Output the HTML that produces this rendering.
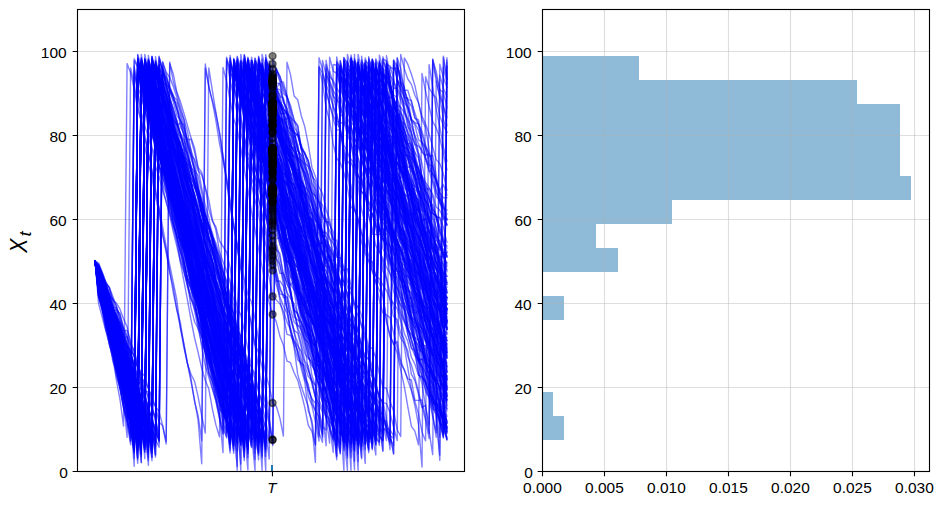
<!DOCTYPE html><html><head><meta charset="utf-8"><style>html,body{margin:0;padding:0;background:#fff;overflow:hidden}svg{display:block}text{font-family:"Liberation Sans",sans-serif;fill:#000}</style></head><body><svg width="944" height="505" viewBox="0 0 944 505"><rect width="944" height="505" fill="#fff"/><g stroke="#b0b0b0" stroke-opacity="0.42" stroke-width="1.11" fill="none"><path d="M77.5 471.50H464.5"/><path d="M77.5 387.50H464.5"/><path d="M77.5 303.50H464.5"/><path d="M77.5 219.50H464.5"/><path d="M77.5 135.50H464.5"/><path d="M77.5 51.50H464.5"/><path d="M272.45 9.5V471.5"/></g><defs><clipPath id="ca"><rect x="77.5" y="9.5" width="387" height="462"/></clipPath></defs><g clip-path="url(#ca)" fill="none" stroke="#0000ff" stroke-opacity="0.5" stroke-width="1.4" stroke-linejoin="round" stroke-linecap="square"><path d="M95.1 261.5 98.6 266.9 102.2 276.8 105.8 287.9 109.3 297.2 112.9 313.8 116.4 323.3 120.0 336.2 123.5 341.5 127.1 346.6 130.6 350.1 134.2 356.4 137.7 366.3 141.3 372.4 144.8 376.0 148.4 388.8 152.0 396.4 155.5 406.9 159.1 411.3 162.6 425.3 166.2 441.6 169.7 63.6 173.3 74.1 176.8 92.0 180.4 101.6 183.9 113.3 187.5 125.6 191.0 137.6 194.6 148.1 198.1 167.3 201.7 172.4 205.3 187.7 208.8 208.9 212.4 221.1 215.9 226.8 219.5 241.0 223.0 246.5 226.6 252.0 230.1 267.7 233.7 290.2 237.2 307.6 240.8 314.9 244.3 330.6 247.9 349.2 251.5 367.1 255.0 379.5 258.6 392.0 262.1 400.7 265.7 408.9 269.2 425.2 272.8 444.1 276.3 69.3 279.9 76.3 283.4 86.4 287.0 95.7 290.5 108.6 294.1 120.1 297.7 125.1 301.2 149.9 304.8 163.0 308.3 166.5 311.9 172.9 315.4 185.5 319.0 201.3 322.5 204.8 326.1 221.3 329.6 224.6 333.2 231.6 336.7 248.9 340.3 271.6 343.9 283.0 347.4 293.0 351.0 313.0 354.5 318.2 358.1 331.9 361.6 345.4 365.2 363.7 368.7 377.6 372.3 387.8 375.8 403.7 379.4 408.6 382.9 425.7 386.5 433.4 390.0 442.4 393.6 60.0 397.2 79.3 400.7 95.8 404.3 106.4 407.8 123.0 411.4 141.1 414.9 152.4 418.5 158.2 422.0 176.0 425.6 189.7 429.1 188.3 432.7 194.1 436.2 207.0 439.8 210.3 443.4 218.0 446.9 219.1"/><path d="M95.1 261.5 98.6 262.8 102.2 272.3 105.8 281.9 109.3 288.0 112.9 299.5 116.4 311.1 120.0 313.1 123.5 329.3 127.1 337.0 130.6 353.5 134.2 363.6 137.7 365.9 141.3 376.0 144.8 390.7 148.4 392.2 152.0 406.1 155.5 418.7 159.1 437.0 162.6 62.4 166.2 72.1 169.7 77.4 173.3 86.5 176.8 97.4 180.4 110.5 183.9 119.2 187.5 145.0 191.0 158.2 194.6 169.9 198.1 191.0 201.7 202.0 205.3 215.5 208.8 228.6 212.4 241.2 215.9 251.9 219.5 263.1 223.0 280.7 226.6 294.4 230.1 308.4 233.7 321.6 237.2 337.4 240.8 346.7 244.3 354.6 247.9 361.7 251.5 367.1 255.0 374.3 258.6 389.7 262.1 405.8 265.7 421.0 269.2 439.3 272.8 59.5 276.3 71.2 279.9 81.4 283.4 82.1 287.0 96.2 290.5 111.0 294.1 127.1 297.7 133.2 301.2 146.7 304.8 153.1 308.3 162.0 311.9 173.5 315.4 193.6 319.0 202.8 322.5 215.9 326.1 222.5 329.6 230.9 333.2 238.4 336.7 249.3 340.3 266.1 343.9 271.1 347.4 287.5 351.0 293.5 354.5 307.5 358.1 315.9 361.6 325.9 365.2 335.4 368.7 354.2 372.3 367.7 375.8 386.3 379.4 395.8 382.9 406.2 386.5 428.2 390.0 429.6 393.6 436.0 397.2 58.1 400.7 87.7 404.3 95.7 407.8 112.5 411.4 134.3 414.9 144.6 418.5 155.4 422.0 177.7 425.6 186.0 429.1 191.2 432.7 208.2 436.2 216.8 439.8 236.8 443.4 252.0 446.9 252.7"/><path d="M95.1 261.5 98.6 264.3 102.2 272.5 105.8 282.3 109.3 287.8 112.9 302.7 116.4 316.8 120.0 327.9 123.5 333.7 127.1 349.4 130.6 361.5 134.2 374.0 137.7 390.0 141.3 401.4 144.8 416.1 148.4 428.0 152.0 457.4 155.5 67.1 159.1 82.8 162.6 97.4 166.2 111.5 169.7 128.8 173.3 144.4 176.8 154.7 180.4 169.3 183.9 166.5 187.5 181.0 191.0 190.2 194.6 207.7 198.1 220.1 201.7 233.7 205.3 245.4 208.8 251.2 212.4 263.4 215.9 280.0 219.5 291.1 223.0 306.7 226.6 318.9 230.1 323.8 233.7 331.5 237.2 338.6 240.8 348.1 244.3 359.9 247.9 378.1 251.5 391.8 255.0 405.8 258.6 414.7 262.1 422.3 265.7 437.9 269.2 64.5 272.8 69.0 276.3 86.5 279.9 96.3 283.4 98.1 287.0 114.0 290.5 125.0 294.1 138.0 297.7 133.8 301.2 147.5 304.8 161.4 308.3 175.4 311.9 194.3 315.4 204.5 319.0 230.4 322.5 247.5 326.1 263.4 329.6 260.1 333.2 260.1 336.7 282.1 340.3 297.0 343.9 315.4 347.4 325.6 351.0 337.4 354.5 353.7 358.1 361.3 361.6 382.2 365.2 387.9 368.7 401.9 372.3 412.9 375.8 432.4 379.4 61.3 382.9 72.0 386.5 87.6 390.0 101.2 393.6 119.4 397.2 132.1 400.7 141.8 404.3 157.8 407.8 179.1 411.4 197.2 414.9 211.0 418.5 226.6 422.0 229.8 425.6 239.3 429.1 250.6 432.7 260.2 436.2 268.7 439.8 281.3 443.4 296.7 446.9 321.9"/><path d="M95.1 261.5 98.6 268.3 102.2 279.4 105.8 287.2 109.3 296.7 112.9 309.8 116.4 313.4 120.0 324.3 123.5 336.0 127.1 348.9 130.6 363.3 134.2 373.5 137.7 388.2 141.3 388.7 144.8 398.3 148.4 410.4 152.0 424.9 155.5 442.9 159.1 56.3 162.6 70.6 166.2 87.1 169.7 99.7 173.3 118.7 176.8 124.6 180.4 133.7 183.9 144.9 187.5 155.8 191.0 170.4 194.6 183.3 198.1 191.6 201.7 204.2 205.3 214.2 208.8 225.8 212.4 237.4 215.9 248.7 219.5 256.9 223.0 270.9 226.6 280.7 230.1 296.8 233.7 312.1 237.2 327.9 240.8 337.2 244.3 351.3 247.9 359.0 251.5 376.2 255.0 387.5 258.6 405.3 262.1 413.5 265.7 429.3 269.2 443.0 272.8 72.6 276.3 88.0 279.9 82.7 283.4 99.8 287.0 113.4 290.5 130.4 294.1 139.7 297.7 146.0 301.2 161.9 304.8 172.6 308.3 185.9 311.9 201.1 315.4 214.3 319.0 217.9 322.5 234.0 326.1 243.5 329.6 254.7 333.2 269.9 336.7 273.3 340.3 284.1 343.9 285.1 347.4 294.0 351.0 308.5 354.5 320.0 358.1 330.6 361.6 346.5 365.2 356.2 368.7 358.4 372.3 377.3 375.8 390.7 379.4 407.8 382.9 417.2 386.5 426.5 390.0 433.9 393.6 453.7 397.2 57.7 400.7 68.6 404.3 90.4 407.8 90.3 411.4 102.3 414.9 112.9 418.5 124.1 422.0 134.8 425.6 147.9 429.1 164.8 432.7 166.0 436.2 182.9 439.8 192.6 443.4 197.9 446.9 197.7"/><path d="M95.1 261.5 98.6 266.8 102.2 276.7 105.8 288.9 109.3 302.2 112.9 314.2 116.4 324.6 120.0 337.2 123.5 352.6 127.1 366.1 130.6 377.8 134.2 393.2 137.7 400.5 141.3 406.4 144.8 412.3 148.4 425.0 152.0 446.0 155.5 69.8 159.1 77.0 162.6 90.7 166.2 93.4 169.7 113.7 173.3 124.7 176.8 134.6 180.4 146.6 183.9 156.3 187.5 160.1 191.0 172.5 194.6 181.3 198.1 195.5 201.7 213.2 205.3 230.0 208.8 239.0 212.4 250.1 215.9 268.7 219.5 279.9 223.0 290.0 226.6 300.6 230.1 308.5 233.7 327.3 237.2 344.0 240.8 361.2 244.3 373.3 247.9 380.5 251.5 395.1 255.0 406.4 258.6 415.6 262.1 430.2 265.7 451.8 269.2 68.9 272.8 76.0 276.3 88.8 279.9 89.6 283.4 101.9 287.0 108.8 290.5 123.2 294.1 139.5 297.7 151.1 301.2 154.4 304.8 167.2 308.3 174.6 311.9 188.5 315.4 197.5 319.0 224.1 322.5 232.6 326.1 232.3 329.6 238.5 333.2 250.9 336.7 280.4 340.3 301.1 343.9 309.3 347.4 321.2 351.0 325.5 354.5 328.2 358.1 346.0 361.6 360.5 365.2 367.7 368.7 375.0 372.3 389.6 375.8 405.8 379.4 412.6 382.9 413.7 386.5 431.2 390.0 438.5 393.6 445.4 397.2 64.2 400.7 80.5 404.3 98.5 407.8 107.6 411.4 121.3 414.9 125.1 418.5 140.0 422.0 142.1 425.6 157.8 429.1 170.8 432.7 173.0 436.2 180.9 439.8 203.4 443.4 208.5 446.9 210.0"/><path d="M95.1 261.5 98.6 267.0 102.2 277.1 105.8 285.8 109.3 296.8 112.9 309.1 116.4 320.9 120.0 328.6 123.5 340.5 127.1 349.3 130.6 368.1 134.2 381.1 137.7 392.9 141.3 400.2 144.8 409.9 148.4 420.8 152.0 428.1 155.5 439.3 159.1 447.2 162.6 67.7 166.2 83.5 169.7 88.0 173.3 97.1 176.8 108.2 180.4 116.4 183.9 130.9 187.5 143.0 191.0 154.9 194.6 159.4 198.1 170.8 201.7 174.8 205.3 187.8 208.8 199.6 212.4 219.8 215.9 230.1 219.5 251.6 223.0 261.8 226.6 270.8 230.1 282.3 233.7 299.9 237.2 314.4 240.8 338.8 244.3 355.2 247.9 367.5 251.5 380.9 255.0 395.8 258.6 403.7 262.1 415.6 265.7 429.1 269.2 459.1 272.8 75.6 276.3 106.7 279.9 109.2 283.4 128.4 287.0 135.9 290.5 145.9 294.1 164.0 297.7 176.4 301.2 179.9 304.8 190.6 308.3 200.2 311.9 213.4 315.4 219.5 319.0 227.1 322.5 237.0 326.1 249.2 329.6 260.1 333.2 274.8 336.7 290.8 340.3 304.8 343.9 312.6 347.4 314.7 351.0 321.0 354.5 328.6 358.1 338.8 361.6 356.4 365.2 367.6 368.7 373.3 372.3 376.7 375.8 387.6 379.4 397.6 382.9 402.4 386.5 403.6 390.0 413.0 393.6 427.0 397.2 440.5 400.7 54.4 404.3 68.7 407.8 79.0 411.4 84.4 414.9 95.3 418.5 102.7 422.0 120.0 425.6 127.4 429.1 149.1 432.7 167.1 436.2 181.1 439.8 194.4 443.4 215.0 446.9 224.5"/><path d="M95.1 261.5 98.6 266.2 102.2 276.5 105.8 283.3 109.3 294.3 112.9 305.4 116.4 326.9 120.0 336.4 123.5 348.6 127.1 357.0 130.6 374.0 134.2 388.7 137.7 394.2 141.3 408.6 144.8 419.1 148.4 426.6 152.0 438.7 155.5 64.5 159.1 73.4 162.6 87.3 166.2 96.7 169.7 109.7 173.3 126.3 176.8 138.1 180.4 144.6 183.9 157.4 187.5 172.5 191.0 185.7 194.6 200.0 198.1 210.2 201.7 226.8 205.3 235.5 208.8 246.3 212.4 253.7 215.9 268.2 219.5 276.9 223.0 293.7 226.6 303.9 230.1 317.6 233.7 335.1 237.2 344.6 240.8 351.3 244.3 356.6 247.9 367.6 251.5 381.4 255.0 388.1 258.6 405.0 262.1 417.4 265.7 456.4 269.2 65.9 272.8 78.5 276.3 96.1 279.9 103.3 283.4 113.0 287.0 114.1 290.5 133.6 294.1 141.9 297.7 161.5 301.2 181.1 304.8 196.1 308.3 209.3 311.9 214.6 315.4 231.8 319.0 247.6 322.5 266.4 326.1 280.5 329.6 284.7 333.2 289.5 336.7 307.4 340.3 329.7 343.9 340.0 347.4 351.6 351.0 365.6 354.5 378.9 358.1 392.7 361.6 403.0 365.2 416.2 368.7 424.5 372.3 439.5 375.8 67.9 379.4 81.9 382.9 89.7 386.5 103.4 390.0 108.3 393.6 116.0 397.2 121.2 400.7 134.8 404.3 150.7 407.8 160.1 411.4 166.3 414.9 181.1 418.5 194.4 422.0 196.3 425.6 214.2 429.1 231.8 432.7 241.9 436.2 253.2 439.8 264.2 443.4 272.9 446.9 287.3"/><path d="M95.1 261.5 98.6 266.0 102.2 275.3 105.8 284.0 109.3 297.9 112.9 309.1 116.4 323.9 120.0 335.5 123.5 347.5 127.1 358.3 130.6 367.8 134.2 382.4 137.7 391.6 141.3 409.3 144.8 416.0 148.4 427.0 152.0 449.8 155.5 69.4 159.1 76.6 162.6 88.9 166.2 98.8 169.7 109.6 173.3 121.2 176.8 134.6 180.4 154.5 183.9 160.8 187.5 164.6 191.0 178.8 194.6 184.8 198.1 192.5 201.7 202.8 205.3 215.1 208.8 224.4 212.4 238.9 215.9 252.1 219.5 266.2 223.0 281.3 226.6 295.5 230.1 304.9 233.7 314.1 237.2 329.5 240.8 341.8 244.3 354.6 247.9 374.0 251.5 381.3 255.0 398.0 258.6 405.3 262.1 428.4 265.7 60.2 269.2 69.1 272.8 79.3 276.3 95.4 279.9 102.9 283.4 111.5 287.0 127.9 290.5 135.0 294.1 143.4 297.7 161.4 301.2 177.2 304.8 191.5 308.3 196.3 311.9 220.9 315.4 232.0 319.0 242.0 322.5 252.9 326.1 259.6 329.6 269.9 333.2 294.6 336.7 297.0 340.3 323.3 343.9 329.2 347.4 335.1 351.0 355.8 354.5 379.9 358.1 389.3 361.6 406.5 365.2 413.5 368.7 423.0 372.3 431.8 375.8 58.8 379.4 68.2 382.9 80.7 386.5 90.2 390.0 101.9 393.6 113.9 397.2 121.2 400.7 130.4 404.3 134.6 407.8 149.3 411.4 165.4 414.9 174.6 418.5 184.2 422.0 192.1 425.6 200.6 429.1 212.9 432.7 213.5 436.2 215.7 439.8 227.4 443.4 244.3 446.9 251.2"/><path d="M95.1 261.5 98.6 267.3 102.2 274.9 105.8 283.8 109.3 286.9 112.9 296.8 116.4 306.0 120.0 320.6 123.5 334.9 127.1 344.6 130.6 352.3 134.2 363.5 137.7 374.2 141.3 384.3 144.8 391.8 148.4 409.7 152.0 417.3 155.5 431.8 159.1 441.1 162.6 66.2 166.2 83.8 169.7 90.5 173.3 101.8 176.8 115.6 180.4 119.8 183.9 136.9 187.5 155.1 191.0 166.3 194.6 176.5 198.1 189.5 201.7 199.2 205.3 221.3 208.8 229.3 212.4 240.8 215.9 257.7 219.5 275.1 223.0 285.5 226.6 296.1 230.1 311.3 233.7 323.2 237.2 335.5 240.8 343.3 244.3 359.6 247.9 367.8 251.5 379.7 255.0 391.9 258.6 402.0 262.1 416.4 265.7 470.2 269.2 66.3 272.8 79.9 276.3 92.9 279.9 106.8 283.4 113.8 287.0 120.8 290.5 129.2 294.1 151.0 297.7 161.6 301.2 179.7 304.8 186.8 308.3 190.1 311.9 203.1 315.4 221.3 319.0 222.9 322.5 231.5 326.1 247.5 329.6 257.7 333.2 267.8 336.7 284.5 340.3 297.4 343.9 310.4 347.4 319.1 351.0 332.7 354.5 341.4 358.1 362.2 361.6 354.6 365.2 367.2 368.7 383.6 372.3 389.5 375.8 405.1 379.4 412.5 382.9 433.2 386.5 66.3 390.0 79.2 393.6 105.0 397.2 116.7 400.7 113.3 404.3 122.6 407.8 135.2 411.4 148.4 414.9 160.1 418.5 174.3 422.0 184.8 425.6 205.0 429.1 218.8 432.7 229.6 436.2 252.9 439.8 256.6 443.4 256.4 446.9 263.8"/><path d="M95.1 261.5 98.6 268.0 102.2 277.6 105.8 288.7 109.3 293.5 112.9 307.5 116.4 323.4 120.0 331.6 123.5 340.1 127.1 348.5 130.6 362.3 134.2 376.2 137.7 385.4 141.3 397.7 144.8 407.0 148.4 414.1 152.0 427.2 155.5 455.1 159.1 73.8 162.6 80.1 166.2 85.8 169.7 97.3 173.3 110.5 176.8 122.1 180.4 133.3 183.9 145.9 187.5 161.0 191.0 172.1 194.6 179.5 198.1 200.0 201.7 214.6 205.3 230.7 208.8 248.1 212.4 260.9 215.9 282.8 219.5 297.4 223.0 306.7 226.6 315.9 230.1 326.0 233.7 337.5 237.2 347.0 240.8 359.4 244.3 370.3 247.9 380.2 251.5 386.9 255.0 395.5 258.6 404.7 262.1 423.9 265.7 441.6 269.2 60.9 272.8 81.0 276.3 95.5 279.9 102.3 283.4 108.8 287.0 113.7 290.5 127.2 294.1 132.1 297.7 144.4 301.2 166.7 304.8 173.5 308.3 185.4 311.9 193.0 315.4 195.9 319.0 210.9 322.5 229.9 326.1 236.9 329.6 248.5 333.2 258.9 336.7 265.4 340.3 281.9 343.9 280.5 347.4 301.1 351.0 308.9 354.5 331.2 358.1 345.5 361.6 356.2 365.2 356.7 368.7 359.6 372.3 374.9 375.8 381.4 379.4 398.1 382.9 401.1 386.5 418.9 390.0 449.6 393.6 60.1 397.2 66.7 400.7 75.0 404.3 89.2 407.8 101.2 411.4 106.0 414.9 118.3 418.5 119.9 422.0 143.6 425.6 158.1 429.1 165.9 432.7 174.9 436.2 179.3 439.8 190.7 443.4 184.3 446.9 195.0"/><path d="M95.1 261.5 98.6 266.5 102.2 280.3 105.8 291.0 109.3 303.9 112.9 316.0 116.4 332.7 120.0 340.5 123.5 357.9 127.1 365.8 130.6 373.4 134.2 384.7 137.7 394.5 141.3 415.1 144.8 458.6 148.4 70.1 152.0 81.1 155.5 88.9 159.1 108.0 162.6 119.9 166.2 133.8 169.7 154.8 173.3 169.3 176.8 182.0 180.4 190.9 183.9 204.5 187.5 214.9 191.0 220.0 194.6 228.4 198.1 244.9 201.7 255.9 205.3 262.0 208.8 263.7 212.4 273.6 215.9 281.8 219.5 291.1 223.0 295.6 226.6 304.8 230.1 313.4 233.7 330.5 237.2 345.1 240.8 364.9 244.3 381.9 247.9 393.9 251.5 402.5 255.0 411.3 258.6 422.6 262.1 441.6 265.7 60.5 269.2 76.6 272.8 83.5 276.3 101.3 279.9 102.4 283.4 114.5 287.0 132.2 290.5 152.9 294.1 157.7 297.7 180.0 301.2 208.1 304.8 221.6 308.3 223.0 311.9 239.6 315.4 256.0 319.0 265.5 322.5 286.6 326.1 310.3 329.6 316.1 333.2 321.6 336.7 335.3 340.3 355.1 343.9 359.1 347.4 366.1 351.0 376.2 354.5 382.8 358.1 393.1 361.6 411.2 365.2 417.3 368.7 436.4 372.3 59.3 375.8 73.2 379.4 76.0 382.9 89.3 386.5 104.4 390.0 111.1 393.6 128.7 397.2 146.9 400.7 159.7 404.3 165.9 407.8 177.1 411.4 195.0 414.9 212.7 418.5 224.1 422.0 234.7 425.6 251.4 429.1 267.7 432.7 286.2 436.2 291.2 439.8 302.5 443.4 320.2 446.9 327.6"/><path d="M95.1 261.5 98.6 268.2 102.2 279.6 105.8 287.9 109.3 294.7 112.9 307.1 116.4 307.7 120.0 314.9 123.5 327.0 127.1 335.7 130.6 348.7 134.2 355.4 137.7 367.2 141.3 382.1 144.8 394.6 148.4 411.4 152.0 434.9 155.5 64.1 159.1 77.8 162.6 92.1 166.2 102.5 169.7 116.6 173.3 129.1 176.8 140.1 180.4 148.8 183.9 165.3 187.5 181.4 191.0 193.7 194.6 199.5 198.1 211.0 201.7 224.4 205.3 237.8 208.8 251.6 212.4 267.0 215.9 276.1 219.5 281.0 223.0 292.7 226.6 311.7 230.1 332.3 233.7 337.0 237.2 357.4 240.8 360.4 244.3 371.4 247.9 385.0 251.5 394.5 255.0 407.4 258.6 413.4 262.1 428.5 265.7 442.5 269.2 73.3 272.8 84.3 276.3 97.3 279.9 106.6 283.4 109.4 287.0 112.8 290.5 117.1 294.1 121.8 297.7 126.2 301.2 146.9 304.8 164.0 308.3 177.8 311.9 198.6 315.4 213.8 319.0 222.6 322.5 241.9 326.1 257.0 329.6 255.4 333.2 281.8 336.7 292.9 340.3 293.5 343.9 313.9 347.4 326.6 351.0 339.5 354.5 360.6 358.1 378.1 361.6 392.1 365.2 405.5 368.7 418.1 372.3 428.9 375.8 445.4 379.4 68.6 382.9 80.7 386.5 91.9 390.0 108.7 393.6 116.2 397.2 125.5 400.7 141.8 404.3 152.3 407.8 157.1 411.4 162.3 414.9 192.9 418.5 201.3 422.0 227.5 425.6 234.7 429.1 248.9 432.7 257.8 436.2 262.1 439.8 271.8 443.4 297.1 446.9 304.0"/><path d="M95.1 261.5 98.6 266.4 102.2 275.4 105.8 287.2 109.3 299.3 112.9 314.5 116.4 320.4 120.0 327.6 123.5 348.2 127.1 355.7 130.6 367.3 134.2 378.3 137.7 392.3 141.3 402.2 144.8 410.5 148.4 425.0 152.0 449.7 155.5 64.6 159.1 80.2 162.6 94.0 166.2 106.0 169.7 113.9 173.3 128.4 176.8 140.1 180.4 147.5 183.9 153.4 187.5 171.4 191.0 182.4 194.6 195.4 198.1 209.8 201.7 224.9 205.3 229.8 208.8 237.7 212.4 251.0 215.9 262.8 219.5 275.4 223.0 288.5 226.6 297.4 230.1 311.7 233.7 321.0 237.2 339.5 240.8 350.8 244.3 363.7 247.9 378.6 251.5 389.2 255.0 401.0 258.6 414.8 262.1 421.6 265.7 446.2 269.2 63.7 272.8 80.3 276.3 82.9 279.9 83.6 283.4 102.7 287.0 108.3 290.5 122.7 294.1 141.8 297.7 158.3 301.2 164.1 304.8 178.5 308.3 190.1 311.9 197.6 315.4 207.6 319.0 216.2 322.5 234.7 326.1 246.6 329.6 256.0 333.2 270.5 336.7 285.1 340.3 300.9 343.9 319.2 347.4 326.5 351.0 335.0 354.5 354.2 358.1 361.8 361.6 378.3 365.2 376.3 368.7 388.2 372.3 394.7 375.8 405.4 379.4 419.9 382.9 419.4 386.5 421.7 390.0 433.4 393.6 454.1 397.2 63.0 400.7 81.4 404.3 86.7 407.8 104.4 411.4 120.8 414.9 135.5 418.5 143.8 422.0 152.2 425.6 155.2 429.1 154.0 432.7 163.5 436.2 180.0 439.8 190.2 443.4 205.8 446.9 214.1"/><path d="M95.1 261.5 98.6 265.4 102.2 275.8 105.8 283.3 109.3 296.6 112.9 309.3 116.4 316.4 120.0 322.8 123.5 330.7 127.1 330.4 130.6 341.6 134.2 352.3 137.7 365.7 141.3 378.0 144.8 381.6 148.4 388.3 152.0 401.0 155.5 406.7 159.1 422.0 162.6 425.7 166.2 444.0 169.7 62.0 173.3 82.0 176.8 93.0 180.4 106.5 183.9 119.3 187.5 131.6 191.0 150.7 194.6 169.7 198.1 175.9 201.7 193.0 205.3 214.6 208.8 225.0 212.4 237.3 215.9 248.9 219.5 263.2 223.0 272.8 226.6 281.4 230.1 294.7 233.7 305.5 237.2 326.3 240.8 339.9 244.3 356.3 247.9 373.8 251.5 382.4 255.0 404.1 258.6 415.7 262.1 444.5 265.7 54.6 269.2 72.2 272.8 81.1 276.3 89.1 279.9 95.0 283.4 114.9 287.0 140.9 290.5 150.2 294.1 157.1 297.7 173.5 301.2 183.7 304.8 201.6 308.3 221.3 311.9 236.9 315.4 250.5 319.0 257.5 322.5 276.4 326.1 296.7 329.6 300.6 333.2 309.6 336.7 325.6 340.3 340.0 343.9 360.4 347.4 366.8 351.0 378.0 354.5 390.6 358.1 403.4 361.6 423.1 365.2 443.9 368.7 80.7 372.3 93.5 375.8 102.9 379.4 121.1 382.9 136.5 386.5 142.1 390.0 147.4 393.6 161.5 397.2 180.4 400.7 186.8 404.3 210.8 407.8 227.3 411.4 240.1 414.9 260.3 418.5 273.5 422.0 277.0 425.6 286.5 429.1 304.5 432.7 322.7 436.2 332.3 439.8 343.8 443.4 355.9 446.9 356.0"/><path d="M95.1 261.5 98.6 268.1 102.2 278.7 105.8 286.8 109.3 300.4 112.9 307.6 116.4 318.6 120.0 329.6 123.5 347.9 127.1 351.7 130.6 352.5 134.2 369.8 137.7 382.5 141.3 403.0 144.8 414.0 148.4 424.5 152.0 440.7 155.5 64.5 159.1 72.3 162.6 79.7 166.2 98.2 169.7 113.1 173.3 125.9 176.8 137.9 180.4 142.2 183.9 158.6 187.5 172.8 191.0 186.0 194.6 199.1 198.1 211.4 201.7 221.9 205.3 226.0 208.8 232.1 212.4 242.3 215.9 260.6 219.5 276.8 223.0 293.1 226.6 306.0 230.1 323.2 233.7 338.3 237.2 347.0 240.8 353.8 244.3 367.0 247.9 372.9 251.5 397.5 255.0 409.9 258.6 424.9 262.1 435.2 265.7 62.6 269.2 76.3 272.8 86.5 276.3 110.3 279.9 128.5 283.4 132.3 287.0 140.9 290.5 141.7 294.1 146.1 297.7 163.9 301.2 184.5 304.8 192.1 308.3 208.7 311.9 212.9 315.4 231.5 319.0 241.0 322.5 251.9 326.1 258.6 329.6 266.9 333.2 291.2 336.7 305.9 340.3 322.1 343.9 332.0 347.4 342.0 351.0 351.8 354.5 357.9 358.1 374.5 361.6 379.9 365.2 396.3 368.7 417.8 372.3 435.2 375.8 455.0 379.4 78.9 382.9 87.3 386.5 97.8 390.0 106.5 393.6 112.6 397.2 117.8 400.7 126.8 404.3 138.6 407.8 151.6 411.4 154.3 414.9 176.2 418.5 189.9 422.0 202.8 425.6 215.7 429.1 233.0 432.7 248.3 436.2 262.2 439.8 269.0 443.4 285.6 446.9 297.6"/><path d="M95.1 261.5 98.6 264.9 102.2 274.8 105.8 283.5 109.3 291.9 112.9 300.4 116.4 303.0 120.0 309.2 123.5 318.8 127.1 326.8 130.6 344.1 134.2 350.7 137.7 363.1 141.3 376.9 144.8 384.9 148.4 400.0 152.0 407.9 155.5 421.6 159.1 440.9 162.6 68.1 166.2 75.9 169.7 89.6 173.3 98.1 176.8 109.9 180.4 121.2 183.9 128.4 187.5 139.8 191.0 139.3 194.6 152.3 198.1 167.8 201.7 188.1 205.3 205.2 208.8 217.4 212.4 237.2 215.9 255.5 219.5 265.8 223.0 279.2 226.6 295.5 230.1 315.2 233.7 331.0 237.2 344.3 240.8 358.0 244.3 371.4 247.9 385.3 251.5 399.6 255.0 410.6 258.6 419.1 262.1 455.9 265.7 57.7 269.2 70.3 272.8 80.6 276.3 88.5 279.9 99.9 283.4 108.7 287.0 113.2 290.5 124.1 294.1 131.8 297.7 148.9 301.2 160.2 304.8 178.0 308.3 195.6 311.9 204.8 315.4 215.8 319.0 245.0 322.5 263.3 326.1 277.2 329.6 300.4 333.2 308.1 336.7 310.3 340.3 328.8 343.9 338.6 347.4 340.3 351.0 347.6 354.5 360.3 358.1 365.7 361.6 378.3 365.2 394.8 368.7 410.2 372.3 429.4 375.8 434.0 379.4 71.2 382.9 75.0 386.5 82.2 390.0 86.4 393.6 102.3 397.2 116.0 400.7 136.8 404.3 155.4 407.8 172.7 411.4 184.6 414.9 199.3 418.5 209.7 422.0 228.9 425.6 245.7 429.1 266.3 432.7 279.8 436.2 291.2 439.8 307.4 443.4 316.9 446.9 327.7"/><path d="M95.1 261.5 98.6 266.4 102.2 275.2 105.8 284.4 109.3 296.0 112.9 298.7 116.4 306.2 120.0 317.2 123.5 331.2 127.1 345.1 130.6 356.1 134.2 373.7 137.7 388.1 141.3 398.0 144.8 405.2 148.4 421.2 152.0 427.3 155.5 446.7 159.1 67.4 162.6 86.1 166.2 95.0 169.7 103.8 173.3 116.4 176.8 124.8 180.4 123.1 183.9 135.0 187.5 140.7 191.0 154.7 194.6 172.5 198.1 188.9 201.7 207.6 205.3 215.3 208.8 226.4 212.4 236.6 215.9 246.3 219.5 261.5 223.0 273.3 226.6 287.6 230.1 301.5 233.7 318.5 237.2 337.6 240.8 350.1 244.3 366.0 247.9 381.6 251.5 390.0 255.0 401.9 258.6 414.5 262.1 428.0 265.7 445.1 269.2 66.9 272.8 81.0 276.3 97.7 279.9 111.0 283.4 120.4 287.0 124.1 290.5 138.8 294.1 144.1 297.7 158.2 301.2 179.5 304.8 189.2 308.3 203.5 311.9 208.6 315.4 225.4 319.0 224.2 322.5 236.3 326.1 240.8 329.6 246.4 333.2 252.1 336.7 274.2 340.3 280.4 343.9 301.2 347.4 312.5 351.0 320.1 354.5 331.6 358.1 342.4 361.6 353.4 365.2 371.7 368.7 372.9 372.3 386.6 375.8 398.2 379.4 412.6 382.9 420.6 386.5 55.8 390.0 75.0 393.6 81.0 397.2 90.1 400.7 100.4 404.3 109.2 407.8 127.0 411.4 131.9 414.9 159.9 418.5 168.8 422.0 179.7 425.6 190.5 429.1 206.1 432.7 204.5 436.2 216.1 439.8 232.8 443.4 242.4 446.9 257.0"/><path d="M95.1 261.5 98.6 266.7 102.2 278.4 105.8 290.5 109.3 301.0 112.9 310.9 116.4 321.8 120.0 336.3 123.5 350.2 127.1 363.4 130.6 372.5 134.2 372.9 137.7 383.8 141.3 401.5 144.8 405.7 148.4 418.8 152.0 427.0 155.5 454.7 159.1 64.8 162.6 77.8 166.2 98.7 169.7 106.2 173.3 128.7 176.8 134.4 180.4 147.0 183.9 167.4 187.5 178.1 191.0 182.8 194.6 187.8 198.1 197.7 201.7 207.4 205.3 218.5 208.8 226.9 212.4 240.2 215.9 249.5 219.5 267.0 223.0 277.6 226.6 295.7 230.1 313.0 233.7 319.5 237.2 331.0 240.8 335.1 244.3 352.0 247.9 372.5 251.5 389.6 255.0 398.4 258.6 408.0 262.1 426.8 265.7 449.0 269.2 71.0 272.8 86.6 276.3 110.9 279.9 126.5 283.4 146.4 287.0 151.1 290.5 159.7 294.1 163.5 297.7 177.2 301.2 189.0 304.8 196.5 308.3 212.8 311.9 221.9 315.4 242.0 319.0 257.3 322.5 266.0 326.1 283.0 329.6 296.5 333.2 318.9 336.7 324.5 340.3 343.5 343.9 354.8 347.4 361.6 351.0 380.1 354.5 385.6 358.1 396.1 361.6 409.5 365.2 426.6 368.7 442.6 372.3 61.8 375.8 79.2 379.4 81.1 382.9 82.6 386.5 87.7 390.0 103.6 393.6 110.2 397.2 124.2 400.7 135.0 404.3 143.4 407.8 154.4 411.4 178.1 414.9 196.6 418.5 208.6 422.0 219.7 425.6 218.3 429.1 238.5 432.7 251.8 436.2 268.7 439.8 290.0 443.4 299.4 446.9 322.9"/><path d="M95.1 261.5 98.6 269.1 102.2 279.7 105.8 291.5 109.3 303.8 112.9 309.2 116.4 316.5 120.0 323.4 123.5 336.7 127.1 345.6 130.6 363.5 134.2 371.4 137.7 388.8 141.3 402.6 144.8 418.6 148.4 440.6 152.0 56.4 155.5 71.3 159.1 80.5 162.6 98.6 166.2 104.4 169.7 113.5 173.3 127.9 176.8 142.1 180.4 154.7 183.9 165.5 187.5 176.7 191.0 192.1 194.6 201.1 198.1 215.3 201.7 228.6 205.3 244.1 208.8 252.9 212.4 261.8 215.9 269.1 219.5 284.6 223.0 297.1 226.6 307.1 230.1 324.1 233.7 341.8 237.2 352.3 240.8 369.0 244.3 382.8 247.9 399.3 251.5 406.5 255.0 416.2 258.6 427.7 262.1 437.8 265.7 65.2 269.2 81.0 272.8 84.4 276.3 86.3 279.9 102.2 283.4 106.7 287.0 126.9 290.5 129.4 294.1 132.6 297.7 135.4 301.2 148.3 304.8 154.0 308.3 160.3 311.9 176.0 315.4 180.7 319.0 194.2 322.5 216.6 326.1 221.9 329.6 221.6 333.2 241.9 336.7 257.4 340.3 257.7 343.9 270.3 347.4 268.8 351.0 285.5 354.5 303.8 358.1 307.9 361.6 326.3 365.2 340.3 368.7 357.5 372.3 374.9 375.8 383.7 379.4 400.3 382.9 413.0 386.5 429.0 390.0 435.4 393.6 438.2 397.2 79.3 400.7 89.2 404.3 97.8 407.8 98.0 411.4 119.3 414.9 122.7 418.5 123.9 422.0 131.2 425.6 144.8 429.1 156.5 432.7 155.1 436.2 174.8 439.8 196.6 443.4 212.9 446.9 224.5"/><path d="M95.1 261.5 98.6 265.9 102.2 273.2 105.8 285.7 109.3 295.0 112.9 305.6 116.4 318.7 120.0 330.2 123.5 342.2 127.1 344.8 130.6 352.4 134.2 367.9 137.7 384.1 141.3 396.8 144.8 403.5 148.4 414.2 152.0 423.0 155.5 431.7 159.1 58.2 162.6 68.9 166.2 79.2 169.7 85.9 173.3 96.4 176.8 100.1 180.4 113.0 183.9 124.6 187.5 140.1 191.0 150.1 194.6 161.4 198.1 183.3 201.7 203.8 205.3 221.8 208.8 237.8 212.4 243.7 215.9 257.2 219.5 270.8 223.0 282.0 226.6 293.8 230.1 302.1 233.7 315.9 237.2 332.0 240.8 343.3 244.3 352.0 247.9 364.8 251.5 381.1 255.0 393.3 258.6 407.8 262.1 424.5 265.7 436.0 269.2 66.5 272.8 82.6 276.3 95.7 279.9 113.5 283.4 114.0 287.0 111.8 290.5 122.4 294.1 134.7 297.7 148.8 301.2 166.7 304.8 173.1 308.3 187.4 311.9 204.1 315.4 219.8 319.0 226.4 322.5 234.1 326.1 245.4 329.6 260.1 333.2 272.3 336.7 277.5 340.3 296.5 343.9 317.3 347.4 342.7 351.0 352.2 354.5 363.6 358.1 379.1 361.6 383.0 365.2 389.0 368.7 393.8 372.3 412.4 375.8 427.1 379.4 435.3 382.9 440.5 386.5 61.6 390.0 84.7 393.6 97.0 397.2 115.9 400.7 127.7 404.3 149.1 407.8 158.1 411.4 169.0 414.9 181.5 418.5 189.1 422.0 199.5 425.6 209.8 429.1 216.9 432.7 237.6 436.2 252.0 439.8 257.9 443.4 264.2 446.9 276.3"/><path d="M95.1 261.5 98.6 270.3 102.2 279.1 105.8 287.8 109.3 299.6 112.9 307.1 116.4 321.3 120.0 332.7 123.5 343.5 127.1 363.2 130.6 372.5 134.2 381.1 137.7 395.5 141.3 400.9 144.8 412.0 148.4 426.0 152.0 430.7 155.5 457.1 159.1 69.1 162.6 73.3 166.2 77.5 169.7 90.7 173.3 99.7 176.8 103.4 180.4 127.1 183.9 133.0 187.5 148.1 191.0 166.8 194.6 172.9 198.1 188.7 201.7 209.6 205.3 219.4 208.8 239.0 212.4 251.4 215.9 265.9 219.5 277.7 223.0 291.6 226.6 309.9 230.1 324.4 233.7 337.7 237.2 349.6 240.8 361.8 244.3 378.0 247.9 394.2 251.5 408.0 255.0 422.2 258.6 423.1 262.1 470.2 265.7 58.3 269.2 72.1 272.8 83.6 276.3 90.8 279.9 103.8 283.4 115.8 287.0 126.5 290.5 149.5 294.1 166.2 297.7 179.4 301.2 181.2 304.8 188.3 308.3 214.2 311.9 233.4 315.4 251.1 319.0 266.9 322.5 270.0 326.1 282.9 329.6 301.6 333.2 316.7 336.7 325.9 340.3 341.5 343.9 359.5 347.4 364.7 351.0 369.7 354.5 376.9 358.1 378.0 361.6 381.9 365.2 386.4 368.7 388.7 372.3 396.3 375.8 398.5 379.4 403.0 382.9 418.9 386.5 430.0 390.0 444.7 393.6 61.0 397.2 78.2 400.7 90.3 404.3 110.8 407.8 118.8 411.4 126.5 414.9 136.2 418.5 152.5 422.0 163.5 425.6 183.5 429.1 199.3 432.7 211.2 436.2 228.6 439.8 247.4 443.4 252.7 446.9 271.7"/><path d="M95.1 261.5 98.6 268.0 102.2 280.4 105.8 292.9 109.3 306.8 112.9 314.8 116.4 322.0 120.0 326.2 123.5 338.2 127.1 336.7 130.6 344.9 134.2 357.1 137.7 369.6 141.3 381.7 144.8 397.2 148.4 405.7 152.0 419.5 155.5 430.6 159.1 440.3 162.6 61.5 166.2 74.0 169.7 88.3 173.3 94.8 176.8 108.7 180.4 121.0 183.9 125.2 187.5 145.8 191.0 155.1 194.6 168.1 198.1 187.4 201.7 200.7 205.3 210.1 208.8 224.4 212.4 232.8 215.9 247.3 219.5 257.8 223.0 273.6 226.6 296.8 230.1 311.0 233.7 334.3 237.2 346.7 240.8 356.7 244.3 361.4 247.9 372.5 251.5 388.7 255.0 395.1 258.6 409.2 262.1 416.8 265.7 449.3 269.2 67.8 272.8 84.7 276.3 97.8 279.9 103.0 283.4 127.0 287.0 138.4 290.5 149.5 294.1 169.1 297.7 169.8 301.2 187.0 304.8 197.7 308.3 206.3 311.9 225.1 315.4 228.3 319.0 233.8 322.5 254.1 326.1 250.0 329.6 259.4 333.2 266.0 336.7 276.6 340.3 285.9 343.9 294.5 347.4 310.6 351.0 322.8 354.5 333.9 358.1 336.5 361.6 351.9 365.2 369.8 368.7 378.1 372.3 393.7 375.8 404.4 379.4 415.2 382.9 439.5 386.5 72.0 390.0 89.2 393.6 98.7 397.2 108.5 400.7 111.9 404.3 120.8 407.8 133.0 411.4 139.4 414.9 160.5 418.5 176.9 422.0 192.3 425.6 201.4 429.1 225.3 432.7 236.4 436.2 245.1 439.8 261.6 443.4 277.5 446.9 292.2"/><path d="M95.1 261.5 98.6 268.3 102.2 278.5 105.8 290.2 109.3 301.1 112.9 307.3 116.4 318.1 120.0 328.1 123.5 333.9 127.1 345.5 130.6 353.8 134.2 368.2 137.7 374.6 141.3 381.5 144.8 389.2 148.4 396.6 152.0 409.2 155.5 417.5 159.1 440.5 162.6 70.3 166.2 84.9 169.7 102.3 173.3 114.7 176.8 120.8 180.4 136.7 183.9 150.9 187.5 168.0 191.0 177.6 194.6 187.0 198.1 197.5 201.7 210.7 205.3 221.9 208.8 228.9 212.4 235.5 215.9 243.0 219.5 255.0 223.0 268.6 226.6 287.2 230.1 299.4 233.7 315.2 237.2 332.3 240.8 342.7 244.3 355.1 247.9 368.0 251.5 377.7 255.0 392.4 258.6 413.4 262.1 424.5 265.7 445.1 269.2 71.8 272.8 82.0 276.3 91.8 279.9 108.4 283.4 125.9 287.0 144.6 290.5 157.0 294.1 172.6 297.7 190.8 301.2 210.1 304.8 219.0 308.3 226.1 311.9 228.3 315.4 232.8 319.0 244.8 322.5 255.0 326.1 268.4 329.6 284.2 333.2 288.9 336.7 303.3 340.3 318.3 343.9 335.5 347.4 332.8 351.0 350.6 354.5 360.8 358.1 358.2 361.6 363.4 365.2 382.0 368.7 395.5 372.3 408.8 375.8 433.2 379.4 62.7 382.9 75.7 386.5 76.5 390.0 88.0 393.6 107.5 397.2 114.1 400.7 124.4 404.3 129.8 407.8 143.3 411.4 144.0 414.9 160.6 418.5 176.7 422.0 199.2 425.6 213.3 429.1 222.3 432.7 233.6 436.2 248.5 439.8 261.2 443.4 286.4 446.9 310.9"/><path d="M95.1 261.5 98.6 268.2 102.2 278.3 105.8 291.7 109.3 301.6 112.9 308.7 116.4 321.5 120.0 341.2 123.5 348.2 127.1 363.7 130.6 369.5 134.2 389.0 137.7 397.7 141.3 402.2 144.8 412.0 148.4 424.7 152.0 438.9 155.5 67.2 159.1 87.6 162.6 95.4 166.2 102.5 169.7 118.6 173.3 134.1 176.8 142.1 180.4 160.5 183.9 167.4 187.5 178.7 191.0 188.9 194.6 201.0 198.1 211.3 201.7 229.4 205.3 244.6 208.8 250.7 212.4 260.9 215.9 279.4 219.5 287.7 223.0 299.1 226.6 304.2 230.1 316.6 233.7 328.7 237.2 348.0 240.8 355.6 244.3 370.4 247.9 386.3 251.5 399.2 255.0 417.1 258.6 429.9 262.1 442.3 265.7 70.3 269.2 82.0 272.8 89.7 276.3 101.3 279.9 115.4 283.4 125.7 287.0 146.1 290.5 160.5 294.1 174.4 297.7 182.7 301.2 207.2 304.8 215.3 308.3 228.9 311.9 241.4 315.4 251.1 319.0 266.7 322.5 279.5 326.1 297.0 329.6 311.7 333.2 320.3 336.7 332.3 340.3 340.8 343.9 359.9 347.4 370.8 351.0 385.2 354.5 391.5 358.1 410.6 361.6 427.0 365.2 60.1 368.7 64.5 372.3 71.7 375.8 80.9 379.4 84.1 382.9 98.2 386.5 106.1 390.0 120.2 393.6 128.9 397.2 136.4 400.7 145.5 404.3 146.0 407.8 155.6 411.4 171.5 414.9 173.9 418.5 171.8 422.0 176.7 425.6 189.5 429.1 199.1 432.7 213.4 436.2 217.0 439.8 217.2 443.4 227.3 446.9 242.5"/><path d="M95.1 261.5 98.6 269.8 102.2 282.2 105.8 292.1 109.3 306.6 112.9 318.4 116.4 325.5 120.0 340.2 123.5 355.0 127.1 355.0 130.6 373.1 134.2 378.0 137.7 394.2 141.3 412.9 144.8 427.1 148.4 439.6 152.0 57.8 155.5 82.4 159.1 100.8 162.6 112.7 166.2 129.9 169.7 135.1 173.3 147.3 176.8 156.3 180.4 172.4 183.9 185.5 187.5 193.1 191.0 194.8 194.6 201.5 198.1 211.8 201.7 223.1 205.3 239.0 208.8 257.0 212.4 263.7 215.9 272.1 219.5 285.2 223.0 290.4 226.6 304.9 230.1 320.8 233.7 335.1 237.2 343.5 240.8 356.2 244.3 371.8 247.9 379.4 251.5 390.1 255.0 402.4 258.6 422.2 262.1 457.9 265.7 69.1 269.2 85.7 272.8 97.5 276.3 124.5 279.9 139.4 283.4 143.5 287.0 156.8 290.5 164.8 294.1 175.1 297.7 187.2 301.2 208.4 304.8 225.1 308.3 238.6 311.9 249.4 315.4 265.6 319.0 288.5 322.5 298.9 326.1 316.7 329.6 323.4 333.2 341.6 336.7 364.6 340.3 379.2 343.9 385.7 347.4 392.0 351.0 397.0 354.5 409.2 358.1 419.6 361.6 435.5 365.2 449.6 368.7 73.2 372.3 84.4 375.8 85.8 379.4 101.5 382.9 111.8 386.5 129.8 390.0 139.6 393.6 154.6 397.2 163.2 400.7 182.1 404.3 199.1 407.8 218.4 411.4 234.7 414.9 249.0 418.5 263.3 422.0 284.0 425.6 289.4 429.1 301.4 432.7 310.4 436.2 319.4 439.8 321.1 443.4 328.4 446.9 348.6"/><path d="M95.1 261.5 98.6 269.6 102.2 280.2 105.8 289.7 109.3 305.0 112.9 317.8 116.4 324.2 120.0 332.5 123.5 348.3 127.1 352.5 130.6 377.4 134.2 387.3 137.7 392.7 141.3 407.0 144.8 417.7 148.4 429.4 152.0 438.4 155.5 60.9 159.1 76.1 162.6 81.5 166.2 93.3 169.7 105.6 173.3 122.7 176.8 137.7 180.4 147.1 183.9 150.6 187.5 166.2 191.0 181.1 194.6 199.7 198.1 210.4 201.7 210.3 205.3 220.5 208.8 237.1 212.4 250.8 215.9 263.1 219.5 279.2 223.0 293.1 226.6 309.3 230.1 321.5 233.7 331.4 237.2 343.3 240.8 351.3 244.3 374.7 247.9 388.7 251.5 404.0 255.0 413.6 258.6 423.7 262.1 446.2 265.7 62.8 269.2 81.9 272.8 96.0 276.3 112.8 279.9 118.5 283.4 121.7 287.0 136.7 290.5 139.2 294.1 168.0 297.7 181.6 301.2 195.4 304.8 212.8 308.3 225.0 311.9 232.7 315.4 250.2 319.0 262.3 322.5 269.7 326.1 277.9 329.6 295.6 333.2 310.2 336.7 318.1 340.3 335.3 343.9 354.2 347.4 360.1 351.0 373.0 354.5 390.9 358.1 413.1 361.6 428.6 365.2 432.4 368.7 450.7 372.3 65.4 375.8 80.9 379.4 87.5 382.9 102.3 386.5 118.1 390.0 133.8 393.6 145.5 397.2 147.7 400.7 180.4 404.3 201.0 407.8 213.7 411.4 229.2 414.9 241.7 418.5 252.0 422.0 254.1 425.6 270.5 429.1 289.4 432.7 299.8 436.2 307.0 439.8 326.8 443.4 340.6 446.9 344.3"/><path d="M95.1 261.5 98.6 270.2 102.2 281.3 105.8 290.5 109.3 299.8 112.9 311.7 116.4 312.6 120.0 328.4 123.5 344.0 127.1 360.8 130.6 366.5 134.2 370.5 137.7 377.1 141.3 387.1 144.8 395.2 148.4 408.9 152.0 421.8 155.5 427.0 159.1 442.7 162.6 72.7 166.2 90.5 169.7 106.1 173.3 119.8 176.8 125.2 180.4 133.5 183.9 139.0 187.5 152.3 191.0 169.8 194.6 181.0 198.1 189.9 201.7 204.4 205.3 224.8 208.8 236.9 212.4 246.7 215.9 262.1 219.5 282.0 223.0 293.5 226.6 301.2 230.1 318.7 233.7 330.1 237.2 341.2 240.8 355.8 244.3 366.3 247.9 383.9 251.5 395.1 255.0 412.8 258.6 428.9 262.1 439.6 265.7 65.6 269.2 86.4 272.8 94.1 276.3 106.9 279.9 119.4 283.4 139.8 287.0 153.4 290.5 156.4 294.1 169.2 297.7 178.1 301.2 196.3 304.8 206.0 308.3 220.0 311.9 228.6 315.4 250.2 319.0 252.8 322.5 267.1 326.1 281.8 329.6 281.5 333.2 291.6 336.7 290.1 340.3 306.9 343.9 315.0 347.4 324.2 351.0 337.5 354.5 351.9 358.1 360.7 361.6 368.6 365.2 376.0 368.7 387.9 372.3 398.3 375.8 407.3 379.4 423.7 382.9 437.1 386.5 64.5 390.0 65.9 393.6 78.3 397.2 98.9 400.7 109.0 404.3 128.7 407.8 143.1 411.4 147.7 414.9 164.1 418.5 168.8 422.0 178.3 425.6 192.8 429.1 209.5 432.7 225.9 436.2 236.3 439.8 240.9 443.4 254.1 446.9 256.9"/><path d="M95.1 261.5 98.6 269.4 102.2 279.8 105.8 289.6 109.3 302.4 112.9 311.8 116.4 309.4 120.0 320.6 123.5 329.0 127.1 341.6 130.6 352.3 134.2 368.9 137.7 378.6 141.3 389.3 144.8 401.9 148.4 417.0 152.0 437.7 155.5 67.2 159.1 75.9 162.6 83.5 166.2 95.3 169.7 117.0 173.3 127.1 176.8 138.0 180.4 147.2 183.9 159.4 187.5 175.2 191.0 183.1 194.6 197.4 198.1 215.3 201.7 229.5 205.3 243.3 208.8 262.3 212.4 275.8 215.9 292.4 219.5 308.0 223.0 325.7 226.6 341.2 230.1 356.0 233.7 367.9 237.2 376.6 240.8 388.2 244.3 392.9 247.9 398.4 251.5 407.1 255.0 421.9 258.6 442.3 262.1 68.5 265.7 78.6 269.2 96.5 272.8 103.5 276.3 127.1 279.9 143.2 283.4 161.8 287.0 174.5 290.5 187.6 294.1 200.8 297.7 211.8 301.2 219.3 304.8 231.7 308.3 246.4 311.9 244.5 315.4 253.0 319.0 271.3 322.5 278.7 326.1 299.8 329.6 307.7 333.2 317.8 336.7 327.3 340.3 344.8 343.9 356.6 347.4 371.6 351.0 374.7 354.5 394.1 358.1 408.2 361.6 419.1 365.2 426.6 368.7 433.8 372.3 61.4 375.8 85.8 379.4 98.1 382.9 105.9 386.5 116.4 390.0 125.1 393.6 139.0 397.2 154.3 400.7 162.7 404.3 177.7 407.8 193.7 411.4 211.3 414.9 220.9 418.5 234.0 422.0 249.2 425.6 254.1 429.1 263.6 432.7 279.1 436.2 288.0 439.8 295.6 443.4 300.6 446.9 314.6"/><path d="M95.1 261.5 98.6 270.7 102.2 281.8 105.8 295.3 109.3 305.6 112.9 316.6 116.4 327.8 120.0 341.3 123.5 354.4 127.1 365.6 130.6 373.1 134.2 387.6 137.7 402.7 141.3 409.1 144.8 421.5 148.4 426.9 152.0 436.0 155.5 446.2 159.1 74.0 162.6 90.3 166.2 106.5 169.7 115.4 173.3 134.8 176.8 149.9 180.4 169.2 183.9 182.2 187.5 201.1 191.0 215.4 194.6 229.6 198.1 240.0 201.7 250.9 205.3 264.8 208.8 278.1 212.4 294.4 215.9 300.5 219.5 310.6 223.0 321.7 226.6 339.2 230.1 350.1 233.7 357.2 237.2 365.8 240.8 375.9 244.3 385.5 247.9 389.4 251.5 401.8 255.0 410.9 258.6 425.6 262.1 450.1 265.7 60.0 269.2 83.7 272.8 102.6 276.3 95.8 279.9 119.6 283.4 123.3 287.0 132.9 290.5 142.7 294.1 153.4 297.7 165.6 301.2 187.2 304.8 196.2 308.3 216.6 311.9 218.9 315.4 228.4 319.0 246.6 322.5 251.5 326.1 265.4 329.6 274.7 333.2 291.8 336.7 307.3 340.3 315.9 343.9 331.0 347.4 341.2 351.0 343.7 354.5 346.6 358.1 361.8 361.6 371.3 365.2 381.9 368.7 399.8 372.3 412.5 375.8 438.0 379.4 442.6 382.9 71.8 386.5 80.9 390.0 83.8 393.6 104.5 397.2 111.5 400.7 121.4 404.3 132.2 407.8 144.8 411.4 150.0 414.9 163.1 418.5 183.4 422.0 188.1 425.6 191.2 429.1 196.1 432.7 213.2 436.2 216.5 439.8 218.1 443.4 238.1 446.9 248.2"/><path d="M95.1 261.5 98.6 269.5 102.2 281.1 105.8 294.4 109.3 304.8 112.9 323.7 116.4 333.5 120.0 342.3 123.5 353.2 127.1 358.3 130.6 375.0 134.2 390.7 137.7 409.7 141.3 413.6 144.8 421.2 148.4 439.6 152.0 58.4 155.5 69.9 159.1 81.7 162.6 94.4 166.2 108.5 169.7 124.8 173.3 140.8 176.8 157.0 180.4 167.3 183.9 178.2 187.5 190.8 191.0 206.6 194.6 216.6 198.1 226.0 201.7 240.8 205.3 256.0 208.8 264.5 212.4 276.2 215.9 292.4 219.5 304.5 223.0 316.2 226.6 326.2 230.1 338.7 233.7 352.4 237.2 362.8 240.8 373.0 244.3 387.6 247.9 401.8 251.5 417.5 255.0 440.6 258.6 63.0 262.1 80.3 265.7 84.3 269.2 90.8 272.8 103.9 276.3 108.0 279.9 119.2 283.4 132.1 287.0 146.0 290.5 152.3 294.1 178.8 297.7 187.7 301.2 197.5 304.8 210.7 308.3 212.9 311.9 213.6 315.4 234.1 319.0 245.1 322.5 242.7 326.1 259.4 329.6 270.5 333.2 280.9 336.7 293.9 340.3 304.2 343.9 311.0 347.4 337.5 351.0 350.6 354.5 361.1 358.1 370.7 361.6 384.9 365.2 394.4 368.7 404.3 372.3 421.9 375.8 423.2 379.4 433.9 382.9 68.1 386.5 83.7 390.0 90.9 393.6 103.3 397.2 115.3 400.7 129.2 404.3 144.3 407.8 154.0 411.4 162.1 414.9 175.9 418.5 200.4 422.0 207.6 425.6 227.7 429.1 229.5 432.7 245.3 436.2 252.5 439.8 264.0 443.4 277.0 446.9 284.3"/><path d="M95.1 261.5 98.6 269.3 102.2 280.3 105.8 290.7 109.3 300.7 112.9 309.6 116.4 322.9 120.0 334.3 123.5 341.6 127.1 356.2 130.6 363.8 134.2 378.1 137.7 393.9 141.3 405.3 144.8 416.4 148.4 426.2 152.0 433.9 155.5 62.7 159.1 81.3 162.6 88.7 166.2 103.4 169.7 120.1 173.3 134.9 176.8 143.5 180.4 160.3 183.9 170.8 187.5 185.7 191.0 198.3 194.6 213.6 198.1 230.8 201.7 247.8 205.3 262.3 208.8 274.1 212.4 287.4 215.9 295.2 219.5 303.5 223.0 316.2 226.6 326.3 230.1 336.8 233.7 352.0 237.2 362.3 240.8 367.3 244.3 378.8 247.9 400.3 251.5 409.1 255.0 423.0 258.6 452.5 262.1 70.0 265.7 83.1 269.2 97.2 272.8 101.6 276.3 122.0 279.9 132.7 283.4 148.7 287.0 161.4 290.5 173.3 294.1 194.4 297.7 216.2 301.2 228.3 304.8 239.4 308.3 249.7 311.9 251.8 315.4 271.7 319.0 284.3 322.5 302.4 326.1 321.9 329.6 332.2 333.2 348.2 336.7 355.6 340.3 357.8 343.9 365.6 347.4 375.6 351.0 387.9 354.5 397.9 358.1 404.1 361.6 410.5 365.2 423.5 368.7 427.1 372.3 443.1 375.8 63.3 379.4 81.3 382.9 78.7 386.5 98.7 390.0 96.7 393.6 110.4 397.2 118.9 400.7 129.4 404.3 138.5 407.8 149.3 411.4 157.4 414.9 177.1 418.5 195.9 422.0 215.4 425.6 229.9 429.1 239.4 432.7 267.0 436.2 280.3 439.8 282.5 443.4 305.6 446.9 330.3"/><path d="M95.1 261.5 98.6 269.9 102.2 279.0 105.8 289.3 109.3 295.4 112.9 311.5 116.4 322.6 120.0 332.3 123.5 340.8 127.1 355.1 130.6 360.7 134.2 376.2 137.7 383.7 141.3 382.3 144.8 402.0 148.4 410.5 152.0 416.4 155.5 440.1 159.1 56.9 162.6 71.7 166.2 84.2 169.7 100.6 173.3 113.8 176.8 125.9 180.4 144.1 183.9 163.7 187.5 179.6 191.0 194.9 194.6 207.8 198.1 218.9 201.7 228.5 205.3 241.9 208.8 250.0 212.4 259.7 215.9 272.8 219.5 281.0 223.0 292.0 226.6 302.1 230.1 306.2 233.7 323.3 237.2 336.8 240.8 349.6 244.3 358.5 247.9 375.4 251.5 391.1 255.0 409.5 258.6 431.0 262.1 63.0 265.7 82.7 269.2 95.0 272.8 102.7 276.3 108.7 279.9 124.4 283.4 142.4 287.0 146.4 290.5 165.2 294.1 172.9 297.7 184.6 301.2 185.4 304.8 187.6 308.3 197.6 311.9 205.6 315.4 211.5 319.0 231.0 322.5 242.1 326.1 245.6 329.6 249.8 333.2 254.7 336.7 272.0 340.3 283.7 343.9 298.1 347.4 306.9 351.0 317.9 354.5 329.4 358.1 346.4 361.6 359.1 365.2 371.3 368.7 389.7 372.3 400.7 375.8 418.3 379.4 441.4 382.9 59.9 386.5 69.4 390.0 82.6 393.6 98.1 397.2 105.9 400.7 118.4 404.3 131.6 407.8 138.2 411.4 146.3 414.9 152.3 418.5 170.9 422.0 183.9 425.6 200.0 429.1 207.4 432.7 216.7 436.2 228.2 439.8 244.8 443.4 249.5 446.9 255.3"/><path d="M95.1 261.5 98.6 268.2 102.2 280.5 105.8 291.8 109.3 304.1 112.9 310.5 116.4 321.9 120.0 337.2 123.5 343.8 127.1 357.1 130.6 367.8 134.2 382.8 137.7 400.2 141.3 410.6 144.8 423.3 148.4 434.4 152.0 56.8 155.5 75.5 159.1 81.7 162.6 92.6 166.2 107.2 169.7 115.8 173.3 129.5 176.8 135.6 180.4 143.4 183.9 155.7 187.5 168.3 191.0 182.1 194.6 195.4 198.1 211.1 201.7 221.9 205.3 243.5 208.8 252.5 212.4 267.5 215.9 279.1 219.5 291.1 223.0 302.9 226.6 303.4 230.1 324.4 233.7 342.0 237.2 355.5 240.8 365.4 244.3 383.6 247.9 389.9 251.5 408.9 255.0 423.3 258.6 451.2 262.1 68.5 265.7 80.2 269.2 88.7 272.8 102.5 276.3 115.7 279.9 123.6 283.4 139.0 287.0 163.6 290.5 173.5 294.1 184.5 297.7 201.9 301.2 209.0 304.8 223.9 308.3 235.0 311.9 248.8 315.4 269.7 319.0 273.5 322.5 288.3 326.1 302.2 329.6 315.1 333.2 328.2 336.7 350.9 340.3 373.9 343.9 390.2 347.4 402.9 351.0 410.6 354.5 421.6 358.1 438.2 361.6 64.4 365.2 72.9 368.7 89.5 372.3 101.2 375.8 104.3 379.4 120.0 382.9 134.4 386.5 151.4 390.0 157.9 393.6 174.7 397.2 185.8 400.7 191.3 404.3 210.1 407.8 225.4 411.4 228.5 414.9 255.5 418.5 274.3 422.0 284.8 425.6 291.2 429.1 300.2 432.7 312.5 436.2 336.0 439.8 344.6 443.4 348.8 446.9 355.6"/><path d="M95.1 261.5 98.6 269.4 102.2 283.1 105.8 295.6 109.3 308.0 112.9 317.7 116.4 332.1 120.0 348.7 123.5 360.9 127.1 372.8 130.6 381.1 134.2 389.1 137.7 400.2 141.3 412.1 144.8 427.4 148.4 432.3 152.0 457.4 155.5 71.0 159.1 80.9 162.6 92.7 166.2 108.1 169.7 123.7 173.3 136.9 176.8 144.1 180.4 155.3 183.9 169.4 187.5 184.3 191.0 202.9 194.6 216.0 198.1 226.7 201.7 238.9 205.3 242.0 208.8 255.2 212.4 270.5 215.9 289.7 219.5 297.7 223.0 314.5 226.6 330.0 230.1 342.8 233.7 353.0 237.2 356.3 240.8 371.8 244.3 385.9 247.9 401.6 251.5 418.6 255.0 427.2 258.6 443.4 262.1 69.8 265.7 84.8 269.2 89.7 272.8 102.1 276.3 114.0 279.9 116.6 283.4 125.2 287.0 138.0 290.5 144.9 294.1 151.1 297.7 157.4 301.2 166.5 304.8 179.2 308.3 195.2 311.9 202.0 315.4 216.5 319.0 226.8 322.5 244.0 326.1 262.2 329.6 273.6 333.2 282.7 336.7 295.0 340.3 308.2 343.9 313.3 347.4 322.7 351.0 340.3 354.5 361.2 358.1 372.0 361.6 385.7 365.2 400.0 368.7 411.5 372.3 425.8 375.8 444.1 379.4 67.0 382.9 83.9 386.5 98.5 390.0 104.9 393.6 118.6 397.2 144.7 400.7 153.5 404.3 167.2 407.8 185.2 411.4 200.9 414.9 205.5 418.5 220.2 422.0 232.7 425.6 241.6 429.1 268.4 432.7 279.0 436.2 297.2 439.8 311.3 443.4 319.1 446.9 324.0"/><path d="M95.1 261.5 98.6 270.9 102.2 282.8 105.8 295.3 109.3 303.1 112.9 311.3 116.4 329.4 120.0 340.0 123.5 356.0 127.1 362.0 130.6 372.8 134.2 392.6 137.7 398.4 141.3 402.1 144.8 408.1 148.4 425.2 152.0 446.1 155.5 70.7 159.1 85.6 162.6 98.1 166.2 113.4 169.7 116.3 173.3 130.1 176.8 144.2 180.4 161.3 183.9 174.3 187.5 197.5 191.0 212.6 194.6 222.9 198.1 233.9 201.7 244.0 205.3 258.2 208.8 266.4 212.4 280.8 215.9 295.2 219.5 303.8 223.0 311.9 226.6 320.1 230.1 336.4 233.7 352.3 237.2 366.0 240.8 375.7 244.3 383.7 247.9 400.7 251.5 408.2 255.0 423.7 258.6 440.7 262.1 65.8 265.7 83.4 269.2 88.7 272.8 102.8 276.3 115.8 279.9 119.6 283.4 135.7 287.0 150.9 290.5 159.1 294.1 166.0 297.7 181.4 301.2 194.0 304.8 213.3 308.3 232.2 311.9 243.3 315.4 250.6 319.0 264.7 322.5 275.9 326.1 296.9 329.6 306.0 333.2 325.9 336.7 336.2 340.3 346.7 343.9 370.3 347.4 376.3 351.0 385.0 354.5 389.0 358.1 415.4 361.6 440.6 365.2 63.2 368.7 87.0 372.3 95.4 375.8 116.6 379.4 129.6 382.9 136.6 386.5 155.6 390.0 177.9 393.6 189.2 397.2 208.0 400.7 217.2 404.3 236.1 407.8 260.6 411.4 277.9 414.9 290.0 418.5 298.6 422.0 316.4 425.6 341.7 429.1 340.7 432.7 359.0 436.2 381.1 439.8 387.4 443.4 391.3 446.9 405.0"/><path d="M95.1 261.5 98.6 270.3 102.2 285.1 105.8 298.4 109.3 309.3 112.9 318.9 116.4 330.2 120.0 342.7 123.5 351.0 127.1 364.9 130.6 368.2 134.2 379.6 137.7 395.5 141.3 411.6 144.8 444.2 148.4 63.0 152.0 74.9 155.5 85.4 159.1 95.5 162.6 106.8 166.2 114.7 169.7 126.1 173.3 143.1 176.8 151.7 180.4 167.7 183.9 177.6 187.5 184.5 191.0 193.8 194.6 217.2 198.1 231.1 201.7 242.4 205.3 255.3 208.8 276.5 212.4 290.3 215.9 306.8 219.5 317.7 223.0 325.3 226.6 331.8 230.1 343.3 233.7 362.1 237.2 378.9 240.8 390.3 244.3 403.3 247.9 408.5 251.5 420.9 255.0 440.8 258.6 62.3 262.1 68.6 265.7 80.6 269.2 90.9 272.8 101.7 276.3 110.5 279.9 122.8 283.4 129.1 287.0 141.7 290.5 157.4 294.1 162.3 297.7 182.9 301.2 187.4 304.8 212.2 308.3 230.4 311.9 235.1 315.4 250.1 319.0 267.9 322.5 286.3 326.1 298.7 329.6 306.8 333.2 319.2 336.7 326.9 340.3 323.9 343.9 348.3 347.4 358.4 351.0 377.2 354.5 397.0 358.1 410.5 361.6 420.8 365.2 423.9 368.7 427.4 372.3 428.9 375.8 444.3 379.4 63.2 382.9 68.9 386.5 80.4 390.0 90.7 393.6 94.8 397.2 97.9 400.7 121.9 404.3 123.4 407.8 131.4 411.4 144.8 414.9 158.1 418.5 177.7 422.0 189.8 425.6 197.9 429.1 220.1 432.7 233.1 436.2 245.9 439.8 261.7 443.4 274.3 446.9 299.5"/><path d="M95.1 261.5 98.6 269.8 102.2 280.8 105.8 288.7 109.3 304.2 112.9 317.5 116.4 328.6 120.0 340.9 123.5 354.1 127.1 371.6 130.6 384.4 134.2 397.9 137.7 414.7 141.3 435.2 144.8 59.0 148.4 72.3 152.0 88.3 155.5 98.3 159.1 117.7 162.6 129.2 166.2 139.8 169.7 155.1 173.3 169.6 176.8 180.1 180.4 186.5 183.9 198.7 187.5 211.9 191.0 222.3 194.6 242.6 198.1 259.1 201.7 270.4 205.3 275.3 208.8 286.2 212.4 294.3 215.9 310.1 219.5 325.6 223.0 328.8 226.6 343.0 230.1 364.1 233.7 379.3 237.2 390.6 240.8 406.5 244.3 418.5 247.9 428.5 251.5 433.9 255.0 470.2 258.6 58.6 262.1 70.2 265.7 82.4 269.2 96.3 272.8 103.4 276.3 119.7 279.9 126.1 283.4 138.1 287.0 152.1 290.5 173.2 294.1 179.0 297.7 192.8 301.2 200.3 304.8 219.8 308.3 234.0 311.9 244.2 315.4 263.4 319.0 277.6 322.5 285.0 326.1 290.0 329.6 294.8 333.2 307.4 336.7 312.0 340.3 316.4 343.9 321.7 347.4 336.4 351.0 342.4 354.5 358.3 358.1 374.7 361.6 377.2 365.2 390.0 368.7 404.1 372.3 412.5 375.8 431.3 379.4 55.3 382.9 68.4 386.5 72.7 390.0 85.2 393.6 100.5 397.2 105.5 400.7 107.0 404.3 112.8 407.8 120.2 411.4 132.6 414.9 144.4 418.5 146.2 422.0 149.9 425.6 159.2 429.1 170.4 432.7 182.7 436.2 196.5 439.8 200.5 443.4 219.0 446.9 225.5"/><path d="M95.1 261.5 98.6 271.5 102.2 284.2 105.8 295.8 109.3 303.3 112.9 310.2 116.4 314.9 120.0 326.2 123.5 343.7 127.1 349.1 130.6 356.5 134.2 367.9 137.7 375.7 141.3 390.4 144.8 411.2 148.4 426.0 152.0 453.4 155.5 70.5 159.1 86.0 162.6 102.1 166.2 111.3 169.7 120.2 173.3 132.9 176.8 139.0 180.4 153.2 183.9 163.1 187.5 175.0 191.0 185.9 194.6 194.4 198.1 204.4 201.7 215.1 205.3 233.9 208.8 243.5 212.4 253.8 215.9 264.2 219.5 273.5 223.0 291.5 226.6 303.5 230.1 314.7 233.7 332.8 237.2 349.1 240.8 356.5 244.3 370.3 247.9 386.6 251.5 398.7 255.0 413.8 258.6 440.2 262.1 59.3 265.7 75.3 269.2 91.7 272.8 103.6 276.3 107.5 279.9 120.3 283.4 135.1 287.0 147.9 290.5 152.2 294.1 154.9 297.7 168.2 301.2 190.5 304.8 208.0 308.3 216.4 311.9 231.9 315.4 252.1 319.0 267.4 322.5 285.4 326.1 301.0 329.6 306.3 333.2 320.6 336.7 339.2 340.3 353.4 343.9 345.9 347.4 339.3 351.0 362.4 354.5 383.7 358.1 398.3 361.6 405.5 365.2 433.2 368.7 438.6 372.3 437.1 375.8 72.3 379.4 89.5 382.9 108.1 386.5 119.4 390.0 124.3 393.6 129.9 397.2 129.2 400.7 139.9 404.3 148.1 407.8 158.5 411.4 175.6 414.9 189.2 418.5 193.6 422.0 205.6 425.6 219.1 429.1 240.9 432.7 249.5 436.2 266.8 439.8 274.2 443.4 290.3 446.9 304.0"/><path d="M95.1 261.5 98.6 270.2 102.2 282.7 105.8 294.3 109.3 305.4 112.9 317.0 116.4 328.8 120.0 342.9 123.5 349.9 127.1 364.7 130.6 375.5 134.2 379.4 137.7 392.8 141.3 407.6 144.8 425.3 148.4 427.5 152.0 452.9 155.5 68.5 159.1 87.1 162.6 99.0 166.2 106.0 169.7 116.2 173.3 135.9 176.8 147.3 180.4 169.8 183.9 187.7 187.5 202.7 191.0 216.0 194.6 221.2 198.1 232.5 201.7 243.4 205.3 258.8 208.8 267.7 212.4 283.2 215.9 299.5 219.5 303.7 223.0 317.7 226.6 337.8 230.1 345.7 233.7 363.1 237.2 373.8 240.8 378.9 244.3 389.8 247.9 402.3 251.5 413.3 255.0 427.7 258.6 459.8 262.1 64.3 265.7 82.2 269.2 94.4 272.8 107.2 276.3 118.3 279.9 130.3 283.4 138.9 287.0 155.0 290.5 157.7 294.1 167.4 297.7 184.3 301.2 198.3 304.8 203.5 308.3 215.8 311.9 231.7 315.4 252.8 319.0 260.5 322.5 266.6 326.1 278.3 329.6 287.6 333.2 300.1 336.7 304.1 340.3 309.1 343.9 314.7 347.4 331.5 351.0 345.2 354.5 356.1 358.1 372.7 361.6 394.6 365.2 399.3 368.7 418.1 372.3 424.3 375.8 438.9 379.4 69.3 382.9 74.8 386.5 94.5 390.0 111.8 393.6 122.9 397.2 142.7 400.7 149.7 404.3 165.4 407.8 170.4 411.4 179.4 414.9 185.1 418.5 192.7 422.0 210.5 425.6 211.5 429.1 220.4 432.7 239.9 436.2 256.5 439.8 266.3 443.4 278.5 446.9 292.6"/><path d="M95.1 261.5 98.6 271.2 102.2 282.9 105.8 292.7 109.3 299.3 112.9 310.7 116.4 316.5 120.0 324.4 123.5 341.5 127.1 350.3 130.6 367.5 134.2 382.6 137.7 392.1 141.3 403.1 144.8 413.4 148.4 420.9 152.0 437.6 155.5 64.3 159.1 79.1 162.6 92.3 166.2 109.7 169.7 119.2 173.3 130.6 176.8 142.7 180.4 155.1 183.9 165.1 187.5 183.4 191.0 191.8 194.6 205.4 198.1 220.4 201.7 244.5 205.3 257.0 208.8 265.5 212.4 284.1 215.9 299.6 219.5 313.5 223.0 328.3 226.6 329.2 230.1 341.1 233.7 352.4 237.2 368.2 240.8 385.6 244.3 397.4 247.9 409.0 251.5 429.2 255.0 459.4 258.6 65.0 262.1 83.9 265.7 98.6 269.2 103.4 272.8 115.3 276.3 117.3 279.9 135.8 283.4 154.6 287.0 146.9 290.5 145.1 294.1 151.2 297.7 161.5 301.2 184.1 304.8 194.4 308.3 204.6 311.9 211.2 315.4 230.5 319.0 254.5 322.5 266.8 326.1 280.4 329.6 293.3 333.2 301.3 336.7 309.5 340.3 323.0 343.9 332.3 347.4 349.2 351.0 365.2 354.5 366.8 358.1 383.0 361.6 399.5 365.2 419.1 368.7 429.0 372.3 440.4 375.8 62.9 379.4 83.3 382.9 97.1 386.5 113.6 390.0 125.5 393.6 142.7 397.2 159.1 400.7 179.0 404.3 198.2 407.8 203.4 411.4 217.4 414.9 229.1 418.5 235.6 422.0 242.3 425.6 260.3 429.1 273.2 432.7 290.9 436.2 298.3 439.8 319.0 443.4 325.3 446.9 340.7"/><path d="M95.1 261.5 98.6 270.9 102.2 281.9 105.8 294.3 109.3 306.0 112.9 318.7 116.4 331.0 120.0 358.3 123.5 371.6 127.1 385.1 130.6 390.8 134.2 396.5 137.7 409.9 141.3 426.8 144.8 438.3 148.4 58.8 152.0 71.2 155.5 81.4 159.1 93.6 162.6 99.3 166.2 122.8 169.7 133.0 173.3 150.6 176.8 164.2 180.4 180.7 183.9 193.2 187.5 206.7 191.0 228.1 194.6 230.9 198.1 244.1 201.7 262.3 205.3 269.7 208.8 284.6 212.4 301.0 215.9 310.3 219.5 313.4 223.0 326.0 226.6 338.0 230.1 348.6 233.7 358.0 237.2 370.9 240.8 379.3 244.3 389.6 247.9 409.3 251.5 420.8 255.0 428.6 258.6 453.4 262.1 70.3 265.7 88.3 269.2 96.8 272.8 110.7 276.3 112.8 279.9 125.7 283.4 140.4 287.0 160.3 290.5 176.0 294.1 181.8 297.7 205.3 301.2 218.6 304.8 232.6 308.3 244.8 311.9 256.0 315.4 266.6 319.0 277.6 322.5 295.9 326.1 303.3 329.6 314.3 333.2 326.0 336.7 328.2 340.3 336.3 343.9 337.3 347.4 351.2 351.0 367.4 354.5 373.2 358.1 396.4 361.6 411.5 365.2 421.9 368.7 439.3 372.3 67.0 375.8 80.0 379.4 90.3 382.9 96.9 386.5 110.2 390.0 118.4 393.6 129.5 397.2 137.0 400.7 150.3 404.3 164.3 407.8 180.8 411.4 187.9 414.9 214.7 418.5 207.6 422.0 223.6 425.6 237.9 429.1 255.1 432.7 261.2 436.2 269.9 439.8 270.5 443.4 291.5 446.9 300.5"/><path d="M95.1 261.5 98.6 269.5 102.2 283.8 105.8 294.9 109.3 308.8 112.9 324.3 116.4 334.7 120.0 348.1 123.5 356.0 127.1 367.0 130.6 381.1 134.2 392.3 137.7 401.6 141.3 408.7 144.8 419.1 148.4 457.2 152.0 60.8 155.5 71.4 159.1 89.2 162.6 101.2 166.2 111.6 169.7 127.0 173.3 143.1 176.8 148.7 180.4 161.8 183.9 173.7 187.5 188.1 191.0 200.8 194.6 217.5 198.1 233.6 201.7 249.5 205.3 260.9 208.8 273.4 212.4 277.7 215.9 289.4 219.5 307.5 223.0 316.2 226.6 328.1 230.1 334.1 233.7 344.4 237.2 353.2 240.8 363.3 244.3 370.9 247.9 384.6 251.5 395.0 255.0 404.3 258.6 423.4 262.1 446.2 265.7 65.2 269.2 86.4 272.8 106.1 276.3 121.4 279.9 133.4 283.4 143.1 287.0 156.3 290.5 165.5 294.1 174.4 297.7 172.8 301.2 196.4 304.8 206.7 308.3 216.0 311.9 239.6 315.4 252.2 319.0 262.7 322.5 282.9 326.1 301.5 329.6 308.1 333.2 322.7 336.7 341.7 340.3 359.7 343.9 375.9 347.4 376.0 351.0 383.0 354.5 393.5 358.1 407.3 361.6 416.2 365.2 422.7 368.7 441.0 372.3 80.5 375.8 94.3 379.4 110.4 382.9 127.2 386.5 144.0 390.0 155.5 393.6 179.9 397.2 182.3 400.7 188.1 404.3 201.3 407.8 216.2 411.4 234.3 414.9 249.1 418.5 255.2 422.0 264.6 425.6 275.2 429.1 287.4 432.7 303.7 436.2 309.4 439.8 316.2 443.4 328.1 446.9 334.5"/><path d="M95.1 261.5 98.6 272.0 102.2 285.4 105.8 298.7 109.3 310.3 112.9 329.3 116.4 331.4 120.0 349.1 123.5 362.2 127.1 376.9 130.6 394.2 134.2 412.5 137.7 426.8 141.3 445.6 144.8 59.0 148.4 76.5 152.0 88.4 155.5 111.1 159.1 125.1 162.6 140.0 166.2 155.1 169.7 162.8 173.3 174.9 176.8 187.4 180.4 199.0 183.9 211.4 187.5 221.2 191.0 234.0 194.6 245.8 198.1 261.6 201.7 274.9 205.3 287.3 208.8 303.1 212.4 307.4 215.9 317.2 219.5 330.0 223.0 345.6 226.6 355.5 230.1 368.0 233.7 383.0 237.2 399.5 240.8 412.8 244.3 417.2 247.9 453.8 251.5 64.5 255.0 73.3 258.6 84.0 262.1 93.7 265.7 100.4 269.2 112.1 272.8 125.5 276.3 142.1 279.9 155.4 283.4 162.4 287.0 168.6 290.5 190.2 294.1 208.9 297.7 219.5 301.2 235.1 304.8 237.3 308.3 246.3 311.9 254.5 315.4 264.2 319.0 281.6 322.5 291.2 326.1 311.4 329.6 309.6 333.2 307.4 336.7 326.7 340.3 343.7 343.9 352.8 347.4 383.5 351.0 392.1 354.5 406.4 358.1 410.9 361.6 416.1 365.2 428.5 368.7 439.2 372.3 74.3 375.8 86.7 379.4 100.6 382.9 113.3 386.5 134.4 390.0 153.5 393.6 175.0 397.2 185.8 400.7 189.5 404.3 208.4 407.8 209.6 411.4 221.2 414.9 227.5 418.5 236.1 422.0 246.2 425.6 256.7 429.1 269.5 432.7 286.6 436.2 300.3 439.8 312.0 443.4 324.1 446.9 328.7"/><path d="M95.1 261.5 98.6 269.9 102.2 278.9 105.8 287.7 109.3 303.1 112.9 318.4 116.4 331.3 120.0 342.4 123.5 356.3 127.1 368.1 130.6 380.3 134.2 397.3 137.7 408.2 141.3 421.3 144.8 438.7 148.4 62.7 152.0 75.9 155.5 87.5 159.1 101.5 162.6 109.8 166.2 123.8 169.7 137.7 173.3 148.5 176.8 162.6 180.4 176.7 183.9 187.1 187.5 197.4 191.0 208.7 194.6 215.7 198.1 233.3 201.7 248.6 205.3 265.1 208.8 285.2 212.4 299.7 215.9 314.0 219.5 330.7 223.0 337.5 226.6 352.7 230.1 362.6 233.7 377.7 237.2 392.9 240.8 403.9 244.3 413.4 247.9 419.7 251.5 433.6 255.0 61.1 258.6 75.2 262.1 82.1 265.7 96.5 269.2 104.5 272.8 114.4 276.3 131.1 279.9 133.7 283.4 144.5 287.0 147.2 290.5 156.1 294.1 170.6 297.7 183.6 301.2 189.4 304.8 200.6 308.3 214.6 311.9 227.0 315.4 241.2 319.0 251.5 322.5 267.6 326.1 277.2 329.6 283.2 333.2 292.2 336.7 308.1 340.3 312.8 343.9 318.8 347.4 329.7 351.0 344.3 354.5 360.8 358.1 362.9 361.6 362.8 365.2 375.5 368.7 389.1 372.3 398.8 375.8 423.2 379.4 412.8 382.9 429.8 386.5 66.3 390.0 82.9 393.6 97.2 397.2 109.4 400.7 122.1 404.3 136.8 407.8 148.9 411.4 154.0 414.9 167.6 418.5 179.3 422.0 192.6 425.6 212.4 429.1 221.0 432.7 225.0 436.2 232.6 439.8 249.8 443.4 252.9 446.9 266.3"/><path d="M95.1 261.5 98.6 270.0 102.2 280.2 105.8 289.0 109.3 300.8 112.9 310.2 116.4 319.1 120.0 334.6 123.5 348.5 127.1 361.8 130.6 375.5 134.2 387.4 137.7 397.3 141.3 406.0 144.8 418.1 148.4 434.5 152.0 62.4 155.5 68.2 159.1 81.0 162.6 87.2 166.2 96.6 169.7 110.2 173.3 118.6 176.8 129.4 180.4 137.6 183.9 140.2 187.5 155.9 191.0 169.8 194.6 186.6 198.1 195.7 201.7 213.9 205.3 227.5 208.8 241.0 212.4 261.2 215.9 272.1 219.5 276.2 223.0 282.6 226.6 299.9 230.1 312.0 233.7 332.2 237.2 347.4 240.8 361.9 244.3 378.1 247.9 392.1 251.5 399.5 255.0 417.2 258.6 434.1 262.1 65.9 265.7 81.6 269.2 89.1 272.8 107.6 276.3 117.4 279.9 125.3 283.4 119.0 287.0 118.9 290.5 117.8 294.1 130.6 297.7 150.3 301.2 155.2 304.8 170.2 308.3 182.2 311.9 191.3 315.4 204.4 319.0 216.8 322.5 235.0 326.1 251.6 329.6 265.0 333.2 272.0 336.7 290.9 340.3 304.6 343.9 306.1 347.4 320.5 351.0 330.7 354.5 353.1 358.1 377.6 361.6 390.1 365.2 399.3 368.7 415.2 372.3 429.6 375.8 439.8 379.4 63.0 382.9 79.5 386.5 89.8 390.0 104.3 393.6 111.7 397.2 128.4 400.7 150.4 404.3 165.9 407.8 181.1 411.4 202.8 414.9 206.7 418.5 220.1 422.0 235.6 425.6 248.2 429.1 266.8 432.7 277.3 436.2 288.8 439.8 304.0 443.4 330.8 446.9 332.6"/><path d="M95.1 261.5 98.6 273.8 102.2 286.4 105.8 301.0 109.3 314.4 112.9 329.4 116.4 341.2 120.0 351.0 123.5 363.3 127.1 373.2 130.6 386.1 134.2 396.5 137.7 407.5 141.3 420.7 144.8 438.1 148.4 70.3 152.0 79.8 155.5 93.0 159.1 110.5 162.6 120.1 166.2 127.7 169.7 144.6 173.3 151.0 176.8 163.8 180.4 176.3 183.9 180.5 187.5 189.1 191.0 205.8 194.6 220.4 198.1 230.0 201.7 245.1 205.3 255.1 208.8 268.8 212.4 280.4 215.9 291.1 219.5 309.7 223.0 315.0 226.6 336.4 230.1 345.7 233.7 357.1 237.2 364.2 240.8 377.5 244.3 391.9 247.9 408.4 251.5 418.2 255.0 434.3 258.6 66.3 262.1 79.4 265.7 95.7 269.2 107.4 272.8 120.2 276.3 134.4 279.9 142.0 283.4 147.7 287.0 164.4 290.5 179.1 294.1 196.5 297.7 204.4 301.2 217.6 304.8 222.1 308.3 216.4 311.9 219.9 315.4 226.5 319.0 228.2 322.5 237.2 326.1 240.7 329.6 250.9 333.2 268.7 336.7 287.1 340.3 303.7 343.9 321.5 347.4 341.2 351.0 346.6 354.5 359.4 358.1 374.0 361.6 394.8 365.2 419.8 368.7 427.9 372.3 448.1 375.8 68.8 379.4 72.9 382.9 80.3 386.5 97.0 390.0 115.2 393.6 125.4 397.2 131.4 400.7 135.1 404.3 153.0 407.8 175.3 411.4 182.9 414.9 196.0 418.5 207.9 422.0 221.3 425.6 233.7 429.1 245.1 432.7 259.4 436.2 268.1 439.8 281.7 443.4 296.1 446.9 319.5"/><path d="M95.1 261.5 98.6 269.4 102.2 280.9 105.8 293.4 109.3 303.8 112.9 317.4 116.4 329.9 120.0 340.0 123.5 349.3 127.1 357.9 130.6 364.4 134.2 379.4 137.7 396.8 141.3 408.7 144.8 418.7 148.4 426.0 152.0 441.9 155.5 72.9 159.1 89.6 162.6 101.3 166.2 117.8 169.7 131.9 173.3 147.0 176.8 152.5 180.4 162.1 183.9 177.7 187.5 184.9 191.0 194.1 194.6 210.5 198.1 218.6 201.7 236.2 205.3 249.6 208.8 258.4 212.4 270.8 215.9 283.5 219.5 298.2 223.0 312.9 226.6 325.0 230.1 347.7 233.7 357.5 237.2 361.8 240.8 371.1 244.3 389.5 247.9 399.6 251.5 416.2 255.0 431.9 258.6 57.0 262.1 71.8 265.7 81.7 269.2 93.3 272.8 108.9 276.3 121.8 279.9 135.9 283.4 149.1 287.0 147.8 290.5 164.7 294.1 176.9 297.7 196.1 301.2 208.8 304.8 227.2 308.3 227.5 311.9 239.0 315.4 256.1 319.0 272.1 322.5 285.1 326.1 283.4 329.6 293.3 333.2 304.2 336.7 308.4 340.3 319.7 343.9 324.2 347.4 343.4 351.0 349.5 354.5 372.3 358.1 373.4 361.6 385.0 365.2 389.6 368.7 401.3 372.3 416.7 375.8 440.4 379.4 74.7 382.9 82.9 386.5 93.5 390.0 104.5 393.6 119.2 397.2 134.4 400.7 154.8 404.3 179.0 407.8 188.3 411.4 195.7 414.9 212.8 418.5 226.5 422.0 244.7 425.6 256.4 429.1 266.2 432.7 267.9 436.2 283.3 439.8 285.6 443.4 296.0 446.9 311.8"/><path d="M95.1 261.5 98.6 273.3 102.2 285.2 105.8 297.3 109.3 308.2 112.9 324.6 116.4 334.9 120.0 349.6 123.5 370.9 127.1 382.9 130.6 392.3 134.2 397.8 137.7 408.2 141.3 420.1 144.8 449.7 148.4 67.5 152.0 84.2 155.5 99.8 159.1 112.7 162.6 121.5 166.2 136.4 169.7 146.6 173.3 154.2 176.8 167.7 180.4 181.4 183.9 190.3 187.5 207.3 191.0 219.1 194.6 224.9 198.1 236.8 201.7 259.2 205.3 272.9 208.8 287.3 212.4 296.8 215.9 304.9 219.5 322.8 223.0 339.9 226.6 350.3 230.1 364.6 233.7 378.6 237.2 393.2 240.8 405.5 244.3 415.2 247.9 424.5 251.5 439.9 255.0 436.8 258.6 455.2 262.1 75.6 265.7 93.5 269.2 110.5 272.8 125.6 276.3 143.7 279.9 157.0 283.4 177.0 287.0 184.7 290.5 189.0 294.1 196.9 297.7 216.4 301.2 227.0 304.8 242.5 308.3 250.2 311.9 270.5 315.4 275.5 319.0 288.0 322.5 298.6 326.1 309.3 329.6 323.3 333.2 337.7 336.7 344.8 340.3 353.3 343.9 370.2 347.4 384.0 351.0 397.4 354.5 407.5 358.1 415.4 361.6 422.3 365.2 435.7 368.7 66.6 372.3 80.3 375.8 93.9 379.4 93.4 382.9 113.4 386.5 118.8 390.0 131.9 393.6 147.3 397.2 153.2 400.7 170.7 404.3 181.0 407.8 196.5 411.4 193.4 414.9 221.2 418.5 231.8 422.0 246.3 425.6 258.4 429.1 270.7 432.7 272.9 436.2 276.0 439.8 289.8 443.4 294.4 446.9 309.3"/><path d="M95.1 261.5 98.6 267.2 102.2 277.9 105.8 289.9 109.3 305.5 112.9 320.4 116.4 331.0 120.0 348.2 123.5 360.9 127.1 364.6 130.6 375.9 134.2 387.7 137.7 401.7 141.3 411.5 144.8 421.3 148.4 428.0 152.0 447.7 155.5 65.0 159.1 80.3 162.6 93.8 166.2 105.7 169.7 117.2 173.3 130.3 176.8 139.3 180.4 156.2 183.9 173.1 187.5 187.0 191.0 198.8 194.6 210.7 198.1 222.8 201.7 231.1 205.3 245.3 208.8 260.2 212.4 270.6 215.9 284.5 219.5 301.6 223.0 316.1 226.6 323.1 230.1 335.9 233.7 346.9 237.2 355.6 240.8 376.7 244.3 389.5 247.9 401.3 251.5 419.0 255.0 445.7 258.6 70.3 262.1 84.8 265.7 89.4 269.2 106.4 272.8 109.3 276.3 128.6 279.9 134.7 283.4 150.2 287.0 167.5 290.5 181.8 294.1 184.5 297.7 197.2 301.2 216.7 304.8 234.9 308.3 241.9 311.9 257.1 315.4 273.0 319.0 278.6 322.5 285.7 326.1 297.3 329.6 309.7 333.2 324.5 336.7 341.1 340.3 360.2 343.9 373.2 347.4 403.6 351.0 409.0 354.5 434.5 358.1 62.1 361.6 88.0 365.2 88.0 368.7 101.7 372.3 116.7 375.8 122.0 379.4 126.6 382.9 140.5 386.5 154.2 390.0 161.6 393.6 177.6 397.2 186.1 400.7 194.4 404.3 205.1 407.8 223.4 411.4 224.9 414.9 234.2 418.5 248.4 422.0 275.5 425.6 288.3 429.1 301.9 432.7 320.4 436.2 327.6 439.8 338.1 443.4 350.7 446.9 366.5"/><path d="M95.1 261.5 98.6 269.2 102.2 281.1 105.8 295.1 109.3 306.0 112.9 314.4 116.4 328.2 120.0 338.3 123.5 348.8 127.1 361.1 130.6 367.4 134.2 380.8 137.7 391.9 141.3 411.9 144.8 425.1 148.4 431.2 152.0 460.7 155.5 69.2 159.1 84.5 162.6 98.1 166.2 107.1 169.7 123.1 173.3 131.2 176.8 142.2 180.4 154.6 183.9 158.6 187.5 171.4 191.0 181.8 194.6 197.3 198.1 206.3 201.7 222.8 205.3 232.8 208.8 241.4 212.4 247.2 215.9 264.6 219.5 276.8 223.0 299.9 226.6 315.1 230.1 323.1 233.7 339.2 237.2 356.6 240.8 373.7 244.3 382.4 247.9 396.7 251.5 406.1 255.0 430.7 258.6 60.3 262.1 75.9 265.7 89.1 269.2 98.9 272.8 104.9 276.3 129.7 279.9 139.0 283.4 161.5 287.0 180.5 290.5 200.6 294.1 215.6 297.7 223.5 301.2 228.8 304.8 238.2 308.3 254.4 311.9 259.3 315.4 275.3 319.0 289.2 322.5 303.8 326.1 320.6 329.6 319.4 333.2 343.2 336.7 353.3 340.3 360.9 343.9 372.1 347.4 382.1 351.0 395.9 354.5 401.7 358.1 414.2 361.6 433.7 365.2 58.0 368.7 69.9 372.3 74.1 375.8 86.7 379.4 97.0 382.9 112.5 386.5 116.8 390.0 133.4 393.6 143.6 397.2 154.4 400.7 168.6 404.3 174.4 407.8 183.6 411.4 202.8 414.9 220.5 418.5 217.7 422.0 251.8 425.6 266.2 429.1 285.0 432.7 300.1 436.2 314.5 439.8 327.8 443.4 343.6 446.9 357.3"/><path d="M95.1 261.5 98.6 269.9 102.2 279.8 105.8 292.8 109.3 297.7 112.9 308.5 116.4 322.4 120.0 328.8 123.5 343.8 127.1 357.1 130.6 371.1 134.2 376.9 137.7 383.5 141.3 391.8 144.8 399.5 148.4 413.4 152.0 415.6 155.5 441.7 159.1 60.7 162.6 72.0 166.2 82.3 169.7 97.0 173.3 109.8 176.8 120.0 180.4 134.2 183.9 147.8 187.5 162.6 191.0 169.8 194.6 180.9 198.1 195.8 201.7 212.6 205.3 221.2 208.8 237.3 212.4 250.3 215.9 261.4 219.5 279.2 223.0 291.7 226.6 305.9 230.1 319.8 233.7 332.2 237.2 340.8 240.8 351.9 244.3 376.5 247.9 396.5 251.5 414.2 255.0 428.8 258.6 442.5 262.1 63.5 265.7 75.4 269.2 92.3 272.8 108.9 276.3 124.9 279.9 146.3 283.4 149.3 287.0 169.1 290.5 178.2 294.1 194.6 297.7 199.9 301.2 207.4 304.8 216.4 308.3 228.6 311.9 244.1 315.4 258.9 319.0 269.9 322.5 276.0 326.1 282.0 329.6 291.9 333.2 306.4 336.7 323.4 340.3 344.0 343.9 344.2 347.4 366.9 351.0 380.1 354.5 389.8 358.1 408.1 361.6 416.3 365.2 428.0 368.7 442.0 372.3 66.2 375.8 76.2 379.4 88.0 382.9 97.0 386.5 102.6 390.0 121.2 393.6 134.6 397.2 145.0 400.7 160.5 404.3 171.3 407.8 178.8 411.4 187.0 414.9 203.2 418.5 218.1 422.0 227.7 425.6 243.5 429.1 246.4 432.7 249.6 436.2 263.1 439.8 268.6 443.4 292.6 446.9 298.1"/><path d="M95.1 261.5 98.6 270.7 102.2 281.9 105.8 291.7 109.3 301.1 112.9 309.9 116.4 316.3 120.0 326.1 123.5 335.3 127.1 347.4 130.6 356.5 134.2 369.7 137.7 384.7 141.3 405.5 144.8 414.9 148.4 428.3 152.0 445.8 155.5 72.3 159.1 86.1 162.6 95.6 166.2 108.1 169.7 118.7 173.3 134.3 176.8 146.0 180.4 162.7 183.9 175.4 187.5 185.8 191.0 200.1 194.6 217.6 198.1 227.2 201.7 240.3 205.3 252.4 208.8 272.3 212.4 291.6 215.9 301.8 219.5 314.9 223.0 324.1 226.6 334.0 230.1 348.6 233.7 356.7 237.2 371.3 240.8 389.7 244.3 401.3 247.9 411.9 251.5 433.3 255.0 58.3 258.6 68.3 262.1 76.2 265.7 89.6 269.2 105.2 272.8 112.4 276.3 121.8 279.9 126.1 283.4 139.9 287.0 160.0 290.5 160.4 294.1 165.8 297.7 184.8 301.2 190.9 304.8 204.8 308.3 220.2 311.9 234.3 315.4 248.5 319.0 260.7 322.5 271.2 326.1 278.8 329.6 287.9 333.2 293.2 336.7 304.9 340.3 313.0 343.9 324.3 347.4 342.5 351.0 354.6 354.5 369.6 358.1 375.4 361.6 385.3 365.2 397.4 368.7 413.0 372.3 449.8 375.8 70.7 379.4 77.2 382.9 84.7 386.5 86.0 390.0 97.6 393.6 98.0 397.2 112.7 400.7 124.7 404.3 139.2 407.8 150.1 411.4 158.7 414.9 163.2 418.5 168.6 422.0 182.0 425.6 194.6 429.1 198.9 432.7 209.2 436.2 215.6 439.8 226.8 443.4 242.1 446.9 256.4"/><path d="M95.1 261.5 98.6 271.1 102.2 281.9 105.8 294.2 109.3 308.1 112.9 317.7 116.4 332.6 120.0 349.3 123.5 363.6 127.1 373.0 130.6 383.4 134.2 389.3 137.7 402.3 141.3 412.1 144.8 420.4 148.4 433.6 152.0 62.0 155.5 70.8 159.1 87.8 162.6 103.6 166.2 111.6 169.7 124.6 173.3 134.1 176.8 145.1 180.4 150.2 183.9 165.1 187.5 180.5 191.0 194.4 194.6 204.2 198.1 215.0 201.7 225.5 205.3 245.1 208.8 261.4 212.4 279.8 215.9 286.5 219.5 295.2 223.0 307.7 226.6 318.5 230.1 327.4 233.7 339.5 237.2 360.2 240.8 377.3 244.3 397.7 247.9 408.6 251.5 439.7 255.0 64.1 258.6 77.9 262.1 81.9 265.7 93.1 269.2 108.2 272.8 115.3 276.3 118.1 279.9 132.5 283.4 147.5 287.0 161.1 290.5 180.2 294.1 189.0 297.7 186.7 301.2 194.6 304.8 209.3 308.3 217.3 311.9 226.8 315.4 237.3 319.0 240.6 322.5 256.9 326.1 266.3 329.6 267.3 333.2 285.2 336.7 305.7 340.3 317.6 343.9 331.3 347.4 337.3 351.0 346.4 354.5 360.2 358.1 366.5 361.6 391.2 365.2 401.3 368.7 408.0 372.3 412.3 375.8 432.1 379.4 436.4 382.9 441.2 386.5 63.4 390.0 81.6 393.6 103.6 397.2 116.0 400.7 139.5 404.3 163.2 407.8 184.3 411.4 193.9 414.9 208.6 418.5 223.7 422.0 235.8 425.6 243.5 429.1 260.0 432.7 268.6 436.2 281.6 439.8 289.6 443.4 306.0 446.9 322.3"/><path d="M95.1 261.5 98.6 272.6 102.2 285.1 105.8 297.1 109.3 307.0 112.9 311.4 116.4 320.1 120.0 330.1 123.5 347.6 127.1 361.7 130.6 368.2 134.2 375.0 137.7 396.6 141.3 414.1 144.8 422.3 148.4 433.3 152.0 58.7 155.5 77.4 159.1 80.8 162.6 95.5 166.2 107.7 169.7 117.1 173.3 133.0 176.8 139.8 180.4 153.7 183.9 166.6 187.5 180.5 191.0 200.4 194.6 210.2 198.1 225.4 201.7 237.9 205.3 251.7 208.8 265.9 212.4 275.9 215.9 287.6 219.5 297.9 223.0 307.7 226.6 327.3 230.1 338.4 233.7 353.1 237.2 364.8 240.8 376.1 244.3 395.1 247.9 407.8 251.5 421.7 255.0 442.4 258.6 73.8 262.1 92.7 265.7 98.9 269.2 114.5 272.8 125.8 276.3 144.5 279.9 158.6 283.4 165.4 287.0 163.3 290.5 184.3 294.1 190.6 297.7 205.0 301.2 213.8 304.8 228.5 308.3 246.9 311.9 259.3 315.4 272.2 319.0 285.6 322.5 302.6 326.1 324.7 329.6 341.4 333.2 358.2 336.7 378.7 340.3 388.6 343.9 410.9 347.4 430.6 351.0 63.7 354.5 69.6 358.1 73.6 361.6 86.2 365.2 101.9 368.7 106.5 372.3 122.7 375.8 129.7 379.4 135.2 382.9 144.4 386.5 157.8 390.0 164.8 393.6 170.2 397.2 183.6 400.7 192.5 404.3 217.2 407.8 238.0 411.4 250.6 414.9 261.0 418.5 266.0 422.0 282.2 425.6 294.5 429.1 305.0 432.7 318.0 436.2 327.2 439.8 336.1 443.4 355.9 446.9 372.7"/><path d="M95.1 261.5 98.6 272.2 102.2 283.8 105.8 293.1 109.3 303.4 112.9 321.1 116.4 325.1 120.0 335.8 123.5 351.0 127.1 362.3 130.6 368.6 134.2 384.6 137.7 398.9 141.3 416.1 144.8 429.5 148.4 451.5 152.0 63.6 155.5 88.1 159.1 101.7 162.6 119.1 166.2 129.8 169.7 142.0 173.3 150.0 176.8 162.2 180.4 173.9 183.9 195.1 187.5 207.1 191.0 215.2 194.6 226.5 198.1 237.8 201.7 250.9 205.3 266.2 208.8 278.5 212.4 288.1 215.9 304.9 219.5 320.3 223.0 330.3 226.6 342.9 230.1 357.3 233.7 367.1 237.2 379.0 240.8 387.5 244.3 400.0 247.9 414.4 251.5 422.0 255.0 440.0 258.6 60.4 262.1 76.7 265.7 97.9 269.2 105.3 272.8 120.8 276.3 128.5 279.9 148.5 283.4 157.8 287.0 178.2 290.5 199.3 294.1 205.2 297.7 220.2 301.2 231.9 304.8 231.4 308.3 248.4 311.9 266.9 315.4 277.3 319.0 283.8 322.5 305.7 326.1 324.9 329.6 329.5 333.2 345.7 336.7 359.2 340.3 378.7 343.9 391.5 347.4 411.0 351.0 412.0 354.5 434.3 358.1 66.9 361.6 83.5 365.2 97.5 368.7 113.5 372.3 126.8 375.8 137.4 379.4 142.5 382.9 153.8 386.5 169.3 390.0 184.3 393.6 188.1 397.2 194.4 400.7 203.2 404.3 220.5 407.8 233.8 411.4 249.0 414.9 258.3 418.5 265.1 422.0 277.7 425.6 284.5 429.1 296.2 432.7 305.3 436.2 321.8 439.8 335.5 443.4 342.9 446.9 354.6"/><path d="M95.1 261.5 98.6 270.3 102.2 282.7 105.8 294.4 109.3 301.3 112.9 312.6 116.4 326.5 120.0 335.9 123.5 348.1 127.1 360.2 130.6 375.4 134.2 387.3 137.7 397.7 141.3 397.7 144.8 407.6 148.4 417.4 152.0 426.3 155.5 440.3 159.1 65.9 162.6 82.1 166.2 92.5 169.7 108.9 173.3 125.3 176.8 134.6 180.4 145.8 183.9 158.0 187.5 165.1 191.0 176.2 194.6 185.0 198.1 199.2 201.7 213.2 205.3 227.0 208.8 241.1 212.4 261.6 215.9 283.7 219.5 289.9 223.0 300.8 226.6 308.9 230.1 320.5 233.7 330.0 237.2 342.1 240.8 354.4 244.3 372.2 247.9 386.1 251.5 402.4 255.0 417.9 258.6 439.6 262.1 70.7 265.7 87.8 269.2 100.2 272.8 112.2 276.3 123.8 279.9 139.1 283.4 154.2 287.0 159.7 290.5 172.1 294.1 176.5 297.7 182.6 301.2 189.5 304.8 194.2 308.3 216.7 311.9 220.9 315.4 236.9 319.0 245.9 322.5 240.2 326.1 258.6 329.6 268.1 333.2 281.6 336.7 298.3 340.3 310.1 343.9 319.2 347.4 320.9 351.0 326.7 354.5 337.0 358.1 360.9 361.6 369.0 365.2 386.6 368.7 391.0 372.3 399.6 375.8 396.9 379.4 424.8 382.9 56.7 386.5 75.3 390.0 89.9 393.6 107.2 397.2 113.1 400.7 131.2 404.3 151.6 407.8 167.5 411.4 166.0 414.9 173.8 418.5 189.2 422.0 202.6 425.6 217.5 429.1 232.4 432.7 245.8 436.2 253.3 439.8 246.2 443.4 255.4 446.9 252.7"/><path d="M95.1 261.5 98.6 271.0 102.2 280.9 105.8 291.5 109.3 305.6 112.9 323.5 116.4 335.5 120.0 339.7 123.5 352.3 127.1 357.8 130.6 366.6 134.2 378.1 137.7 388.3 141.3 401.0 144.8 414.9 148.4 452.9 152.0 62.5 155.5 80.3 159.1 90.0 162.6 104.6 166.2 118.5 169.7 133.1 173.3 143.7 176.8 159.0 180.4 174.6 183.9 186.5 187.5 197.3 191.0 214.0 194.6 230.8 198.1 237.2 201.7 242.4 205.3 262.1 208.8 276.1 212.4 289.2 215.9 296.9 219.5 313.1 223.0 325.6 226.6 340.8 230.1 354.1 233.7 362.9 237.2 371.4 240.8 379.8 244.3 397.3 247.9 409.8 251.5 418.5 255.0 427.9 258.6 445.8 262.1 65.4 265.7 82.2 269.2 93.3 272.8 104.5 276.3 107.1 279.9 124.5 283.4 130.5 287.0 137.5 290.5 146.2 294.1 148.2 297.7 155.9 301.2 171.2 304.8 189.0 308.3 205.5 311.9 226.2 315.4 239.6 319.0 257.0 322.5 267.7 326.1 271.1 329.6 282.8 333.2 307.1 336.7 322.7 340.3 332.0 343.9 340.5 347.4 350.5 351.0 371.6 354.5 376.3 358.1 383.0 361.6 386.6 365.2 391.5 368.7 406.2 372.3 410.7 375.8 417.9 379.4 430.6 382.9 58.7 386.5 61.1 390.0 73.9 393.6 88.3 397.2 88.0 400.7 95.7 404.3 103.1 407.8 107.0 411.4 119.8 414.9 139.7 418.5 154.7 422.0 182.2 425.6 192.4 429.1 207.2 432.7 219.3 436.2 236.7 439.8 241.1 443.4 261.0 446.9 282.6"/><path d="M95.1 261.5 98.6 270.3 102.2 279.9 105.8 290.0 109.3 303.5 112.9 316.8 116.4 323.2 120.0 333.6 123.5 341.0 127.1 353.1 130.6 365.6 134.2 375.2 137.7 384.9 141.3 397.9 144.8 415.5 148.4 424.9 152.0 438.5 155.5 56.7 159.1 77.6 162.6 84.1 166.2 97.8 169.7 116.0 173.3 119.4 176.8 131.6 180.4 146.1 183.9 158.9 187.5 169.9 191.0 184.9 194.6 198.9 198.1 208.2 201.7 224.2 205.3 243.3 208.8 255.7 212.4 270.7 215.9 280.9 219.5 292.1 223.0 309.3 226.6 317.0 230.1 334.7 233.7 343.2 237.2 360.3 240.8 371.2 244.3 386.1 247.9 395.0 251.5 406.1 255.0 420.2 258.6 439.4 262.1 68.8 265.7 82.3 269.2 94.5 272.8 107.9 276.3 124.3 279.9 129.2 283.4 138.5 287.0 148.6 290.5 161.1 294.1 168.9 297.7 182.0 301.2 190.3 304.8 212.6 308.3 232.1 311.9 236.1 315.4 251.9 319.0 271.1 322.5 285.2 326.1 298.9 329.6 307.5 333.2 322.0 336.7 336.0 340.3 351.8 343.9 370.1 347.4 391.7 351.0 408.7 354.5 416.6 358.1 470.2 361.6 66.3 365.2 81.9 368.7 94.9 372.3 117.8 375.8 122.5 379.4 138.9 382.9 150.9 386.5 170.0 390.0 187.4 393.6 190.7 397.2 201.5 400.7 206.7 404.3 218.8 407.8 227.2 411.4 246.6 414.9 271.2 418.5 285.8 422.0 289.6 425.6 299.7 429.1 318.1 432.7 334.0 436.2 345.7 439.8 358.6 443.4 372.7 446.9 377.0"/><path d="M95.1 261.5 98.6 273.8 102.2 287.0 105.8 304.1 109.3 316.0 112.9 327.5 116.4 345.7 120.0 352.8 123.5 364.7 127.1 373.8 130.6 383.6 134.2 398.0 137.7 411.0 141.3 423.8 144.8 437.5 148.4 59.4 152.0 86.2 155.5 100.7 159.1 113.9 162.6 127.3 166.2 135.5 169.7 150.3 173.3 155.0 176.8 166.1 180.4 178.1 183.9 190.0 187.5 209.1 191.0 230.5 194.6 244.6 198.1 253.2 201.7 270.3 205.3 284.0 208.8 297.0 212.4 311.5 215.9 320.2 219.5 338.8 223.0 351.9 226.6 362.8 230.1 368.0 233.7 382.3 237.2 390.3 240.8 407.0 244.3 417.1 247.9 431.4 251.5 60.5 255.0 72.4 258.6 84.7 262.1 100.9 265.7 113.5 269.2 124.9 272.8 127.9 276.3 141.1 279.9 156.2 283.4 168.2 287.0 171.5 290.5 182.4 294.1 183.7 297.7 193.3 301.2 208.2 304.8 209.0 308.3 236.3 311.9 244.6 315.4 251.3 319.0 265.7 322.5 275.7 326.1 280.6 329.6 294.1 333.2 306.3 336.7 316.4 340.3 330.9 343.9 339.2 347.4 353.7 351.0 366.2 354.5 378.0 358.1 390.0 361.6 402.9 365.2 401.7 368.7 414.8 372.3 444.7 375.8 65.4 379.4 90.4 382.9 102.3 386.5 103.1 390.0 109.8 393.6 115.3 397.2 132.5 400.7 149.9 404.3 164.4 407.8 178.8 411.4 192.7 414.9 200.0 418.5 211.1 422.0 214.4 425.6 223.4 429.1 237.9 432.7 246.2 436.2 260.6 439.8 277.2 443.4 294.8 446.9 309.7"/><path d="M95.1 261.5 98.6 272.0 102.2 281.6 105.8 294.6 109.3 308.0 112.9 318.4 116.4 326.0 120.0 339.6 123.5 355.6 127.1 366.6 130.6 380.8 134.2 388.3 137.7 399.8 141.3 408.3 144.8 422.0 148.4 438.2 152.0 65.9 155.5 68.3 159.1 83.0 162.6 95.3 166.2 107.4 169.7 122.1 173.3 134.3 176.8 147.3 180.4 162.6 183.9 173.5 187.5 183.1 191.0 192.0 194.6 209.6 198.1 228.9 201.7 242.8 205.3 263.5 208.8 275.2 212.4 275.3 215.9 287.5 219.5 294.3 223.0 308.9 226.6 317.1 230.1 325.2 233.7 343.7 237.2 359.1 240.8 369.8 244.3 383.1 247.9 402.8 251.5 412.1 255.0 424.6 258.6 435.9 262.1 65.3 265.7 83.9 269.2 100.2 272.8 115.1 276.3 120.0 279.9 135.2 283.4 149.4 287.0 165.5 290.5 183.9 294.1 198.3 297.7 210.0 301.2 218.2 304.8 236.8 308.3 249.7 311.9 265.1 315.4 271.9 319.0 291.2 322.5 290.9 326.1 312.9 329.6 331.2 333.2 343.1 336.7 355.6 340.3 362.9 343.9 375.7 347.4 380.4 351.0 401.4 354.5 421.2 358.1 446.8 361.6 65.1 365.2 74.7 368.7 76.1 372.3 81.5 375.8 96.9 379.4 111.8 382.9 134.2 386.5 148.0 390.0 155.7 393.6 166.8 397.2 176.6 400.7 190.3 404.3 208.2 407.8 214.2 411.4 227.1 414.9 242.3 418.5 253.8 422.0 258.9 425.6 275.9 429.1 285.5 432.7 290.7 436.2 298.2 439.8 311.7 443.4 323.7 446.9 325.3"/><path d="M95.1 261.5 98.6 272.9 102.2 284.6 105.8 299.3 109.3 314.4 112.9 323.6 116.4 338.7 120.0 360.7 123.5 374.9 127.1 392.6 130.6 401.8 134.2 407.7 137.7 415.2 141.3 423.3 144.8 427.3 148.4 465.3 152.0 69.0 155.5 74.0 159.1 88.3 162.6 101.7 166.2 113.8 169.7 131.5 173.3 142.7 176.8 152.2 180.4 161.4 183.9 173.0 187.5 190.4 191.0 200.4 194.6 214.2 198.1 228.3 201.7 247.6 205.3 262.6 208.8 279.2 212.4 291.1 215.9 297.2 219.5 311.3 223.0 319.8 226.6 331.1 230.1 344.0 233.7 352.4 237.2 369.1 240.8 380.6 244.3 396.6 247.9 407.7 251.5 418.9 255.0 432.6 258.6 442.8 262.1 68.4 265.7 85.5 269.2 104.3 272.8 120.6 276.3 127.4 279.9 141.0 283.4 151.5 287.0 158.5 290.5 163.5 294.1 179.2 297.7 188.0 301.2 198.1 304.8 206.1 308.3 219.7 311.9 235.0 315.4 241.9 319.0 248.2 322.5 255.3 326.1 259.6 329.6 256.7 333.2 266.2 336.7 269.8 340.3 281.1 343.9 295.7 347.4 302.7 351.0 312.4 354.5 325.3 358.1 332.2 361.6 346.2 365.2 358.0 368.7 373.6 372.3 388.1 375.8 398.5 379.4 413.5 382.9 425.4 386.5 440.5 390.0 66.8 393.6 69.2 397.2 67.9 400.7 82.2 404.3 94.0 407.8 107.6 411.4 119.4 414.9 123.2 418.5 130.0 422.0 142.0 425.6 146.9 429.1 152.8 432.7 172.8 436.2 192.2 439.8 201.5 443.4 207.2 446.9 219.5"/><path d="M95.1 261.5 98.6 270.7 102.2 281.4 105.8 294.1 109.3 306.5 112.9 317.3 116.4 330.4 120.0 341.9 123.5 354.7 127.1 367.4 130.6 381.4 134.2 396.4 137.7 403.9 141.3 418.7 144.8 431.2 148.4 460.3 152.0 70.6 155.5 80.5 159.1 94.5 162.6 103.5 166.2 112.9 169.7 125.6 173.3 139.6 176.8 157.3 180.4 163.0 183.9 173.0 187.5 181.7 191.0 199.1 194.6 215.4 198.1 231.3 201.7 240.4 205.3 254.3 208.8 263.9 212.4 276.7 215.9 288.0 219.5 303.5 223.0 319.5 226.6 328.2 230.1 340.3 233.7 358.4 237.2 363.4 240.8 370.9 244.3 385.3 247.9 396.6 251.5 403.1 255.0 415.0 258.6 434.1 262.1 54.4 265.7 68.4 269.2 89.8 272.8 105.4 276.3 107.3 279.9 123.8 283.4 132.1 287.0 130.8 290.5 141.7 294.1 161.0 297.7 171.9 301.2 193.7 304.8 205.8 308.3 220.2 311.9 231.9 315.4 247.0 319.0 267.8 322.5 278.4 326.1 289.0 329.6 300.8 333.2 306.7 336.7 320.7 340.3 328.1 343.9 349.0 347.4 365.9 351.0 367.3 354.5 378.4 358.1 402.4 361.6 418.6 365.2 444.7 368.7 56.7 372.3 74.7 375.8 96.5 379.4 108.3 382.9 125.4 386.5 141.7 390.0 151.9 393.6 162.2 397.2 181.7 400.7 189.3 404.3 201.6 407.8 204.7 411.4 222.2 414.9 237.6 418.5 241.7 422.0 256.4 425.6 266.1 429.1 277.9 432.7 284.9 436.2 299.0 439.8 311.9 443.4 327.0 446.9 340.5"/><path d="M95.1 261.5 98.6 270.2 102.2 283.2 105.8 296.2 109.3 303.4 112.9 314.8 116.4 324.6 120.0 336.7 123.5 347.0 127.1 352.8 130.6 372.5 134.2 378.8 137.7 387.5 141.3 401.6 144.8 412.8 148.4 421.6 152.0 433.4 155.5 442.3 159.1 64.9 162.6 81.0 166.2 88.0 169.7 99.7 173.3 108.3 176.8 122.2 180.4 134.9 183.9 146.7 187.5 154.3 191.0 166.2 194.6 186.4 198.1 194.2 201.7 212.1 205.3 228.5 208.8 240.8 212.4 247.6 215.9 255.8 219.5 268.3 223.0 285.2 226.6 295.7 230.1 309.4 233.7 323.2 237.2 336.7 240.8 347.3 244.3 358.5 247.9 374.4 251.5 391.4 255.0 405.8 258.6 416.1 262.1 439.3 265.7 68.6 269.2 90.6 272.8 104.9 276.3 113.0 279.9 131.4 283.4 135.0 287.0 145.5 290.5 161.9 294.1 172.4 297.7 183.0 301.2 196.6 304.8 216.9 308.3 230.1 311.9 242.1 315.4 250.0 319.0 255.0 322.5 262.2 326.1 281.5 329.6 284.2 333.2 297.4 336.7 311.5 340.3 329.1 343.9 348.1 347.4 342.4 351.0 354.0 354.5 357.3 358.1 379.3 361.6 395.8 365.2 401.4 368.7 424.8 372.3 448.5 375.8 60.3 379.4 81.3 382.9 95.4 386.5 112.7 390.0 121.4 393.6 129.3 397.2 131.9 400.7 146.8 404.3 161.9 407.8 177.6 411.4 193.4 414.9 203.1 418.5 210.9 422.0 221.9 425.6 218.7 429.1 229.2 432.7 236.1 436.2 245.5 439.8 255.8 443.4 266.4 446.9 282.8"/><path d="M95.1 261.5 98.6 271.7 102.2 281.8 105.8 293.5 109.3 307.5 112.9 323.1 116.4 332.1 120.0 347.1 123.5 356.3 127.1 372.5 130.6 390.0 134.2 398.5 137.7 415.8 141.3 424.0 144.8 449.4 148.4 68.9 152.0 88.1 155.5 97.7 159.1 107.9 162.6 115.9 166.2 126.3 169.7 141.3 173.3 153.5 176.8 172.5 180.4 187.1 183.9 200.4 187.5 215.6 191.0 222.6 194.6 235.4 198.1 249.6 201.7 269.9 205.3 287.2 208.8 292.7 212.4 301.9 215.9 311.5 219.5 324.9 223.0 334.6 226.6 354.0 230.1 364.0 233.7 379.8 237.2 387.3 240.8 398.3 244.3 412.4 247.9 424.2 251.5 436.6 255.0 60.7 258.6 67.4 262.1 79.2 265.7 95.6 269.2 107.7 272.8 124.3 276.3 135.2 279.9 140.6 283.4 150.6 287.0 156.1 290.5 163.4 294.1 171.3 297.7 180.5 301.2 201.5 304.8 214.5 308.3 228.5 311.9 250.6 315.4 269.5 319.0 281.4 322.5 292.0 326.1 297.5 329.6 309.4 333.2 329.0 336.7 340.7 340.3 356.2 343.9 374.7 347.4 378.6 351.0 389.7 354.5 414.0 358.1 423.1 361.6 442.7 365.2 64.2 368.7 84.5 372.3 81.5 375.8 94.1 379.4 114.7 382.9 119.5 386.5 126.0 390.0 128.7 393.6 134.1 397.2 152.0 400.7 166.1 404.3 167.6 407.8 172.5 411.4 184.5 414.9 191.7 418.5 206.5 422.0 223.4 425.6 229.1 429.1 239.4 432.7 248.0 436.2 255.1 439.8 272.7 443.4 289.8 446.9 304.2"/><path d="M95.1 261.5 98.6 271.2 102.2 281.6 105.8 290.8 109.3 300.6 112.9 312.0 116.4 328.0 120.0 334.3 123.5 345.2 127.1 359.3 130.6 365.7 134.2 379.5 137.7 391.6 141.3 403.1 144.8 412.9 148.4 427.0 152.0 437.9 155.5 62.3 159.1 74.2 162.6 89.8 166.2 106.9 169.7 114.3 173.3 124.1 176.8 144.3 180.4 158.9 183.9 169.6 187.5 180.3 191.0 197.4 194.6 213.2 198.1 224.2 201.7 241.1 205.3 260.9 208.8 268.2 212.4 273.8 215.9 286.8 219.5 298.5 223.0 311.9 226.6 325.1 230.1 336.4 233.7 347.4 237.2 358.1 240.8 372.4 244.3 387.0 247.9 403.5 251.5 411.4 255.0 424.7 258.6 443.3 262.1 74.9 265.7 88.0 269.2 106.4 272.8 118.2 276.3 138.1 279.9 150.3 283.4 158.1 287.0 175.5 290.5 190.2 294.1 197.0 297.7 215.6 301.2 232.9 304.8 254.1 308.3 261.0 311.9 279.5 315.4 292.7 319.0 305.7 322.5 310.0 326.1 327.4 329.6 343.3 333.2 352.4 336.7 362.3 340.3 378.4 343.9 399.2 347.4 411.7 351.0 405.9 354.5 410.9 358.1 430.2 361.6 62.0 365.2 69.9 368.7 77.1 372.3 98.6 375.8 107.9 379.4 104.2 382.9 120.9 386.5 139.2 390.0 149.5 393.6 158.6 397.2 168.6 400.7 185.8 404.3 195.1 407.8 195.8 411.4 212.5 414.9 214.1 418.5 226.4 422.0 240.1 425.6 245.5 429.1 251.9 432.7 255.3 436.2 262.6 439.8 267.2 443.4 280.8 446.9 290.2"/><path d="M95.1 261.5 98.6 270.9 102.2 282.0 105.8 295.1 109.3 307.0 112.9 322.3 116.4 339.4 120.0 351.9 123.5 374.8 127.1 381.1 130.6 388.2 134.2 403.9 137.7 413.0 141.3 422.7 144.8 439.4 148.4 71.4 152.0 82.6 155.5 88.8 159.1 96.1 162.6 103.5 166.2 116.5 169.7 137.2 173.3 148.5 176.8 162.7 180.4 178.8 183.9 194.6 187.5 206.6 191.0 220.7 194.6 225.7 198.1 243.3 201.7 255.4 205.3 271.3 208.8 282.3 212.4 298.2 215.9 315.7 219.5 331.1 223.0 349.1 226.6 360.0 230.1 373.6 233.7 384.9 237.2 390.0 240.8 406.8 244.3 410.3 247.9 424.4 251.5 442.2 255.0 66.0 258.6 79.3 262.1 91.0 265.7 97.8 269.2 110.1 272.8 111.5 276.3 128.1 279.9 142.1 283.4 154.3 287.0 175.6 290.5 182.2 294.1 190.0 297.7 200.7 301.2 213.2 304.8 228.4 308.3 238.0 311.9 237.7 315.4 245.1 319.0 252.0 322.5 275.1 326.1 292.6 329.6 309.6 333.2 319.7 336.7 327.8 340.3 340.0 343.9 359.8 347.4 379.6 351.0 402.2 354.5 419.7 358.1 436.0 361.6 446.6 365.2 68.7 368.7 80.5 372.3 85.7 375.8 94.4 379.4 104.9 382.9 123.2 386.5 134.2 390.0 148.8 393.6 157.2 397.2 163.1 400.7 171.7 404.3 177.4 407.8 194.9 411.4 203.3 414.9 216.4 418.5 227.0 422.0 234.6 425.6 243.7 429.1 255.8 432.7 274.7 436.2 281.6 439.8 292.9 443.4 308.5 446.9 321.1"/><path d="M95.1 261.5 98.6 272.9 102.2 286.7 105.8 300.3 109.3 316.3 112.9 333.2 116.4 347.1 120.0 354.5 123.5 365.4 127.1 379.8 130.6 388.1 134.2 397.3 137.7 407.7 141.3 416.6 144.8 428.5 148.4 67.8 152.0 83.9 155.5 96.4 159.1 107.4 162.6 118.9 166.2 132.3 169.7 142.6 173.3 152.7 176.8 165.1 180.4 173.4 183.9 190.0 187.5 203.7 191.0 220.3 194.6 233.1 198.1 240.1 201.7 250.7 205.3 266.4 208.8 283.4 212.4 294.4 215.9 314.7 219.5 315.4 223.0 324.2 226.6 335.3 230.1 348.4 233.7 366.1 237.2 377.5 240.8 390.9 244.3 399.2 247.9 406.7 251.5 426.6 255.0 448.2 258.6 56.1 262.1 77.0 265.7 90.7 269.2 99.4 272.8 111.7 276.3 129.3 279.9 135.2 283.4 147.9 287.0 151.9 290.5 158.3 294.1 166.3 297.7 183.0 301.2 189.9 304.8 205.8 308.3 214.1 311.9 227.3 315.4 247.6 319.0 261.5 322.5 283.5 326.1 290.7 329.6 300.6 333.2 306.0 336.7 303.0 340.3 309.8 343.9 324.1 347.4 346.6 351.0 359.0 354.5 370.7 358.1 376.3 361.6 388.6 365.2 408.4 368.7 418.1 372.3 60.4 375.8 78.7 379.4 84.0 382.9 93.4 386.5 101.3 390.0 113.2 393.6 121.4 397.2 120.6 400.7 132.2 404.3 138.7 407.8 144.5 411.4 151.7 414.9 157.8 418.5 167.0 422.0 187.2 425.6 205.3 429.1 217.8 432.7 231.9 436.2 248.0 439.8 265.6 443.4 285.6 446.9 305.0"/><path d="M95.1 261.5 98.6 269.6 102.2 280.9 105.8 288.8 109.3 300.7 112.9 307.8 116.4 322.8 120.0 342.9 123.5 357.1 127.1 370.3 130.6 382.3 134.2 389.2 137.7 403.3 141.3 421.2 144.8 439.6 148.4 60.1 152.0 69.4 155.5 82.1 159.1 98.0 162.6 112.6 166.2 121.4 169.7 140.4 173.3 165.5 176.8 182.4 180.4 195.2 183.9 204.8 187.5 212.0 191.0 223.7 194.6 227.8 198.1 242.1 201.7 254.3 205.3 267.2 208.8 279.2 212.4 298.7 215.9 313.0 219.5 322.8 223.0 332.8 226.6 344.0 230.1 361.3 233.7 377.2 237.2 386.1 240.8 392.3 244.3 402.4 247.9 413.1 251.5 418.5 255.0 453.6 258.6 60.3 262.1 68.6 265.7 82.4 269.2 94.9 272.8 106.2 276.3 109.9 279.9 117.8 283.4 120.5 287.0 127.1 290.5 155.3 294.1 174.1 297.7 186.2 301.2 193.9 304.8 203.3 308.3 229.6 311.9 248.1 315.4 258.3 319.0 270.5 322.5 288.3 326.1 296.8 329.6 305.8 333.2 313.2 336.7 323.7 340.3 327.6 343.9 353.8 347.4 362.9 351.0 373.6 354.5 379.4 358.1 395.4 361.6 408.1 365.2 412.9 368.7 418.5 372.3 429.0 375.8 431.5 379.4 445.2 382.9 73.1 386.5 80.9 390.0 86.3 393.6 101.5 397.2 111.4 400.7 120.8 404.3 139.6 407.8 145.1 411.4 164.1 414.9 176.0 418.5 190.3 422.0 200.8 425.6 212.7 429.1 223.3 432.7 227.8 436.2 240.3 439.8 244.0 443.4 256.8 446.9 262.5"/><path d="M95.1 261.5 98.6 270.3 102.2 283.4 105.8 292.4 109.3 305.7 112.9 318.6 116.4 334.6 120.0 343.8 123.5 349.2 127.1 361.2 130.6 371.3 134.2 384.1 137.7 392.4 141.3 408.9 144.8 415.2 148.4 448.0 152.0 59.4 155.5 70.5 159.1 81.6 162.6 101.3 166.2 109.8 169.7 129.6 173.3 136.6 176.8 148.1 180.4 158.6 183.9 173.2 187.5 185.7 191.0 193.7 194.6 202.8 198.1 209.3 201.7 221.2 205.3 234.2 208.8 251.0 212.4 262.9 215.9 278.3 219.5 292.3 223.0 309.6 226.6 322.6 230.1 341.1 233.7 355.7 237.2 365.5 240.8 378.3 244.3 389.0 247.9 401.5 251.5 417.9 255.0 436.7 258.6 65.2 262.1 78.5 265.7 89.5 269.2 95.9 272.8 108.2 276.3 120.3 279.9 134.0 283.4 139.7 287.0 141.7 290.5 155.4 294.1 156.3 297.7 158.2 301.2 160.0 304.8 165.0 308.3 181.7 311.9 193.1 315.4 209.6 319.0 223.3 322.5 235.3 326.1 243.9 329.6 251.8 333.2 264.2 336.7 280.2 340.3 292.0 343.9 299.5 347.4 310.0 351.0 327.3 354.5 327.5 358.1 350.5 361.6 374.5 365.2 371.2 368.7 392.7 372.3 408.6 375.8 421.1 379.4 432.3 382.9 428.1 386.5 430.7 390.0 435.3 393.6 64.6 397.2 80.5 400.7 83.6 404.3 91.2 407.8 99.9 411.4 100.2 414.9 117.4 418.5 124.4 422.0 143.0 425.6 148.9 429.1 159.9 432.7 180.2 436.2 190.2 439.8 199.1 443.4 203.6 446.9 220.3"/><path d="M95.1 261.5 98.6 270.9 102.2 283.8 105.8 293.0 109.3 305.4 112.9 315.5 116.4 330.0 120.0 334.3 123.5 344.7 127.1 357.4 130.6 365.5 134.2 376.1 137.7 391.8 141.3 403.7 144.8 419.8 148.4 420.1 152.0 433.3 155.5 61.9 159.1 81.1 162.6 89.6 166.2 105.7 169.7 111.9 173.3 122.9 176.8 135.3 180.4 147.3 183.9 161.6 187.5 175.4 191.0 183.7 194.6 193.6 198.1 213.7 201.7 231.6 205.3 244.2 208.8 264.8 212.4 273.2 215.9 282.7 219.5 296.4 223.0 314.9 226.6 327.0 230.1 336.4 233.7 347.9 237.2 361.7 240.8 381.1 244.3 391.7 247.9 412.2 251.5 419.6 255.0 434.5 258.6 58.4 262.1 76.2 265.7 82.8 269.2 90.8 272.8 104.7 276.3 116.7 279.9 129.2 283.4 148.9 287.0 163.1 290.5 174.8 294.1 186.0 297.7 199.3 301.2 215.8 304.8 231.1 308.3 262.4 311.9 264.5 315.4 270.5 319.0 278.5 322.5 288.6 326.1 306.6 329.6 325.1 333.2 341.3 336.7 350.7 340.3 363.2 343.9 367.9 347.4 382.4 351.0 394.1 354.5 411.2 358.1 445.2 361.6 65.6 365.2 90.4 368.7 88.8 372.3 96.6 375.8 98.2 379.4 111.2 382.9 123.4 386.5 136.2 390.0 153.7 393.6 171.5 397.2 180.0 400.7 190.6 404.3 196.6 407.8 212.1 411.4 214.6 414.9 224.6 418.5 246.9 422.0 257.1 425.6 272.3 429.1 288.9 432.7 296.6 436.2 312.9 439.8 326.1 443.4 346.7 446.9 354.8"/><path d="M95.1 261.5 98.6 273.2 102.2 285.7 105.8 296.1 109.3 311.8 112.9 328.3 116.4 335.1 120.0 343.4 123.5 350.7 127.1 363.4 130.6 375.6 134.2 389.0 137.7 410.5 141.3 421.5 144.8 445.5 148.4 60.6 152.0 72.2 155.5 91.1 159.1 103.3 162.6 108.2 166.2 114.8 169.7 131.4 173.3 153.8 176.8 159.1 180.4 178.3 183.9 189.3 187.5 194.1 191.0 207.0 194.6 223.5 198.1 234.7 201.7 249.3 205.3 269.2 208.8 279.9 212.4 296.8 215.9 309.1 219.5 323.1 223.0 335.0 226.6 343.7 230.1 351.4 233.7 364.5 237.2 380.3 240.8 393.5 244.3 407.9 247.9 422.4 251.5 439.7 255.0 60.6 258.6 71.6 262.1 85.4 265.7 98.1 269.2 108.7 272.8 124.2 276.3 139.5 279.9 152.2 283.4 158.8 287.0 177.5 290.5 193.2 294.1 200.3 297.7 208.7 301.2 211.2 304.8 216.4 308.3 225.0 311.9 238.9 315.4 247.3 319.0 257.0 322.5 279.8 326.1 293.8 329.6 305.3 333.2 312.4 336.7 334.2 340.3 336.2 343.9 346.4 347.4 351.5 351.0 358.8 354.5 373.7 358.1 398.2 361.6 417.1 365.2 439.8 368.7 58.1 372.3 73.1 375.8 81.3 379.4 94.0 382.9 93.2 386.5 106.9 390.0 119.1 393.6 137.9 397.2 149.8 400.7 168.1 404.3 174.0 407.8 182.7 411.4 198.4 414.9 205.4 418.5 211.6 422.0 220.8 425.6 235.5 429.1 243.4 432.7 263.3 436.2 268.4 439.8 274.4 443.4 290.9 446.9 293.3"/><path d="M95.1 261.5 98.6 274.4 102.2 289.3 105.8 300.4 109.3 308.3 112.9 323.8 116.4 346.8 120.0 359.1 123.5 368.6 127.1 379.0 130.6 394.2 134.2 411.0 137.7 425.7 141.3 450.4 144.8 71.1 148.4 86.4 152.0 91.9 155.5 108.3 159.1 125.8 162.6 139.3 166.2 149.2 169.7 165.6 173.3 175.5 176.8 188.1 180.4 204.6 183.9 210.4 187.5 217.6 191.0 230.2 194.6 239.6 198.1 251.4 201.7 259.0 205.3 269.7 208.8 280.7 212.4 299.4 215.9 315.1 219.5 328.1 223.0 341.3 226.6 353.9 230.1 369.7 233.7 386.4 237.2 397.6 240.8 408.4 244.3 417.8 247.9 425.7 251.5 435.6 255.0 58.3 258.6 75.6 262.1 90.1 265.7 102.3 269.2 118.7 272.8 138.4 276.3 151.8 279.9 156.6 283.4 167.9 287.0 174.4 290.5 189.1 294.1 207.9 297.7 225.3 301.2 240.1 304.8 253.4 308.3 268.0 311.9 284.4 315.4 306.3 319.0 316.8 322.5 327.8 326.1 336.6 329.6 339.6 333.2 344.2 336.7 346.5 340.3 370.2 343.9 376.4 347.4 388.1 351.0 396.6 354.5 398.5 358.1 416.7 361.6 424.3 365.2 436.2 368.7 63.3 372.3 78.2 375.8 87.2 379.4 103.1 382.9 110.5 386.5 126.7 390.0 137.0 393.6 135.8 397.2 140.8 400.7 153.9 404.3 155.8 407.8 155.0 411.4 157.5 414.9 163.1 418.5 190.7 422.0 207.9 425.6 231.3 429.1 248.3 432.7 260.0 436.2 268.9 439.8 281.8 443.4 297.8 446.9 309.8"/><path d="M95.1 261.5 98.6 274.7 102.2 284.8 105.8 298.1 109.3 311.2 112.9 318.2 116.4 328.0 120.0 347.6 123.5 366.2 127.1 379.6 130.6 391.0 134.2 405.7 137.7 414.3 141.3 427.6 144.8 438.4 148.4 70.6 152.0 88.5 155.5 97.1 159.1 104.9 162.6 115.7 166.2 131.4 169.7 143.4 173.3 150.6 176.8 157.8 180.4 176.9 183.9 195.3 187.5 208.6 191.0 221.7 194.6 231.4 198.1 240.8 201.7 253.6 205.3 265.8 208.8 276.1 212.4 288.7 215.9 307.3 219.5 326.2 223.0 338.7 226.6 343.6 230.1 353.7 233.7 362.6 237.2 377.3 240.8 400.4 244.3 414.0 247.9 428.2 251.5 447.6 255.0 76.2 258.6 92.2 262.1 102.2 265.7 108.8 269.2 120.5 272.8 132.3 276.3 134.0 279.9 140.5 283.4 153.6 287.0 168.5 290.5 183.1 294.1 185.3 297.7 196.1 301.2 200.4 304.8 214.7 308.3 240.8 311.9 253.0 315.4 263.1 319.0 273.5 322.5 280.4 326.1 292.4 329.6 312.9 333.2 319.6 336.7 346.3 340.3 356.5 343.9 376.0 347.4 380.7 351.0 380.5 354.5 392.9 358.1 404.7 361.6 410.1 365.2 418.0 368.7 452.8 372.3 62.2 375.8 81.2 379.4 86.9 382.9 91.0 386.5 101.6 390.0 117.6 393.6 126.2 397.2 135.1 400.7 152.2 404.3 164.8 407.8 179.0 411.4 196.4 414.9 213.2 418.5 226.6 422.0 234.5 425.6 248.5 429.1 257.1 432.7 267.5 436.2 276.7 439.8 287.8 443.4 310.0 446.9 320.8"/><path d="M95.1 261.5 98.6 275.7 102.2 288.2 105.8 303.1 109.3 313.8 112.9 332.3 116.4 348.4 120.0 361.2 123.5 366.6 127.1 386.4 130.6 401.5 134.2 408.1 137.7 417.1 141.3 422.9 144.8 445.0 148.4 60.5 152.0 84.7 155.5 98.3 159.1 116.0 162.6 126.8 166.2 136.7 169.7 151.7 173.3 160.6 176.8 174.9 180.4 184.3 183.9 195.1 187.5 211.9 191.0 223.2 194.6 233.7 198.1 248.5 201.7 261.9 205.3 276.9 208.8 287.7 212.4 295.1 215.9 314.3 219.5 326.7 223.0 336.4 226.6 349.0 230.1 368.5 233.7 372.4 237.2 386.5 240.8 404.0 244.3 419.1 247.9 435.2 251.5 59.9 255.0 70.2 258.6 83.1 262.1 99.2 265.7 116.2 269.2 127.4 272.8 143.3 276.3 154.4 279.9 164.3 283.4 170.2 287.0 181.1 290.5 192.8 294.1 200.4 297.7 209.8 301.2 212.7 304.8 216.7 308.3 219.5 311.9 242.8 315.4 253.5 319.0 251.3 322.5 268.1 326.1 286.9 329.6 307.0 333.2 324.8 336.7 332.2 340.3 339.4 343.9 353.1 347.4 374.9 351.0 382.0 354.5 382.0 358.1 382.7 361.6 397.7 365.2 420.0 368.7 441.8 372.3 69.3 375.8 87.6 379.4 93.6 382.9 111.6 386.5 133.8 390.0 161.2 393.6 177.9 397.2 195.6 400.7 207.9 404.3 235.0 407.8 248.8 411.4 259.8 414.9 271.3 418.5 274.8 422.0 297.5 425.6 325.4 429.1 333.5 432.7 348.4 436.2 359.8 439.8 366.5 443.4 381.2 446.9 389.3"/><path d="M95.1 261.5 98.6 273.9 102.2 286.3 105.8 302.3 109.3 315.0 112.9 325.2 116.4 348.5 120.0 359.8 123.5 369.4 127.1 374.0 130.6 387.4 134.2 405.3 137.7 416.5 141.3 431.1 144.8 443.9 148.4 67.7 152.0 79.1 155.5 90.1 159.1 102.6 162.6 115.5 166.2 127.5 169.7 131.1 173.3 147.2 176.8 162.6 180.4 175.3 183.9 188.4 187.5 202.0 191.0 221.3 194.6 224.0 198.1 239.2 201.7 258.4 205.3 286.6 208.8 298.5 212.4 315.9 215.9 328.8 219.5 347.3 223.0 358.9 226.6 360.9 230.1 367.3 233.7 379.0 237.2 392.3 240.8 416.1 244.3 449.3 247.9 58.0 251.5 66.3 255.0 83.6 258.6 95.5 262.1 106.5 265.7 107.4 269.2 113.4 272.8 133.5 276.3 146.2 279.9 166.5 283.4 182.0 287.0 194.9 290.5 223.2 294.1 225.4 297.7 241.4 301.2 257.1 304.8 279.4 308.3 292.4 311.9 307.2 315.4 316.5 319.0 339.7 322.5 350.9 326.1 356.4 329.6 365.5 333.2 374.6 336.7 391.2 340.3 408.9 343.9 412.8 347.4 427.4 351.0 428.7 354.5 443.8 358.1 54.5 361.6 69.5 365.2 79.5 368.7 105.8 372.3 123.1 375.8 133.0 379.4 146.2 382.9 153.9 386.5 175.7 390.0 200.3 393.6 204.4 397.2 226.5 400.7 229.6 404.3 247.9 407.8 255.3 411.4 281.9 414.9 290.4 418.5 305.8 422.0 331.9 425.6 333.6 429.1 356.4 432.7 371.0 436.2 385.1 439.8 394.7 443.4 401.2 446.9 422.8"/><path d="M95.1 261.5 98.6 272.3 102.2 282.3 105.8 295.7 109.3 308.8 112.9 319.8 116.4 332.9 120.0 341.6 123.5 353.0 127.1 364.5 130.6 371.4 134.2 391.4 137.7 396.3 141.3 408.8 144.8 424.7 148.4 440.0 152.0 69.9 155.5 96.0 159.1 100.9 162.6 116.8 166.2 125.3 169.7 140.4 173.3 152.3 176.8 158.8 180.4 174.3 183.9 183.4 187.5 197.5 191.0 210.7 194.6 222.1 198.1 234.9 201.7 248.4 205.3 265.2 208.8 278.5 212.4 293.0 215.9 305.6 219.5 317.7 223.0 332.0 226.6 344.2 230.1 367.0 233.7 377.7 237.2 383.0 240.8 396.3 244.3 410.9 247.9 417.8 251.5 435.5 255.0 64.2 258.6 75.4 262.1 90.0 265.7 108.8 269.2 120.6 272.8 131.1 276.3 145.8 279.9 158.0 283.4 174.1 287.0 174.3 290.5 184.6 294.1 210.7 297.7 235.4 301.2 250.9 304.8 264.5 308.3 284.1 311.9 286.1 315.4 296.2 319.0 309.6 322.5 316.2 326.1 331.5 329.6 342.8 333.2 351.2 336.7 360.0 340.3 373.6 343.9 384.8 347.4 401.6 351.0 411.0 354.5 418.8 358.1 431.8 361.6 441.7 365.2 74.9 368.7 90.3 372.3 100.3 375.8 119.9 379.4 132.5 382.9 141.8 386.5 163.0 390.0 181.1 393.6 192.3 397.2 197.7 400.7 204.7 404.3 215.6 407.8 225.4 411.4 246.8 414.9 265.4 418.5 279.6 422.0 283.3 425.6 304.4 429.1 315.1 432.7 311.6 436.2 326.9 439.8 332.7 443.4 353.0 446.9 372.0"/><path d="M95.1 261.5 98.6 278.8 102.2 292.0 105.8 304.4 109.3 318.2 112.9 333.2 116.4 344.0 120.0 353.6 123.5 363.1 127.1 372.2 130.6 386.1 134.2 394.7 137.7 407.7 141.3 417.2 144.8 427.2 148.4 452.6 152.0 66.1 155.5 90.5 159.1 103.7 162.6 119.9 166.2 133.4 169.7 154.3 173.3 164.8 176.8 182.3 180.4 197.1 183.9 210.3 187.5 226.3 191.0 233.4 194.6 243.5 198.1 256.7 201.7 265.6 205.3 279.2 208.8 287.5 212.4 305.1 215.9 316.0 219.5 335.3 223.0 344.8 226.6 353.3 230.1 359.8 233.7 368.7 237.2 381.6 240.8 395.4 244.3 410.7 247.9 432.1 251.5 60.4 255.0 80.6 258.6 91.7 262.1 108.1 265.7 124.4 269.2 138.8 272.8 150.4 276.3 161.1 279.9 173.6 283.4 178.5 287.0 171.7 290.5 205.9 294.1 206.8 297.7 223.9 301.2 229.0 304.8 223.9 308.3 229.7 311.9 232.9 315.4 246.3 319.0 259.8 322.5 264.9 326.1 282.3 329.6 294.7 333.2 308.6 336.7 320.0 340.3 340.1 343.9 349.2 347.4 358.1 351.0 368.2 354.5 379.6 358.1 388.7 361.6 401.3 365.2 407.9 368.7 417.0 372.3 426.5 375.8 429.5 379.4 66.0 382.9 82.4 386.5 104.1 390.0 121.1 393.6 134.9 397.2 151.4 400.7 173.0 404.3 176.9 407.8 185.3 411.4 190.2 414.9 203.6 418.5 213.4 422.0 229.8 425.6 233.2 429.1 249.9 432.7 258.4 436.2 279.1 439.8 283.8 443.4 292.0 446.9 297.8"/><path d="M95.1 261.5 98.6 276.9 102.2 292.3 105.8 302.5 109.3 315.3 112.9 325.7 116.4 329.3 120.0 341.6 123.5 349.6 127.1 358.5 130.6 369.6 134.2 389.7 137.7 400.4 141.3 417.6 144.8 431.8 148.4 447.0 152.0 65.2 155.5 88.0 159.1 104.5 162.6 114.5 166.2 126.8 169.7 138.8 173.3 147.8 176.8 151.1 180.4 168.9 183.9 178.8 187.5 182.0 191.0 193.1 194.6 208.4 198.1 222.6 201.7 243.5 205.3 265.7 208.8 275.4 212.4 291.8 215.9 310.4 219.5 329.2 223.0 346.5 226.6 357.8 230.1 374.4 233.7 380.7 237.2 397.9 240.8 414.4 244.3 425.2 247.9 448.5 251.5 75.5 255.0 94.7 258.6 106.9 262.1 119.9 265.7 130.7 269.2 143.3 272.8 151.6 276.3 170.5 279.9 180.8 283.4 196.3 287.0 198.9 290.5 211.3 294.1 224.0 297.7 230.2 301.2 239.8 304.8 242.0 308.3 258.3 311.9 267.5 315.4 283.9 319.0 300.4 322.5 301.1 326.1 318.4 329.6 324.5 333.2 331.9 336.7 329.9 340.3 343.8 343.9 352.6 347.4 360.6 351.0 371.2 354.5 383.1 358.1 396.8 361.6 421.7 365.2 436.3 368.7 65.0 372.3 75.2 375.8 83.3 379.4 93.8 382.9 90.3 386.5 100.9 390.0 115.6 393.6 118.4 397.2 125.2 400.7 139.2 404.3 147.8 407.8 148.5 411.4 168.7 414.9 178.4 418.5 179.4 422.0 175.5 425.6 182.7 429.1 187.4 432.7 196.8 436.2 218.0 439.8 231.7 443.4 240.4 446.9 246.0"/><path d="M95.1 261.5 98.6 275.8 102.2 289.1 105.8 300.0 109.3 308.8 112.9 322.3 116.4 337.0 120.0 355.4 123.5 369.2 127.1 384.8 130.6 397.0 134.2 412.0 137.7 426.6 141.3 434.4 144.8 441.0 148.4 63.4 152.0 79.0 155.5 95.5 159.1 114.8 162.6 134.2 166.2 142.9 169.7 160.4 173.3 171.4 176.8 183.7 180.4 194.0 183.9 209.5 187.5 224.6 191.0 237.3 194.6 244.8 198.1 263.4 201.7 281.2 205.3 296.5 208.8 307.6 212.4 315.4 215.9 334.0 219.5 346.6 223.0 363.5 226.6 377.2 230.1 386.9 233.7 398.1 237.2 408.0 240.8 419.1 244.3 431.3 247.9 443.3 251.5 82.0 255.0 93.0 258.6 106.0 262.1 116.2 265.7 129.0 269.2 139.1 272.8 148.1 276.3 161.0 279.9 175.0 283.4 186.0 287.0 196.8 290.5 212.3 294.1 223.5 297.7 242.9 301.2 264.2 304.8 283.5 308.3 289.8 311.9 301.2 315.4 300.3 319.0 301.7 322.5 313.8 326.1 329.0 329.6 336.0 333.2 340.2 336.7 348.0 340.3 350.4 343.9 362.5 347.4 370.7 351.0 370.0 354.5 376.1 358.1 383.2 361.6 389.7 365.2 396.7 368.7 408.3 372.3 425.3 375.8 442.1 379.4 61.3 382.9 75.3 386.5 98.5 390.0 112.1 393.6 126.1 397.2 148.1 400.7 164.2 404.3 188.3 407.8 189.7 411.4 190.2 414.9 196.8 418.5 200.1 422.0 226.2 425.6 233.8 429.1 231.4 432.7 237.8 436.2 252.1 439.8 259.6 443.4 273.3 446.9 276.3"/><path d="M95.1 261.5 98.6 277.4 102.2 289.8 105.8 303.0 109.3 317.5 112.9 330.4 116.4 343.6 120.0 354.2 123.5 365.2 127.1 371.9 130.6 383.0 134.2 393.3 137.7 412.8 141.3 442.4 144.8 63.9 148.4 75.7 152.0 88.1 155.5 101.0 159.1 117.7 162.6 130.4 166.2 138.5 169.7 154.2 173.3 170.5 176.8 190.6 180.4 206.1 183.9 220.5 187.5 240.9 191.0 250.0 194.6 260.6 198.1 277.1 201.7 289.5 205.3 300.1 208.8 315.8 212.4 329.2 215.9 341.3 219.5 351.8 223.0 362.3 226.6 371.4 230.1 375.3 233.7 389.3 237.2 397.6 240.8 412.1 244.3 429.6 247.9 453.0 251.5 68.9 255.0 90.9 258.6 107.3 262.1 120.7 265.7 131.6 269.2 135.6 272.8 151.2 276.3 159.6 279.9 172.7 283.4 186.5 287.0 217.8 290.5 229.1 294.1 241.9 297.7 260.6 301.2 267.9 304.8 274.0 308.3 281.5 311.9 291.2 315.4 307.4 319.0 325.4 322.5 347.9 326.1 367.9 329.6 377.9 333.2 379.4 336.7 383.1 340.3 393.2 343.9 404.9 347.4 421.5 351.0 434.1 354.5 439.1 358.1 441.2 361.6 70.0 365.2 89.8 368.7 102.2 372.3 117.6 375.8 119.6 379.4 138.3 382.9 142.4 386.5 162.6 390.0 183.5 393.6 197.9 397.2 206.6 400.7 230.4 404.3 238.7 407.8 260.2 411.4 279.8 414.9 291.1 418.5 303.9 422.0 301.5 425.6 309.9 429.1 319.3 432.7 339.4 436.2 357.1 439.8 377.6 443.4 389.7 446.9 400.2"/><path d="M95.1 261.5 98.6 277.1 102.2 288.7 105.8 301.7 109.3 317.1 112.9 331.0 116.4 343.9 120.0 351.5 123.5 367.4 127.1 379.0 130.6 401.6 134.2 415.2 137.7 431.7 141.3 61.8 144.8 90.2 148.4 106.4 152.0 122.3 155.5 146.3 159.1 156.2 162.6 170.3 166.2 185.6 169.7 192.8 173.3 201.3 176.8 215.1 180.4 230.8 183.9 242.0 187.5 258.8 191.0 267.4 194.6 289.5 198.1 304.8 201.7 322.4 205.3 335.2 208.8 348.9 212.4 357.3 215.9 367.9 219.5 377.3 223.0 388.6 226.6 405.4 230.1 409.8 233.7 413.5 237.2 427.8 240.8 437.4 244.3 442.0 247.9 65.4 251.5 88.7 255.0 98.9 258.6 109.1 262.1 117.4 265.7 127.5 269.2 136.9 272.8 148.8 276.3 164.1 279.9 157.9 283.4 166.5 287.0 185.0 290.5 201.3 294.1 205.4 297.7 219.5 301.2 226.4 304.8 232.6 308.3 246.9 311.9 263.6 315.4 270.8 319.0 295.1 322.5 315.5 326.1 319.6 329.6 321.8 333.2 335.0 336.7 355.6 340.3 362.6 343.9 365.3 347.4 375.0 351.0 389.6 354.5 394.4 358.1 407.8 361.6 419.5 365.2 426.6 368.7 438.2 372.3 60.3 375.8 77.9 379.4 98.7 382.9 105.6 386.5 122.3 390.0 139.5 393.6 155.5 397.2 169.4 400.7 166.8 404.3 168.3 407.8 183.9 411.4 185.2 414.9 192.2 418.5 205.7 422.0 219.8 425.6 243.0 429.1 270.0 432.7 281.5 436.2 307.0 439.8 302.8 443.4 318.8 446.9 322.9"/><path d="M95.1 261.5 98.6 277.2 102.2 289.0 105.8 302.3 109.3 311.8 112.9 328.4 116.4 341.7 120.0 360.3 123.5 373.6 127.1 386.4 130.6 402.6 134.2 419.1 137.7 451.6 141.3 59.0 144.8 71.4 148.4 90.9 152.0 108.0 155.5 117.7 159.1 131.2 162.6 146.6 166.2 162.6 169.7 183.9 173.3 198.9 176.8 207.1 180.4 216.8 183.9 227.5 187.5 241.2 191.0 253.5 194.6 266.8 198.1 281.2 201.7 295.8 205.3 313.0 208.8 316.5 212.4 329.8 215.9 348.8 219.5 352.8 223.0 368.8 226.6 377.3 230.1 386.8 233.7 400.9 237.2 414.2 240.8 438.3 244.3 54.6 247.9 75.6 251.5 91.6 255.0 103.3 258.6 113.7 262.1 118.6 265.7 127.1 269.2 132.7 272.8 148.4 276.3 170.7 279.9 181.2 283.4 202.2 287.0 214.1 290.5 226.4 294.1 244.3 297.7 255.0 301.2 263.7 304.8 288.7 308.3 301.9 311.9 316.7 315.4 333.4 319.0 346.1 322.5 352.4 326.1 365.0 329.6 384.1 333.2 406.2 336.7 413.5 340.3 425.7 343.9 435.4 347.4 470.2 351.0 69.4 354.5 78.0 358.1 97.5 361.6 107.3 365.2 115.9 368.7 115.6 372.3 130.3 375.8 140.3 379.4 157.2 382.9 168.0 386.5 174.4 390.0 196.0 393.6 205.3 397.2 221.7 400.7 227.0 404.3 237.7 407.8 254.6 411.4 268.2 414.9 278.1 418.5 291.3 422.0 308.5 425.6 316.9 429.1 316.1 432.7 342.0 436.2 357.4 439.8 359.5 443.4 378.0 446.9 389.1"/><path d="M95.1 261.5 98.6 277.7 102.2 291.3 105.8 304.7 109.3 318.2 112.9 333.9 116.4 347.4 120.0 359.7 123.5 374.8 127.1 389.1 130.6 403.8 134.2 414.9 137.7 428.2 141.3 462.6 144.8 70.7 148.4 74.3 152.0 87.8 155.5 101.0 159.1 118.3 162.6 118.8 166.2 128.5 169.7 139.3 173.3 155.5 176.8 168.2 180.4 182.8 183.9 195.1 187.5 210.7 191.0 222.6 194.6 233.8 198.1 248.0 201.7 262.5 205.3 280.1 208.8 292.5 212.4 305.8 215.9 322.0 219.5 329.3 223.0 345.4 226.6 360.6 230.1 381.6 233.7 388.3 237.2 398.6 240.8 409.7 244.3 420.8 247.9 438.4 251.5 65.3 255.0 80.3 258.6 98.8 262.1 114.4 265.7 127.1 269.2 140.2 272.8 148.1 276.3 166.4 279.9 188.0 283.4 205.6 287.0 221.9 290.5 238.5 294.1 247.7 297.7 258.9 301.2 272.6 304.8 289.4 308.3 296.2 311.9 306.3 315.4 306.3 319.0 321.2 322.5 331.0 326.1 352.6 329.6 364.3 333.2 369.9 336.7 381.8 340.3 387.7 343.9 390.2 347.4 397.4 351.0 406.3 354.5 420.9 358.1 436.2 361.6 76.3 365.2 85.1 368.7 119.8 372.3 126.0 375.8 134.6 379.4 144.8 382.9 153.4 386.5 168.9 390.0 192.8 393.6 206.1 397.2 216.3 400.7 229.9 404.3 240.8 407.8 247.9 411.4 256.4 414.9 269.9 418.5 283.3 422.0 287.4 425.6 318.2 429.1 323.5 432.7 337.2 436.2 350.3 439.8 356.8 443.4 372.1 446.9 383.1"/><path d="M95.1 261.5 98.6 277.8 102.2 292.3 105.8 305.4 109.3 317.5 112.9 333.2 116.4 348.9 120.0 363.1 123.5 382.2 127.1 392.9 130.6 412.5 134.2 419.7 137.7 419.0 141.3 429.2 144.8 452.1 148.4 61.6 152.0 74.9 155.5 86.3 159.1 96.9 162.6 107.2 166.2 121.0 169.7 133.5 173.3 146.7 176.8 162.1 180.4 177.7 183.9 188.4 187.5 198.1 191.0 201.8 194.6 219.3 198.1 236.3 201.7 248.9 205.3 261.0 208.8 275.6 212.4 283.9 215.9 304.7 219.5 315.7 223.0 331.2 226.6 351.3 230.1 367.6 233.7 381.3 237.2 401.9 240.8 410.1 244.3 425.9 247.9 442.9 251.5 72.0 255.0 88.3 258.6 102.7 262.1 121.4 265.7 134.9 269.2 143.6 272.8 149.2 276.3 156.5 279.9 173.1 283.4 182.5 287.0 195.8 290.5 207.9 294.1 227.3 297.7 246.5 301.2 256.7 304.8 263.2 308.3 273.6 311.9 296.2 315.4 314.7 319.0 320.2 322.5 331.6 326.1 350.0 329.6 361.8 333.2 373.3 336.7 394.5 340.3 404.9 343.9 422.3 347.4 455.5 351.0 68.0 354.5 78.1 358.1 96.6 361.6 111.2 365.2 124.3 368.7 144.8 372.3 164.9 375.8 185.0 379.4 209.2 382.9 226.9 386.5 244.8 390.0 261.3 393.6 266.9 397.2 280.3 400.7 292.3 404.3 304.3 407.8 311.5 411.4 320.9 414.9 342.0 418.5 355.3 422.0 377.6 425.6 382.0 429.1 399.0 432.7 416.9 436.2 432.9 439.8 64.1 443.4 77.6 446.9 87.4"/><path d="M95.1 261.5 98.6 276.0 102.2 288.2 105.8 301.6 109.3 313.0 112.9 324.8 116.4 340.7 120.0 348.9 123.5 357.9 127.1 373.8 130.6 384.8 134.2 399.9 137.7 410.2 141.3 420.8 144.8 436.1 148.4 62.1 152.0 74.4 155.5 85.1 159.1 100.9 162.6 110.9 166.2 136.2 169.7 145.5 173.3 161.4 176.8 172.6 180.4 191.0 183.9 202.4 187.5 213.8 191.0 230.6 194.6 241.8 198.1 249.2 201.7 261.0 205.3 273.9 208.8 290.3 212.4 309.9 215.9 330.0 219.5 350.3 223.0 367.2 226.6 371.7 230.1 387.8 233.7 407.2 237.2 424.7 240.8 445.7 244.3 65.9 247.9 83.6 251.5 95.0 255.0 102.6 258.6 111.1 262.1 113.8 265.7 122.4 269.2 133.5 272.8 150.9 276.3 173.5 279.9 191.0 283.4 215.3 287.0 227.3 290.5 241.8 294.1 251.7 297.7 260.5 301.2 279.0 304.8 302.2 308.3 314.5 311.9 318.9 315.4 329.9 319.0 343.6 322.5 356.7 326.1 364.7 329.6 379.0 333.2 388.6 336.7 405.0 340.3 415.2 343.9 450.9 347.4 74.2 351.0 84.5 354.5 95.0 358.1 104.1 361.6 112.8 365.2 119.2 368.7 125.2 372.3 146.6 375.8 167.9 379.4 176.2 382.9 186.8 386.5 201.8 390.0 222.4 393.6 240.1 397.2 258.2 400.7 273.3 404.3 281.2 407.8 304.4 411.4 323.2 414.9 327.7 418.5 333.1 422.0 349.5 425.6 361.5 429.1 367.4 432.7 376.8 436.2 383.0 439.8 397.5 443.4 414.0 446.9 429.9"/><path d="M95.1 261.5 98.6 276.7 102.2 289.0 105.8 299.1 109.3 314.2 112.9 323.4 116.4 337.2 120.0 348.3 123.5 357.8 127.1 373.8 130.6 391.5 134.2 406.4 137.7 414.5 141.3 429.3 144.8 433.0 148.4 438.5 152.0 63.2 155.5 88.0 159.1 99.1 162.6 123.3 166.2 134.2 169.7 144.0 173.3 159.0 176.8 176.3 180.4 190.0 183.9 200.5 187.5 217.7 191.0 225.6 194.6 240.4 198.1 253.9 201.7 271.6 205.3 280.7 208.8 294.4 212.4 308.8 215.9 325.3 219.5 340.6 223.0 350.4 226.6 359.1 230.1 365.6 233.7 375.7 237.2 392.2 240.8 402.2 244.3 418.4 247.9 434.7 251.5 67.1 255.0 78.4 258.6 93.7 262.1 106.1 265.7 126.0 269.2 142.8 272.8 150.0 276.3 157.9 279.9 160.9 283.4 177.4 287.0 192.7 290.5 205.3 294.1 213.8 297.7 228.4 301.2 244.5 304.8 262.4 308.3 277.5 311.9 292.3 315.4 300.7 319.0 303.9 322.5 313.6 326.1 331.1 329.6 344.4 333.2 347.7 336.7 353.3 340.3 371.4 343.9 389.9 347.4 404.7 351.0 412.2 354.5 444.1 358.1 72.3 361.6 76.7 365.2 84.1 368.7 92.4 372.3 88.4 375.8 110.4 379.4 119.0 382.9 132.7 386.5 141.9 390.0 154.8 393.6 174.1 397.2 178.5 400.7 188.1 404.3 193.3 407.8 210.4 411.4 225.2 414.9 229.5 418.5 237.1 422.0 246.5 425.6 258.7 429.1 263.8 432.7 284.2 436.2 298.3 439.8 296.2 443.4 316.8 446.9 320.7"/><path d="M95.1 261.5 98.6 277.0 102.2 288.9 105.8 299.5 109.3 314.4 112.9 327.7 116.4 349.1 120.0 362.4 123.5 377.0 127.1 400.3 130.6 415.0 134.2 427.6 137.7 59.6 141.3 79.7 144.8 96.2 148.4 110.4 152.0 124.0 155.5 137.8 159.1 151.9 162.6 161.4 166.2 174.7 169.7 190.7 173.3 203.5 176.8 211.0 180.4 223.3 183.9 232.3 187.5 244.6 191.0 258.4 194.6 274.3 198.1 286.0 201.7 302.8 205.3 321.8 208.8 328.5 212.4 345.5 215.9 353.9 219.5 356.2 223.0 363.9 226.6 375.7 230.1 390.2 233.7 391.5 237.2 408.3 240.8 416.4 244.3 429.3 247.9 449.9 251.5 60.7 255.0 84.2 258.6 90.4 262.1 104.2 265.7 117.9 269.2 135.5 272.8 151.4 276.3 158.1 279.9 166.7 283.4 178.8 287.0 194.7 290.5 201.9 294.1 224.2 297.7 234.0 301.2 246.5 304.8 259.2 308.3 278.5 311.9 290.2 315.4 302.4 319.0 320.4 322.5 340.1 326.1 362.6 329.6 381.6 333.2 398.7 336.7 411.9 340.3 421.7 343.9 439.4 347.4 59.9 351.0 78.2 354.5 104.4 358.1 110.9 361.6 128.2 365.2 147.5 368.7 152.1 372.3 165.3 375.8 174.6 379.4 184.8 382.9 198.1 386.5 213.5 390.0 227.0 393.6 246.4 397.2 253.7 400.7 261.8 404.3 276.3 407.8 288.5 411.4 294.9 414.9 322.0 418.5 328.0 422.0 346.4 425.6 350.2 429.1 361.5 432.7 372.8 436.2 384.8 439.8 402.3 443.4 419.0 446.9 426.4"/><path d="M95.1 261.5 98.6 278.4 102.2 293.3 105.8 309.3 109.3 325.5 112.9 340.8 116.4 350.6 120.0 359.9 123.5 365.7 127.1 376.2 130.6 391.7 134.2 407.0 137.7 419.0 141.3 432.6 144.8 61.9 148.4 71.9 152.0 94.7 155.5 106.9 159.1 119.8 162.6 135.8 166.2 151.6 169.7 169.8 173.3 175.6 176.8 185.9 180.4 193.4 183.9 208.4 187.5 217.1 191.0 230.5 194.6 246.3 198.1 257.4 201.7 269.8 205.3 286.5 208.8 298.5 212.4 311.5 215.9 326.5 219.5 342.5 223.0 351.5 226.6 370.2 230.1 393.7 233.7 408.5 237.2 413.9 240.8 420.2 244.3 456.8 247.9 73.5 251.5 84.4 255.0 88.8 258.6 101.0 262.1 114.5 265.7 123.4 269.2 139.7 272.8 148.9 276.3 153.2 279.9 169.6 283.4 198.1 287.0 216.7 290.5 236.5 294.1 236.5 297.7 247.6 301.2 244.7 304.8 247.4 308.3 259.2 311.9 263.8 315.4 266.6 319.0 275.5 322.5 290.7 326.1 310.0 329.6 318.0 333.2 328.4 336.7 351.9 340.3 373.8 343.9 391.4 347.4 398.9 351.0 413.5 354.5 405.6 358.1 412.5 361.6 424.4 365.2 434.3 368.7 449.0 372.3 58.9 375.8 67.3 379.4 78.1 382.9 86.7 386.5 97.6 390.0 111.8 393.6 123.6 397.2 142.2 400.7 147.9 404.3 159.8 407.8 170.9 411.4 180.7 414.9 200.0 418.5 207.2 422.0 224.1 425.6 236.0 429.1 236.5 432.7 245.6 436.2 253.8 439.8 269.6 443.4 281.1 446.9 292.5"/><path d="M95.1 261.5 98.6 275.7 102.2 287.3 105.8 301.1 109.3 312.6 112.9 322.1 116.4 339.0 120.0 365.6 123.5 373.7 127.1 395.0 130.6 403.1 134.2 458.5 137.7 62.7 141.3 83.3 144.8 100.1 148.4 109.1 152.0 126.5 155.5 134.1 159.1 148.6 162.6 161.5 166.2 180.0 169.7 196.1 173.3 205.0 176.8 212.6 180.4 224.3 183.9 236.8 187.5 244.2 191.0 253.5 194.6 266.2 198.1 273.8 201.7 284.6 205.3 296.8 208.8 310.0 212.4 321.8 215.9 334.7 219.5 353.8 223.0 366.1 226.6 377.5 230.1 386.2 233.7 394.0 237.2 402.1 240.8 418.1 244.3 436.9 247.9 61.1 251.5 77.7 255.0 97.8 258.6 109.4 262.1 117.9 265.7 129.0 269.2 139.0 272.8 149.3 276.3 164.0 279.9 178.6 283.4 193.3 287.0 200.1 290.5 206.4 294.1 227.7 297.7 240.4 301.2 259.6 304.8 270.7 308.3 284.1 311.9 297.4 315.4 299.1 319.0 308.9 322.5 315.0 326.1 330.2 329.6 347.8 333.2 357.9 336.7 376.0 340.3 389.6 343.9 402.9 347.4 419.6 351.0 447.6 354.5 63.9 358.1 94.4 361.6 101.8 365.2 111.4 368.7 123.9 372.3 145.1 375.8 163.9 379.4 163.7 382.9 186.7 386.5 198.6 390.0 212.4 393.6 220.2 397.2 222.8 400.7 241.8 404.3 250.6 407.8 259.7 411.4 259.9 414.9 277.8 418.5 298.1 422.0 317.7 425.6 315.8 429.1 326.2 432.7 338.4 436.2 335.5 439.8 351.4 443.4 368.9 446.9 394.1"/><path d="M95.1 261.5 98.6 278.3 102.2 290.6 105.8 300.3 109.3 318.2 112.9 329.1 116.4 345.3 120.0 358.5 123.5 374.5 127.1 392.7 130.6 401.9 134.2 414.6 137.7 426.5 141.3 453.9 144.8 64.6 148.4 77.3 152.0 88.9 155.5 106.2 159.1 121.0 162.6 134.3 166.2 146.0 169.7 166.2 173.3 183.8 176.8 198.8 180.4 211.5 183.9 218.0 187.5 234.7 191.0 248.9 194.6 256.7 198.1 271.3 201.7 278.2 205.3 289.5 208.8 306.0 212.4 328.3 215.9 339.9 219.5 356.3 223.0 366.4 226.6 378.1 230.1 388.3 233.7 406.7 237.2 421.4 240.8 435.9 244.3 441.0 247.9 59.3 251.5 78.2 255.0 94.6 258.6 107.1 262.1 112.9 265.7 126.0 269.2 137.5 272.8 149.0 276.3 159.0 279.9 166.9 283.4 175.5 287.0 177.9 290.5 180.0 294.1 191.0 297.7 213.4 301.2 228.1 304.8 247.0 308.3 265.9 311.9 277.6 315.4 286.6 319.0 292.7 322.5 311.5 326.1 321.9 329.6 342.3 333.2 358.9 336.7 370.6 340.3 383.3 343.9 392.8 347.4 409.0 351.0 428.4 354.5 469.8 358.1 64.1 361.6 84.7 365.2 99.5 368.7 104.1 372.3 116.1 375.8 132.3 379.4 141.8 382.9 149.1 386.5 158.8 390.0 171.5 393.6 190.0 397.2 194.3 400.7 215.3 404.3 224.5 407.8 245.1 411.4 247.7 414.9 267.2 418.5 281.3 422.0 289.6 425.6 300.8 429.1 308.5 432.7 317.7 436.2 334.8 439.8 354.4 443.4 365.9 446.9 378.9"/><path d="M95.1 261.5 98.6 277.7 102.2 292.8 105.8 306.5 109.3 323.1 112.9 331.3 116.4 347.4 120.0 361.0 123.5 378.0 127.1 392.0 130.6 399.7 134.2 419.7 137.7 431.8 141.3 445.1 144.8 67.9 148.4 85.6 152.0 97.5 155.5 106.3 159.1 117.7 162.6 135.2 166.2 152.3 169.7 166.2 173.3 176.0 176.8 198.9 180.4 207.4 183.9 222.8 187.5 226.0 191.0 235.3 194.6 250.5 198.1 266.3 201.7 280.6 205.3 293.1 208.8 306.2 212.4 319.3 215.9 333.0 219.5 353.2 223.0 367.3 226.6 380.4 230.1 393.9 233.7 405.6 237.2 424.7 240.8 437.6 244.3 60.2 247.9 69.7 251.5 84.9 255.0 94.4 258.6 108.3 262.1 115.2 265.7 127.0 269.2 142.4 272.8 151.9 276.3 175.7 279.9 180.8 283.4 188.3 287.0 194.2 290.5 205.7 294.1 219.8 297.7 225.6 301.2 245.4 304.8 266.9 308.3 282.6 311.9 298.2 315.4 321.1 319.0 338.9 322.5 347.4 326.1 354.1 329.6 369.8 333.2 387.6 336.7 398.5 340.3 418.0 343.9 425.8 347.4 429.3 351.0 59.4 354.5 74.9 358.1 81.5 361.6 99.2 365.2 118.9 368.7 140.3 372.3 155.0 375.8 180.3 379.4 185.3 382.9 194.0 386.5 208.1 390.0 213.8 393.6 231.7 397.2 240.2 400.7 250.2 404.3 261.2 407.8 264.1 411.4 274.5 414.9 289.4 418.5 300.6 422.0 321.6 425.6 333.1 429.1 345.1 432.7 359.8 436.2 371.4 439.8 381.0 443.4 388.1 446.9 409.0"/><path d="M95.1 261.5 98.6 278.1 102.2 292.0 105.8 305.5 109.3 317.9 112.9 329.0 116.4 344.8 120.0 353.2 123.5 362.9 127.1 371.2 130.6 381.0 134.2 392.4 137.7 414.6 141.3 431.8 144.8 62.3 148.4 73.1 152.0 87.7 155.5 91.4 159.1 101.2 162.6 108.8 166.2 127.6 169.7 135.7 173.3 148.3 176.8 150.9 180.4 170.8 183.9 184.4 187.5 197.6 191.0 205.7 194.6 217.8 198.1 228.7 201.7 243.3 205.3 255.0 208.8 260.6 212.4 275.0 215.9 288.8 219.5 301.7 223.0 315.8 226.6 328.3 230.1 348.1 233.7 371.1 237.2 385.7 240.8 400.9 244.3 411.6 247.9 429.3 251.5 446.9 255.0 73.0 258.6 93.2 262.1 103.3 265.7 121.4 269.2 132.1 272.8 151.8 276.3 142.5 279.9 148.2 283.4 172.4 287.0 177.1 290.5 190.0 294.1 202.5 297.7 207.0 301.2 224.8 304.8 238.2 308.3 243.3 311.9 267.0 315.4 275.0 319.0 283.3 322.5 286.4 326.1 294.5 329.6 309.3 333.2 330.8 336.7 340.9 340.3 354.6 343.9 368.7 347.4 375.4 351.0 389.1 354.5 408.6 358.1 424.1 361.6 439.2 365.2 62.2 368.7 81.0 372.3 95.8 375.8 99.7 379.4 119.0 382.9 131.0 386.5 143.2 390.0 162.3 393.6 179.0 397.2 189.9 400.7 211.9 404.3 218.9 407.8 229.3 411.4 250.0 414.9 261.5 418.5 276.1 422.0 286.3 425.6 291.7 429.1 303.0 432.7 322.3 436.2 332.6 439.8 349.9 443.4 364.8 446.9 389.6"/><path d="M95.1 261.5 98.6 276.3 102.2 288.9 105.8 305.6 109.3 318.2 112.9 327.5 116.4 344.2 120.0 360.1 123.5 366.8 127.1 376.3 130.6 391.9 134.2 414.3 137.7 434.9 141.3 66.6 144.8 78.3 148.4 91.8 152.0 105.0 155.5 121.0 159.1 129.4 162.6 141.9 166.2 155.7 169.7 165.3 173.3 179.7 176.8 192.0 180.4 202.9 183.9 206.0 187.5 217.4 191.0 229.5 194.6 245.4 198.1 259.9 201.7 268.7 205.3 276.1 208.8 294.9 212.4 314.1 215.9 326.1 219.5 336.0 223.0 351.5 226.6 372.5 230.1 384.9 233.7 393.1 237.2 412.8 240.8 424.3 244.3 448.6 247.9 62.5 251.5 72.3 255.0 83.7 258.6 102.8 262.1 110.4 265.7 129.2 269.2 139.6 272.8 149.4 276.3 154.0 279.9 156.2 283.4 168.1 287.0 179.3 290.5 194.2 294.1 200.7 297.7 207.0 301.2 220.8 304.8 232.9 308.3 246.7 311.9 262.3 315.4 270.4 319.0 284.5 322.5 291.9 326.1 303.6 329.6 319.6 333.2 333.1 336.7 347.9 340.3 358.2 343.9 364.9 347.4 381.9 351.0 398.0 354.5 408.8 358.1 413.4 361.6 426.8 365.2 463.4 368.7 68.4 372.3 84.5 375.8 100.4 379.4 121.4 382.9 134.2 386.5 146.4 390.0 159.8 393.6 175.7 397.2 195.5 400.7 194.8 404.3 212.1 407.8 221.9 411.4 241.4 414.9 255.1 418.5 260.4 422.0 279.3 425.6 285.3 429.1 293.1 432.7 310.5 436.2 316.0 439.8 338.1 443.4 346.3 446.9 352.6"/><path d="M95.1 261.5 98.6 278.5 102.2 290.1 105.8 306.0 109.3 318.2 112.9 323.0 116.4 335.5 120.0 350.6 123.5 363.4 127.1 368.6 130.6 382.1 134.2 401.9 137.7 409.6 141.3 424.2 144.8 448.9 148.4 55.5 152.0 78.5 155.5 86.3 159.1 101.1 162.6 115.4 166.2 128.2 169.7 145.6 173.3 159.7 176.8 170.2 180.4 187.8 183.9 201.7 187.5 218.8 191.0 232.1 194.6 251.2 198.1 272.4 201.7 284.1 205.3 297.2 208.8 312.6 212.4 322.8 215.9 335.6 219.5 346.8 223.0 361.9 226.6 374.0 230.1 386.4 233.7 392.1 237.2 408.1 240.8 430.5 244.3 54.9 247.9 70.0 251.5 82.0 255.0 95.4 258.6 106.1 262.1 116.3 265.7 125.7 269.2 139.1 272.8 149.7 276.3 169.8 279.9 188.7 283.4 195.8 287.0 207.7 290.5 217.7 294.1 229.1 297.7 238.6 301.2 251.5 304.8 268.6 308.3 279.8 311.9 281.7 315.4 304.0 319.0 327.2 322.5 348.0 326.1 369.0 329.6 392.3 333.2 409.7 336.7 408.2 340.3 420.9 343.9 442.2 347.4 69.5 351.0 87.4 354.5 99.8 358.1 106.5 361.6 105.7 365.2 119.2 368.7 129.1 372.3 150.0 375.8 148.7 379.4 160.0 382.9 170.9 386.5 180.9 390.0 197.2 393.6 192.9 397.2 220.9 400.7 234.9 404.3 246.3 407.8 261.4 411.4 280.4 414.9 282.4 418.5 289.5 422.0 306.7 425.6 314.3 429.1 319.6 432.7 337.6 436.2 346.6 439.8 360.2 443.4 366.1 446.9 386.4"/><path d="M95.1 261.5 98.6 276.3 102.2 288.3 105.8 302.7 109.3 315.9 112.9 330.5 116.4 344.6 120.0 354.7 123.5 357.9 127.1 373.9 130.6 386.4 134.2 402.2 137.7 418.6 141.3 456.3 144.8 60.7 148.4 81.8 152.0 99.5 155.5 112.4 159.1 131.0 162.6 142.9 166.2 159.0 169.7 172.7 173.3 183.8 176.8 192.2 180.4 205.8 183.9 217.3 187.5 229.6 191.0 247.6 194.6 254.9 198.1 268.2 201.7 275.5 205.3 282.7 208.8 293.9 212.4 303.5 215.9 322.6 219.5 330.4 223.0 347.5 226.6 360.9 230.1 378.1 233.7 388.3 237.2 398.4 240.8 408.4 244.3 417.6 247.9 445.0 251.5 69.0 255.0 84.0 258.6 101.6 262.1 116.7 265.7 129.3 269.2 132.5 272.8 149.3 276.3 153.3 279.9 166.0 283.4 173.5 287.0 176.0 290.5 192.2 294.1 204.6 297.7 222.1 301.2 233.2 304.8 249.6 308.3 262.8 311.9 271.4 315.4 283.6 319.0 308.3 322.5 318.2 326.1 344.5 329.6 364.4 333.2 385.6 336.7 396.7 340.3 403.8 343.9 405.6 347.4 410.7 351.0 419.6 354.5 451.4 358.1 62.5 361.6 73.8 365.2 81.0 368.7 91.9 372.3 105.2 375.8 116.0 379.4 128.0 382.9 140.6 386.5 156.6 390.0 155.7 393.6 169.9 397.2 194.1 400.7 207.3 404.3 214.0 407.8 219.7 411.4 232.3 414.9 243.4 418.5 257.0 422.0 268.9 425.6 288.6 429.1 295.8 432.7 304.8 436.2 303.0 439.8 312.3 443.4 330.8 446.9 352.4"/><path d="M95.1 261.5 98.6 276.8 102.2 291.9 105.8 300.7 109.3 315.8 112.9 326.0 116.4 332.2 120.0 347.1 123.5 358.2 127.1 375.3 130.6 387.2 134.2 408.7 137.7 426.3 141.3 449.5 144.8 73.7 148.4 85.7 152.0 99.1 155.5 104.6 159.1 118.6 162.6 131.1 166.2 145.3 169.7 156.1 173.3 170.2 176.8 187.0 180.4 198.0 183.9 208.6 187.5 223.4 191.0 240.7 194.6 253.8 198.1 270.3 201.7 276.2 205.3 286.8 208.8 301.9 212.4 316.0 215.9 322.8 219.5 338.5 223.0 356.1 226.6 369.9 230.1 383.4 233.7 395.6 237.2 409.5 240.8 421.5 244.3 447.0 247.9 65.3 251.5 81.5 255.0 98.3 258.6 108.8 262.1 119.2 265.7 130.6 269.2 143.5 272.8 151.0 276.3 157.2 279.9 171.7 283.4 192.3 287.0 211.8 290.5 217.4 294.1 244.3 297.7 255.3 301.2 260.7 304.8 261.9 308.3 268.2 311.9 280.3 315.4 283.2 319.0 295.4 322.5 295.0 326.1 315.7 329.6 325.2 333.2 332.8 336.7 355.6 340.3 359.8 343.9 380.3 347.4 393.6 351.0 408.3 354.5 421.1 358.1 425.8 361.6 436.8 365.2 69.4 368.7 73.0 372.3 95.0 375.8 109.2 379.4 122.1 382.9 137.7 386.5 155.1 390.0 173.6 393.6 175.7 397.2 187.8 400.7 198.1 404.3 209.9 407.8 227.2 411.4 248.0 414.9 260.9 418.5 252.0 422.0 272.5 425.6 277.9 429.1 295.2 432.7 301.7 436.2 305.3 439.8 325.9 443.4 336.4 446.9 352.3"/><path d="M95.1 261.5 98.6 277.1 102.2 288.2 105.8 303.3 109.3 314.0 112.9 329.6 116.4 345.1 120.0 360.3 123.5 371.5 127.1 387.0 130.6 406.5 134.2 419.7 137.7 448.9 141.3 61.5 144.8 78.3 148.4 82.0 152.0 97.2 155.5 109.2 159.1 124.9 162.6 141.4 166.2 150.9 169.7 162.0 173.3 168.5 176.8 181.8 180.4 195.8 183.9 205.9 187.5 214.4 191.0 230.8 194.6 243.6 198.1 256.1 201.7 269.6 205.3 283.6 208.8 297.6 212.4 309.8 215.9 316.5 219.5 329.6 223.0 346.4 226.6 353.0 230.1 362.5 233.7 380.2 237.2 392.5 240.8 405.7 244.3 423.6 247.9 428.7 251.5 445.4 255.0 74.6 258.6 90.3 262.1 102.5 265.7 112.9 269.2 133.8 272.8 148.2 276.3 158.9 279.9 165.2 283.4 182.3 287.0 184.7 290.5 196.1 294.1 198.8 297.7 220.3 301.2 239.7 304.8 246.1 308.3 252.8 311.9 273.4 315.4 281.4 319.0 289.8 322.5 299.8 326.1 308.8 329.6 315.9 333.2 331.9 336.7 343.6 340.3 364.5 343.9 372.5 347.4 391.1 351.0 399.3 354.5 417.1 358.1 453.9 361.6 59.7 365.2 69.2 368.7 83.2 372.3 104.9 375.8 111.3 379.4 125.1 382.9 139.9 386.5 147.6 390.0 160.1 393.6 172.1 397.2 187.9 400.7 190.7 404.3 193.4 407.8 209.1 411.4 216.0 414.9 236.4 418.5 257.5 422.0 270.7 425.6 289.2 429.1 299.0 432.7 315.6 436.2 330.5 439.8 347.9 443.4 351.5 446.9 367.8"/><path d="M95.1 261.5 98.6 278.3 102.2 291.4 105.8 307.7 109.3 317.9 112.9 330.1 116.4 341.9 120.0 359.1 123.5 374.6 127.1 393.4 130.6 413.3 134.2 426.1 137.7 441.3 141.3 69.8 144.8 77.3 148.4 91.6 152.0 105.5 155.5 110.9 159.1 120.9 162.6 133.8 166.2 143.6 169.7 164.3 173.3 175.4 176.8 188.6 180.4 206.8 183.9 225.2 187.5 235.2 191.0 248.5 194.6 254.7 198.1 262.3 201.7 272.7 205.3 287.2 208.8 301.9 212.4 315.6 215.9 325.9 219.5 340.5 223.0 353.6 226.6 368.4 230.1 383.2 233.7 391.9 237.2 407.0 240.8 416.2 244.3 457.6 247.9 63.4 251.5 79.2 255.0 87.2 258.6 95.5 262.1 111.9 265.7 123.1 269.2 133.2 272.8 148.3 276.3 162.5 279.9 178.3 283.4 198.7 287.0 207.3 290.5 221.9 294.1 225.3 297.7 234.4 301.2 246.5 304.8 256.1 308.3 277.6 311.9 285.5 315.4 293.6 319.0 308.3 322.5 325.3 326.1 327.6 329.6 347.3 333.2 358.0 336.7 369.5 340.3 378.7 343.9 392.5 347.4 409.5 351.0 427.6 354.5 445.2 358.1 65.9 361.6 91.4 365.2 102.8 368.7 124.2 372.3 134.2 375.8 144.0 379.4 147.3 382.9 175.4 386.5 189.7 390.0 204.0 393.6 210.7 397.2 217.9 400.7 232.7 404.3 245.1 407.8 269.1 411.4 282.3 414.9 294.8 418.5 304.1 422.0 318.2 425.6 332.8 429.1 340.3 432.7 355.3 436.2 362.0 439.8 373.3 443.4 384.8 446.9 396.6"/><path d="M95.1 261.5 98.6 275.7 102.2 289.2 105.8 300.4 109.3 313.6 112.9 329.7 116.4 336.5 120.0 348.2 123.5 355.0 127.1 362.8 130.6 379.0 134.2 392.8 137.7 405.5 141.3 420.7 144.8 426.8 148.4 443.4 152.0 56.3 155.5 78.2 159.1 97.7 162.6 117.0 166.2 129.9 169.7 140.1 173.3 150.0 176.8 160.1 180.4 177.4 183.9 194.2 187.5 215.4 191.0 225.7 194.6 234.5 198.1 245.9 201.7 256.4 205.3 267.1 208.8 276.5 212.4 299.3 215.9 307.3 219.5 318.1 223.0 332.8 226.6 342.2 230.1 358.4 233.7 372.5 237.2 386.5 240.8 402.1 244.3 421.4 247.9 442.4 251.5 67.1 255.0 81.0 258.6 98.3 262.1 112.4 265.7 122.5 269.2 134.2 272.8 149.6 276.3 169.0 279.9 172.9 283.4 198.3 287.0 207.7 290.5 231.7 294.1 250.4 297.7 257.9 301.2 258.8 304.8 272.2 308.3 292.7 311.9 306.0 315.4 308.8 319.0 316.3 322.5 318.1 326.1 328.4 329.6 337.3 333.2 345.0 336.7 353.8 340.3 371.1 343.9 383.4 347.4 398.6 351.0 411.9 354.5 405.0 358.1 412.4 361.6 418.3 365.2 442.6 368.7 64.6 372.3 73.8 375.8 86.1 379.4 99.2 382.9 116.8 386.5 126.6 390.0 141.6 393.6 160.5 397.2 175.7 400.7 192.6 404.3 203.8 407.8 217.3 411.4 213.5 414.9 232.6 418.5 240.7 422.0 252.6 425.6 268.3 429.1 282.8 432.7 293.3 436.2 298.6 439.8 312.4 443.4 311.5 446.9 321.1"/><path d="M95.1 261.5 98.6 277.4 102.2 290.8 105.8 306.9 109.3 316.9 112.9 329.8 116.4 343.0 120.0 352.1 123.5 368.4 127.1 384.9 130.6 403.6 134.2 421.7 137.7 453.7 141.3 62.1 144.8 75.8 148.4 77.9 152.0 89.9 155.5 108.1 159.1 121.2 162.6 135.6 166.2 148.2 169.7 169.6 173.3 185.8 176.8 201.4 180.4 211.1 183.9 223.1 187.5 225.4 191.0 232.8 194.6 244.3 198.1 260.5 201.7 275.6 205.3 291.5 208.8 307.8 212.4 325.0 215.9 337.3 219.5 356.1 223.0 361.3 226.6 373.3 230.1 385.3 233.7 396.2 237.2 408.0 240.8 413.8 244.3 432.5 247.9 61.1 251.5 83.1 255.0 87.1 258.6 103.8 262.1 113.1 265.7 119.8 269.2 130.7 272.8 149.0 276.3 156.0 279.9 172.7 283.4 185.1 287.0 193.5 290.5 217.1 294.1 226.4 297.7 234.6 301.2 234.9 304.8 251.5 308.3 269.6 311.9 284.3 315.4 288.2 319.0 293.4 322.5 312.9 326.1 327.9 329.6 343.6 333.2 355.6 336.7 371.0 340.3 384.7 343.9 390.9 347.4 418.3 351.0 457.7 354.5 72.9 358.1 85.3 361.6 98.9 365.2 107.1 368.7 116.6 372.3 132.5 375.8 148.3 379.4 167.0 382.9 178.4 386.5 190.5 390.0 195.8 393.6 208.4 397.2 227.7 400.7 239.9 404.3 245.3 407.8 248.3 411.4 254.7 414.9 264.4 418.5 281.5 422.0 301.0 425.6 307.6 429.1 324.1 432.7 329.7 436.2 337.6 439.8 352.8 443.4 365.9 446.9 376.1"/><path d="M95.1 261.5 98.6 276.4 102.2 289.9 105.8 302.9 109.3 320.0 112.9 331.7 116.4 346.3 120.0 356.8 123.5 372.0 127.1 380.8 130.6 391.0 134.2 403.3 137.7 418.4 141.3 438.9 144.8 59.4 148.4 81.1 152.0 93.7 155.5 99.4 159.1 110.7 162.6 130.1 166.2 138.0 169.7 152.7 173.3 162.4 176.8 177.9 180.4 194.2 183.9 203.2 187.5 217.1 191.0 230.3 194.6 247.2 198.1 263.1 201.7 276.4 205.3 280.6 208.8 292.9 212.4 307.1 215.9 315.2 219.5 322.0 223.0 337.4 226.6 356.9 230.1 371.8 233.7 394.4 237.2 411.0 240.8 423.8 244.3 441.3 247.9 60.7 251.5 75.4 255.0 85.9 258.6 101.5 262.1 109.8 265.7 126.4 269.2 136.8 272.8 151.4 276.3 161.1 279.9 180.1 283.4 193.8 287.0 215.3 290.5 224.4 294.1 233.3 297.7 253.3 301.2 268.6 304.8 280.7 308.3 295.1 311.9 310.6 315.4 319.5 319.0 338.5 322.5 351.4 326.1 363.4 329.6 374.0 333.2 392.6 336.7 403.0 340.3 411.1 343.9 416.1 347.4 431.3 351.0 437.1 354.5 72.5 358.1 86.4 361.6 102.6 365.2 121.1 368.7 132.4 372.3 148.8 375.8 158.8 379.4 165.8 382.9 169.1 386.5 182.0 390.0 190.7 393.6 189.4 397.2 211.1 400.7 220.9 404.3 242.4 407.8 257.8 411.4 268.9 414.9 284.1 418.5 298.5 422.0 318.1 425.6 322.0 429.1 332.4 432.7 343.9 436.2 364.7 439.8 376.8 443.4 390.1 446.9 396.2"/><path d="M95.1 261.5 98.6 276.1 102.2 287.0 105.8 300.6 109.3 315.8 112.9 326.2 116.4 340.4 120.0 350.8 123.5 365.1 127.1 374.9 130.6 390.1 134.2 402.3 137.7 408.2 141.3 417.7 144.8 446.9 148.4 65.6 152.0 82.8 155.5 99.0 159.1 107.8 162.6 116.4 166.2 132.1 169.7 145.6 173.3 163.7 176.8 178.2 180.4 200.9 183.9 202.1 187.5 213.7 191.0 225.7 194.6 236.8 198.1 253.9 201.7 266.2 205.3 280.8 208.8 293.0 212.4 306.4 215.9 317.5 219.5 330.9 223.0 348.8 226.6 365.3 230.1 376.9 233.7 387.8 237.2 396.6 240.8 414.6 244.3 426.1 247.9 450.1 251.5 73.7 255.0 87.7 258.6 102.3 262.1 115.5 265.7 131.6 269.2 142.4 272.8 151.0 276.3 144.5 279.9 171.1 283.4 181.9 287.0 181.6 290.5 190.4 294.1 199.9 297.7 204.0 301.2 212.9 304.8 223.0 308.3 226.7 311.9 239.4 315.4 242.7 319.0 253.8 322.5 263.7 326.1 271.5 329.6 278.6 333.2 293.1 336.7 315.3 340.3 319.1 343.9 326.7 347.4 331.0 351.0 334.5 354.5 352.1 358.1 371.2 361.6 390.6 365.2 395.8 368.7 404.9 372.3 417.3 375.8 436.9 379.4 65.5 382.9 90.7 386.5 103.5 390.0 119.5 393.6 129.7 397.2 148.0 400.7 167.7 404.3 180.8 407.8 184.5 411.4 199.1 414.9 220.6 418.5 225.5 422.0 230.8 425.6 239.1 429.1 256.0 432.7 266.9 436.2 277.6 439.8 288.6 443.4 302.1 446.9 308.2"/><path d="M95.1 261.5 98.6 276.4 102.2 289.3 105.8 300.2 109.3 311.9 112.9 328.5 116.4 340.0 120.0 351.8 123.5 363.1 127.1 370.1 130.6 379.1 134.2 391.8 137.7 403.8 141.3 422.7 144.8 447.4 148.4 74.0 152.0 92.8 155.5 109.7 159.1 123.5 162.6 136.8 166.2 148.9 169.7 165.0 173.3 178.3 176.8 195.0 180.4 203.0 183.9 211.6 187.5 230.2 191.0 239.0 194.6 256.6 198.1 273.0 201.7 289.1 205.3 307.1 208.8 318.9 212.4 329.8 215.9 346.8 219.5 352.8 223.0 366.4 226.6 386.7 230.1 391.9 233.7 407.7 237.2 424.1 240.8 436.5 244.3 60.8 247.9 71.6 251.5 85.3 255.0 100.0 258.6 114.5 262.1 123.3 265.7 129.9 269.2 137.0 272.8 150.2 276.3 175.1 279.9 187.0 283.4 196.6 287.0 208.0 290.5 211.8 294.1 215.6 297.7 230.6 301.2 263.8 304.8 280.8 308.3 284.6 311.9 303.0 315.4 320.5 319.0 327.2 322.5 334.2 326.1 354.3 329.6 365.9 333.2 383.9 336.7 398.8 340.3 410.0 343.9 418.9 347.4 439.9 351.0 57.2 354.5 78.7 358.1 98.6 361.6 122.8 365.2 133.8 368.7 149.4 372.3 161.3 375.8 185.2 379.4 209.0 382.9 231.1 386.5 243.5 390.0 258.6 393.6 264.3 397.2 271.7 400.7 271.0 404.3 293.5 407.8 313.4 411.4 318.5 414.9 328.0 418.5 339.9 422.0 358.3 425.6 364.7 429.1 372.6 432.7 384.1 436.2 402.7 439.8 408.8 443.4 425.6 446.9 432.1"/><path d="M95.1 261.5 98.6 277.0 102.2 290.1 105.8 304.8 109.3 316.2 112.9 327.9 116.4 343.1 120.0 358.6 123.5 363.2 127.1 386.5 130.6 398.0 134.2 412.2 137.7 423.9 141.3 431.5 144.8 443.6 148.4 73.8 152.0 85.8 155.5 98.0 159.1 113.5 162.6 127.2 166.2 142.0 169.7 150.9 173.3 166.9 176.8 175.7 180.4 189.8 183.9 217.2 187.5 238.5 191.0 253.1 194.6 269.1 198.1 277.9 201.7 286.8 205.3 299.9 208.8 313.4 212.4 328.3 215.9 341.1 219.5 356.7 223.0 367.3 226.6 375.4 230.1 380.9 233.7 397.7 237.2 399.5 240.8 414.5 244.3 420.1 247.9 457.7 251.5 60.5 255.0 73.4 258.6 90.9 262.1 107.0 265.7 130.0 269.2 139.1 272.8 150.6 276.3 156.9 279.9 165.4 283.4 190.6 287.0 199.1 290.5 220.1 294.1 225.0 297.7 236.0 301.2 250.2 304.8 263.9 308.3 271.2 311.9 288.9 315.4 295.2 319.0 311.4 322.5 331.5 326.1 339.4 329.6 348.5 333.2 353.5 336.7 366.7 340.3 384.4 343.9 407.6 347.4 410.6 351.0 420.7 354.5 432.9 358.1 443.3 361.6 65.7 365.2 79.3 368.7 98.0 372.3 112.2 375.8 114.2 379.4 139.3 382.9 133.7 386.5 146.1 390.0 152.7 393.6 162.5 397.2 162.4 400.7 166.6 404.3 178.0 407.8 192.9 411.4 207.5 414.9 229.2 418.5 243.2 422.0 247.9 425.6 255.4 429.1 267.2 432.7 281.4 436.2 292.9 439.8 299.8 443.4 315.2 446.9 333.8"/><path d="M95.1 261.5 98.6 281.4 102.2 293.9 105.8 308.8 109.3 315.5 112.9 337.6 116.4 349.9 120.0 352.7 123.5 374.2 127.1 386.4 130.6 402.0 134.2 410.7 137.7 426.0 141.3 61.6 144.8 80.8 148.4 93.1 152.0 101.7 155.5 116.6 159.1 127.2 162.6 140.8 166.2 160.3 169.7 171.2 173.3 187.3 176.8 197.8 180.4 209.9 183.9 226.6 187.5 231.9 191.0 244.0 194.6 259.7 198.1 269.5 201.7 278.5 205.3 301.0 208.8 311.5 212.4 319.1 215.9 333.4 219.5 343.8 223.0 356.9 226.6 370.8 230.1 389.3 233.7 407.7 237.2 418.6 240.8 438.6 244.3 67.2 247.9 82.5 251.5 97.6 255.0 104.9 258.6 120.3 262.1 135.7 265.7 143.6 269.2 152.8 272.8 163.1 276.3 171.4 279.9 191.6 283.4 210.7 287.0 215.6 290.5 228.0 294.1 240.6 297.7 252.6 301.2 267.8 304.8 278.9 308.3 292.2 311.9 296.9 315.4 293.8 319.0 300.5 322.5 318.5 326.1 331.5 329.6 342.7 333.2 352.2 336.7 369.9 340.3 386.3 343.9 400.1 347.4 414.3 351.0 426.9 354.5 438.0 358.1 67.9 361.6 89.8 365.2 101.3 368.7 118.1 372.3 125.7 375.8 141.7 379.4 158.3 382.9 164.0 386.5 189.0 390.0 195.7 393.6 214.4 397.2 231.8 400.7 243.0 404.3 245.5 407.8 259.3 411.4 271.2 414.9 282.1 418.5 294.2 422.0 300.8 425.6 313.2 429.1 319.3 432.7 328.7 436.2 347.3 439.8 357.1 443.4 372.1 446.9 387.0"/><path d="M95.1 261.5 98.6 278.0 102.2 290.2 105.8 303.7 109.3 317.1 112.9 329.8 116.4 341.7 120.0 358.8 123.5 377.7 127.1 399.0 130.6 410.0 134.2 421.8 137.7 436.3 141.3 60.9 144.8 72.6 148.4 84.8 152.0 98.7 155.5 112.8 159.1 121.4 162.6 130.5 166.2 147.5 169.7 164.3 173.3 175.6 176.8 187.4 180.4 201.9 183.9 210.9 187.5 229.3 191.0 241.5 194.6 259.1 198.1 279.1 201.7 292.8 205.3 302.2 208.8 320.1 212.4 338.7 215.9 343.7 219.5 360.0 223.0 374.4 226.6 390.2 230.1 407.8 233.7 416.2 237.2 426.6 240.8 442.3 244.3 68.9 247.9 86.5 251.5 96.9 255.0 106.1 258.6 116.2 262.1 126.7 265.7 136.6 269.2 150.4 272.8 164.5 276.3 178.9 279.9 186.2 283.4 200.1 287.0 219.8 290.5 241.8 294.1 248.6 297.7 248.2 301.2 251.1 304.8 263.4 308.3 281.1 311.9 289.1 315.4 289.9 319.0 302.3 322.5 306.8 326.1 309.0 329.6 327.0 333.2 332.3 336.7 344.7 340.3 350.7 343.9 353.3 347.4 366.6 351.0 378.0 354.5 387.6 358.1 399.1 361.6 408.9 365.2 419.8 368.7 420.9 372.3 441.9 375.8 66.7 379.4 76.8 382.9 85.6 386.5 101.3 390.0 108.6 393.6 127.2 397.2 137.9 400.7 152.6 404.3 171.3 407.8 182.4 411.4 198.7 414.9 206.5 418.5 221.1 422.0 233.0 425.6 234.2 429.1 248.9 432.7 260.8 436.2 286.5 439.8 297.8 443.4 309.8 446.9 316.5"/><path d="M95.1 261.5 98.6 281.3 102.2 295.1 105.8 306.5 109.3 317.1 112.9 332.0 116.4 340.1 120.0 354.2 123.5 363.2 127.1 379.6 130.6 386.3 134.2 405.8 137.7 423.4 141.3 462.5 144.8 81.2 148.4 93.7 152.0 107.5 155.5 113.6 159.1 132.6 162.6 141.0 166.2 153.5 169.7 175.4 173.3 187.1 176.8 196.6 180.4 211.4 183.9 220.1 187.5 236.3 191.0 245.8 194.6 253.1 198.1 272.6 201.7 289.4 205.3 303.9 208.8 310.3 212.4 319.9 215.9 329.2 219.5 342.6 223.0 357.1 226.6 367.5 230.1 383.0 233.7 392.8 237.2 400.7 240.8 424.1 244.3 443.6 247.9 67.4 251.5 89.1 255.0 99.9 258.6 117.4 262.1 133.3 265.7 141.5 269.2 157.8 272.8 166.8 276.3 179.2 279.9 186.5 283.4 192.2 287.0 200.5 290.5 201.7 294.1 217.5 297.7 240.8 301.2 256.4 304.8 260.9 308.3 285.5 311.9 291.7 315.4 303.1 319.0 308.3 322.5 324.3 326.1 329.0 329.6 336.3 333.2 349.4 336.7 371.7 340.3 387.7 343.9 397.9 347.4 403.5 351.0 410.2 354.5 425.2 358.1 444.5 361.6 72.8 365.2 81.8 368.7 95.1 372.3 102.6 375.8 117.2 379.4 120.1 382.9 143.6 386.5 152.0 390.0 156.7 393.6 157.5 397.2 177.9 400.7 197.6 404.3 208.0 407.8 212.8 411.4 230.4 414.9 239.6 418.5 243.8 422.0 266.3 425.6 278.0 429.1 281.4 432.7 297.6 436.2 317.6 439.8 326.2 443.4 343.6 446.9 349.0"/><path d="M95.1 261.5 98.6 278.9 102.2 290.9 105.8 301.4 109.3 316.7 112.9 332.8 116.4 344.9 120.0 357.4 123.5 369.8 127.1 384.3 130.6 395.9 134.2 411.4 137.7 432.2 141.3 64.0 144.8 81.3 148.4 88.8 152.0 99.9 155.5 116.4 159.1 137.8 162.6 144.8 166.2 155.8 169.7 167.4 173.3 176.0 176.8 196.7 180.4 206.7 183.9 216.8 187.5 237.2 191.0 254.6 194.6 268.4 198.1 284.8 201.7 301.1 205.3 305.4 208.8 317.0 212.4 332.0 215.9 346.7 219.5 363.0 223.0 374.9 226.6 390.1 230.1 395.0 233.7 408.4 237.2 423.1 240.8 437.2 244.3 61.5 247.9 78.5 251.5 88.6 255.0 94.9 258.6 108.5 262.1 115.8 265.7 131.5 269.2 137.1 272.8 154.5 276.3 154.0 279.9 165.3 283.4 180.9 287.0 182.9 290.5 191.2 294.1 211.4 297.7 225.7 301.2 237.8 304.8 242.1 308.3 256.4 311.9 263.3 315.4 281.6 319.0 300.3 322.5 303.3 326.1 326.9 329.6 333.5 333.2 341.5 336.7 356.8 340.3 366.9 343.9 383.2 347.4 393.4 351.0 398.3 354.5 408.2 358.1 411.6 361.6 429.1 365.2 444.7 368.7 65.7 372.3 76.6 375.8 87.0 379.4 101.6 382.9 108.6 386.5 125.5 390.0 138.3 393.6 147.8 397.2 163.6 400.7 172.0 404.3 184.3 407.8 195.9 411.4 216.8 414.9 227.6 418.5 238.5 422.0 247.7 425.6 265.3 429.1 283.3 432.7 297.1 436.2 316.5 439.8 331.3 443.4 340.7 446.9 337.4"/><path d="M95.1 261.5 98.6 282.8 102.2 297.7 105.8 313.1 109.3 326.6 112.9 345.7 116.4 355.1 120.0 369.6 123.5 375.9 127.1 390.3 130.6 403.4 134.2 418.1 137.7 447.2 141.3 63.9 144.8 87.1 148.4 95.0 152.0 107.3 155.5 122.6 159.1 126.8 162.6 142.9 166.2 155.0 169.7 160.6 173.3 180.3 176.8 196.6 180.4 213.9 183.9 226.2 187.5 245.7 191.0 258.2 194.6 275.3 198.1 282.2 201.7 297.3 205.3 310.6 208.8 320.3 212.4 331.8 215.9 340.9 219.5 351.3 223.0 365.4 226.6 372.9 230.1 388.3 233.7 407.0 237.2 422.1 240.8 435.9 244.3 67.9 247.9 76.5 251.5 91.1 255.0 102.4 258.6 120.5 262.1 130.3 265.7 141.6 269.2 151.6 272.8 162.1 276.3 162.4 279.9 174.3 283.4 198.3 287.0 213.3 290.5 221.8 294.1 234.9 297.7 253.7 301.2 251.0 304.8 257.6 308.3 270.4 311.9 281.1 315.4 294.3 319.0 309.8 322.5 305.9 326.1 308.8 329.6 317.7 333.2 334.6 336.7 346.7 340.3 359.2 343.9 378.7 347.4 391.7 351.0 413.8 354.5 433.8 358.1 64.0 361.6 87.6 365.2 104.0 368.7 108.5 372.3 126.8 375.8 136.1 379.4 149.7 382.9 156.2 386.5 174.1 390.0 186.6 393.6 200.0 397.2 221.0 400.7 230.5 404.3 231.9 407.8 252.7 411.4 263.5 414.9 273.6 418.5 287.0 422.0 303.6 425.6 308.2 429.1 327.1 432.7 337.3 436.2 350.2 439.8 369.2 443.4 379.6 446.9 395.3"/><path d="M95.1 261.5 98.6 281.0 102.2 294.9 105.8 310.6 109.3 323.0 112.9 336.3 116.4 352.1 120.0 366.7 123.5 382.2 127.1 398.4 130.6 408.9 134.2 417.1 137.7 429.3 141.3 453.6 144.8 61.4 148.4 69.2 152.0 80.8 155.5 98.1 159.1 114.5 162.6 128.1 166.2 138.9 169.7 147.4 173.3 164.0 176.8 180.5 180.4 194.3 183.9 208.9 187.5 223.4 191.0 230.8 194.6 244.9 198.1 261.7 201.7 282.5 205.3 301.9 208.8 308.3 212.4 323.4 215.9 337.2 219.5 352.4 223.0 366.9 226.6 378.0 230.1 389.7 233.7 400.4 237.2 405.3 240.8 420.1 244.3 429.0 247.9 444.0 251.5 76.4 255.0 88.6 258.6 105.8 262.1 118.8 265.7 129.1 269.2 143.4 272.8 154.4 276.3 163.1 279.9 172.2 283.4 188.9 287.0 195.1 290.5 207.7 294.1 219.7 297.7 243.5 301.2 252.6 304.8 262.1 308.3 277.0 311.9 282.8 315.4 288.4 319.0 295.8 322.5 321.0 326.1 332.6 329.6 336.6 333.2 349.3 336.7 366.7 340.3 386.9 343.9 399.5 347.4 412.2 351.0 434.6 354.5 54.4 358.1 461.6 361.6 70.2 365.2 86.0 368.7 92.0 372.3 104.1 375.8 108.0 379.4 127.6 382.9 133.0 386.5 138.3 390.0 143.2 393.6 153.4 397.2 162.5 400.7 171.4 404.3 172.9 407.8 181.8 411.4 197.8 414.9 217.4 418.5 229.8 422.0 236.1 425.6 248.0 429.1 257.3 432.7 274.9 436.2 296.8 439.8 305.5 443.4 321.1 446.9 329.3"/><path d="M95.1 261.5 98.6 276.5 102.2 290.8 105.8 303.2 109.3 314.8 112.9 322.6 116.4 333.8 120.0 345.0 123.5 361.6 127.1 372.5 130.6 383.1 134.2 397.8 137.7 409.2 141.3 434.2 144.8 54.4 148.4 71.9 152.0 78.9 155.5 92.8 159.1 102.2 162.6 115.4 166.2 130.3 169.7 148.4 173.3 159.2 176.8 176.2 180.4 191.2 183.9 202.0 187.5 214.7 191.0 224.4 194.6 237.6 198.1 254.5 201.7 268.0 205.3 284.3 208.8 302.1 212.4 320.2 215.9 335.5 219.5 358.5 223.0 367.2 226.6 383.2 230.1 392.8 233.7 400.5 237.2 418.6 240.8 429.1 244.3 448.2 247.9 71.0 251.5 89.2 255.0 98.2 258.6 108.4 262.1 120.6 265.7 133.8 269.2 141.5 272.8 159.1 276.3 168.9 279.9 187.4 283.4 195.0 287.0 206.2 290.5 214.8 294.1 229.5 297.7 237.3 301.2 253.0 304.8 268.2 308.3 284.7 311.9 296.6 315.4 315.5 319.0 315.4 322.5 325.9 326.1 338.6 329.6 336.0 333.2 341.6 336.7 354.5 340.3 373.5 343.9 393.3 347.4 405.6 351.0 424.1 354.5 443.0 358.1 62.4 361.6 82.0 365.2 92.4 368.7 112.4 372.3 118.7 375.8 129.6 379.4 142.1 382.9 150.4 386.5 165.6 390.0 182.3 393.6 193.1 397.2 204.5 400.7 214.2 404.3 221.0 407.8 233.2 411.4 242.2 414.9 247.7 418.5 256.7 422.0 270.0 425.6 280.7 429.1 284.9 432.7 298.8 436.2 304.6 439.8 305.5 443.4 313.6 446.9 328.9"/><path d="M95.1 261.5 98.6 277.9 102.2 291.9 105.8 305.5 109.3 319.9 112.9 331.7 116.4 348.8 120.0 364.7 123.5 385.7 127.1 403.4 130.6 413.6 134.2 427.8 137.7 444.0 141.3 64.8 144.8 75.4 148.4 85.9 152.0 102.8 155.5 113.0 159.1 132.5 162.6 153.1 166.2 167.1 169.7 172.3 173.3 184.2 176.8 195.0 180.4 203.7 183.9 217.1 187.5 230.2 191.0 244.4 194.6 255.1 198.1 270.9 201.7 287.3 205.3 307.0 208.8 317.8 212.4 328.6 215.9 339.3 219.5 346.6 223.0 360.5 226.6 377.8 230.1 389.2 233.7 399.9 237.2 407.3 240.8 419.4 244.3 438.6 247.9 57.2 251.5 83.5 255.0 99.5 258.6 117.4 262.1 131.4 265.7 146.3 269.2 148.0 272.8 164.6 276.3 178.3 279.9 191.9 283.4 201.7 287.0 219.5 290.5 227.3 294.1 230.0 297.7 231.8 301.2 244.7 304.8 246.7 308.3 268.4 311.9 286.8 315.4 297.0 319.0 299.8 322.5 311.8 326.1 318.5 329.6 321.6 333.2 332.9 336.7 340.5 340.3 346.6 343.9 359.2 347.4 370.5 351.0 378.3 354.5 397.4 358.1 413.2 361.6 411.2 365.2 416.9 368.7 442.4 372.3 63.5 375.8 78.4 379.4 84.2 382.9 86.9 386.5 101.0 390.0 110.0 393.6 124.3 397.2 123.1 400.7 135.0 404.3 148.1 407.8 170.5 411.4 184.4 414.9 186.1 418.5 191.0 422.0 194.3 425.6 211.1 429.1 215.2 432.7 231.7 436.2 244.5 439.8 250.6 443.4 271.9 446.9 284.4"/><path d="M95.1 261.5 98.6 282.0 102.2 296.0 105.8 307.3 109.3 315.3 112.9 329.9 116.4 352.7 120.0 364.9 123.5 379.8 127.1 390.6 130.6 401.1 134.2 411.4 137.7 428.1 141.3 444.2 144.8 69.5 148.4 91.8 152.0 107.4 155.5 117.8 159.1 130.9 162.6 149.0 166.2 167.5 169.7 178.6 173.3 188.6 176.8 200.4 180.4 208.6 183.9 216.4 187.5 231.7 191.0 245.9 194.6 261.3 198.1 276.5 201.7 288.6 205.3 303.6 208.8 319.7 212.4 330.5 215.9 342.5 219.5 350.8 223.0 367.3 226.6 380.9 230.1 383.9 233.7 390.6 237.2 409.1 240.8 421.7 244.3 443.2 247.9 58.8 251.5 78.5 255.0 95.7 258.6 109.7 262.1 127.5 265.7 141.1 269.2 159.7 272.8 166.3 276.3 181.5 279.9 189.0 283.4 204.6 287.0 214.6 290.5 215.6 294.1 225.6 297.7 230.4 301.2 237.8 304.8 251.9 308.3 262.9 311.9 271.5 315.4 286.4 319.0 279.0 322.5 292.4 326.1 297.8 329.6 317.7 333.2 334.6 336.7 358.7 340.3 369.3 343.9 385.6 347.4 385.8 351.0 407.1 354.5 421.1 358.1 438.0 361.6 71.0 365.2 74.9 368.7 81.1 372.3 99.5 375.8 101.5 379.4 110.4 382.9 125.2 386.5 134.3 390.0 145.0 393.6 174.8 397.2 197.9 400.7 207.4 404.3 213.4 407.8 238.8 411.4 247.0 414.9 252.4 418.5 265.8 422.0 274.3 425.6 279.2 429.1 283.1 432.7 288.2 436.2 310.2 439.8 328.9 443.4 346.1 446.9 358.3"/><path d="M95.1 261.5 98.6 282.6 102.2 300.0 105.8 314.8 109.3 326.4 112.9 340.5 116.4 352.0 120.0 365.5 123.5 387.4 127.1 403.4 130.6 412.2 134.2 420.5 137.7 457.5 141.3 73.7 144.8 84.0 148.4 91.4 152.0 110.2 155.5 118.9 159.1 135.6 162.6 150.4 166.2 160.8 169.7 181.7 173.3 199.2 176.8 211.1 180.4 226.4 183.9 242.5 187.5 258.0 191.0 268.2 194.6 286.6 198.1 296.0 201.7 316.8 205.3 334.8 208.8 348.6 212.4 365.1 215.9 384.9 219.5 395.0 223.0 413.4 226.6 421.7 230.1 422.3 233.7 445.0 237.2 73.1 240.8 81.1 244.3 91.1 247.9 100.6 251.5 111.8 255.0 120.5 258.6 124.3 262.1 135.6 265.7 149.0 269.2 157.7 272.8 164.2 276.3 172.9 279.9 189.4 283.4 202.3 287.0 216.5 290.5 237.2 294.1 248.6 297.7 252.7 301.2 269.1 304.8 267.8 308.3 293.0 311.9 291.0 315.4 300.5 319.0 313.7 322.5 327.5 326.1 334.0 329.6 343.0 333.2 359.1 336.7 363.8 340.3 380.8 343.9 393.2 347.4 399.2 351.0 410.3 354.5 416.5 358.1 432.0 361.6 457.5 365.2 63.1 368.7 84.0 372.3 93.8 375.8 103.6 379.4 112.0 382.9 120.1 386.5 122.8 390.0 144.1 393.6 157.6 397.2 179.5 400.7 201.0 404.3 208.3 407.8 217.5 411.4 238.0 414.9 266.6 418.5 273.2 422.0 287.5 425.6 297.4 429.1 314.6 432.7 316.0 436.2 320.6 439.8 329.2 443.4 346.0 446.9 363.1"/><path d="M95.1 261.5 98.6 276.4 102.2 290.0 105.8 303.6 109.3 314.9 112.9 323.1 116.4 335.7 120.0 344.6 123.5 356.8 127.1 366.7 130.6 378.4 134.2 391.0 137.7 393.7 141.3 402.3 144.8 409.0 148.4 423.6 152.0 439.9 155.5 60.6 159.1 76.6 162.6 92.9 166.2 108.8 169.7 121.9 173.3 139.2 176.8 147.9 180.4 157.1 183.9 176.4 187.5 191.2 191.0 209.9 194.6 225.4 198.1 235.5 201.7 248.0 205.3 261.3 208.8 272.7 212.4 289.1 215.9 308.3 219.5 315.7 223.0 334.7 226.6 347.1 230.1 363.3 233.7 377.9 237.2 399.2 240.8 413.4 244.3 426.3 247.9 444.4 251.5 64.4 255.0 78.7 258.6 88.8 262.1 102.6 265.7 117.0 269.2 139.5 272.8 152.7 276.3 162.5 279.9 178.5 283.4 189.5 287.0 205.9 290.5 218.8 294.1 227.0 297.7 239.3 301.2 243.0 304.8 257.0 308.3 266.2 311.9 288.5 315.4 294.1 319.0 308.0 322.5 317.7 326.1 334.1 329.6 352.5 333.2 357.3 336.7 360.6 340.3 375.1 343.9 382.9 347.4 395.9 351.0 407.7 354.5 426.6 358.1 437.4 361.6 450.1 365.2 65.7 368.7 77.7 372.3 98.9 375.8 105.8 379.4 110.9 382.9 125.6 386.5 132.6 390.0 137.8 393.6 143.7 397.2 141.0 400.7 157.3 404.3 170.8 407.8 185.8 411.4 200.3 414.9 209.6 418.5 216.9 422.0 221.1 425.6 231.9 429.1 247.0 432.7 266.0 436.2 278.2 439.8 296.0 443.4 303.1 446.9 309.8"/><path d="M95.1 261.5 98.6 280.7 102.2 293.9 105.8 307.8 109.3 322.2 112.9 337.4 116.4 348.9 120.0 355.5 123.5 371.4 127.1 386.4 130.6 399.1 134.2 404.6 137.7 419.7 141.3 427.9 144.8 438.9 148.4 75.1 152.0 96.0 155.5 110.1 159.1 124.0 162.6 135.8 166.2 156.2 169.7 172.0 173.3 191.1 176.8 201.0 180.4 210.7 183.9 232.0 187.5 255.0 191.0 263.7 194.6 277.0 198.1 285.4 201.7 293.3 205.3 304.4 208.8 313.1 212.4 320.8 215.9 325.4 219.5 339.9 223.0 346.8 226.6 366.2 230.1 378.9 233.7 389.8 237.2 410.1 240.8 470.2 244.3 56.0 247.9 71.1 251.5 82.0 255.0 90.7 258.6 110.1 262.1 122.3 265.7 135.2 269.2 143.0 272.8 157.8 276.3 164.8 279.9 183.0 283.4 199.3 287.0 200.1 290.5 220.4 294.1 231.5 297.7 240.1 301.2 256.0 304.8 276.6 308.3 284.8 311.9 287.2 315.4 296.5 319.0 309.6 322.5 328.2 326.1 342.9 329.6 356.5 333.2 375.3 336.7 384.0 340.3 411.6 343.9 432.4 347.4 457.7 351.0 65.2 354.5 84.7 358.1 97.6 361.6 117.0 365.2 130.4 368.7 137.2 372.3 156.3 375.8 175.2 379.4 185.9 382.9 208.0 386.5 218.3 390.0 230.4 393.6 237.9 397.2 258.6 400.7 269.5 404.3 283.7 407.8 293.2 411.4 311.7 414.9 314.5 418.5 323.8 422.0 342.8 425.6 355.6 429.1 361.4 432.7 377.8 436.2 380.1 439.8 380.4 443.4 385.9 446.9 399.8"/><path d="M95.1 261.5 98.6 277.0 102.2 290.7 105.8 302.5 109.3 319.9 112.9 331.2 116.4 345.6 120.0 355.4 123.5 365.8 127.1 382.7 130.6 390.7 134.2 406.7 137.7 420.7 141.3 446.8 144.8 73.7 148.4 79.7 152.0 97.1 155.5 109.4 159.1 121.3 162.6 141.7 166.2 155.9 169.7 176.4 173.3 185.1 176.8 195.2 180.4 204.6 183.9 214.1 187.5 227.5 191.0 234.9 194.6 250.5 198.1 265.0 201.7 275.4 205.3 288.6 208.8 307.7 212.4 319.3 215.9 331.6 219.5 345.3 223.0 357.9 226.6 364.6 230.1 380.0 233.7 388.1 237.2 407.9 240.8 415.6 244.3 432.8 247.9 59.6 251.5 77.2 255.0 88.2 258.6 96.8 262.1 108.3 265.7 121.4 269.2 139.8 272.8 154.7 276.3 165.4 279.9 164.8 283.4 177.9 287.0 188.7 290.5 199.2 294.1 210.6 297.7 221.4 301.2 235.3 304.8 244.3 308.3 253.1 311.9 262.8 315.4 272.3 319.0 282.7 322.5 296.2 326.1 306.0 329.6 325.7 333.2 333.8 336.7 347.0 340.3 367.0 343.9 387.7 347.4 405.1 351.0 412.4 354.5 430.8 358.1 441.1 361.6 67.2 365.2 75.1 368.7 90.5 372.3 101.8 375.8 112.0 379.4 119.2 382.9 133.6 386.5 136.2 390.0 149.2 393.6 162.3 397.2 172.1 400.7 179.0 404.3 171.1 407.8 192.2 411.4 208.5 414.9 221.9 418.5 233.1 422.0 246.0 425.6 268.7 429.1 280.1 432.7 292.0 436.2 306.2 439.8 309.1 443.4 328.7 446.9 340.9"/><path d="M95.1 261.5 98.6 280.7 102.2 295.5 105.8 311.9 109.3 327.8 112.9 342.6 116.4 357.0 120.0 369.1 123.5 374.3 127.1 385.5 130.6 406.3 134.2 431.1 137.7 441.8 141.3 62.5 144.8 80.0 148.4 94.7 152.0 110.8 155.5 119.9 159.1 132.1 162.6 147.3 166.2 156.2 169.7 163.6 173.3 175.2 176.8 189.2 180.4 199.4 183.9 217.1 187.5 226.2 191.0 239.2 194.6 254.9 198.1 262.5 201.7 267.9 205.3 284.8 208.8 300.6 212.4 310.3 215.9 326.4 219.5 344.5 223.0 355.2 226.6 366.0 230.1 385.4 233.7 400.1 237.2 409.8 240.8 425.9 244.3 59.9 247.9 72.8 251.5 89.4 255.0 102.4 258.6 122.2 262.1 133.7 265.7 145.7 269.2 153.5 272.8 168.0 276.3 183.2 279.9 195.4 283.4 210.6 287.0 212.8 290.5 230.9 294.1 247.9 297.7 267.1 301.2 275.6 304.8 275.2 308.3 285.6 311.9 294.7 315.4 306.5 319.0 325.2 322.5 341.5 326.1 343.4 329.6 351.1 333.2 365.2 336.7 380.1 340.3 394.6 343.9 416.4 347.4 440.3 351.0 58.8 354.5 66.4 358.1 80.2 361.6 96.4 365.2 113.9 368.7 125.2 372.3 134.6 375.8 144.5 379.4 156.8 382.9 165.7 386.5 180.1 390.0 193.4 393.6 200.0 397.2 217.2 400.7 229.1 404.3 231.8 407.8 251.1 411.4 265.5 414.9 274.4 418.5 288.0 422.0 304.9 425.6 323.7 429.1 328.9 432.7 333.7 436.2 343.3 439.8 355.7 443.4 370.6 446.9 390.4"/><path d="M95.1 261.5 98.6 278.4 102.2 290.2 105.8 302.5 109.3 314.7 112.9 331.2 116.4 340.5 120.0 352.2 123.5 367.3 127.1 386.3 130.6 407.7 134.2 424.5 137.7 441.0 141.3 64.3 144.8 77.2 148.4 83.9 152.0 97.4 155.5 105.0 159.1 113.2 162.6 128.7 166.2 133.7 169.7 151.9 173.3 165.3 176.8 182.1 180.4 199.3 183.9 217.7 187.5 232.8 191.0 243.0 194.6 256.8 198.1 276.0 201.7 291.7 205.3 301.7 208.8 309.8 212.4 319.8 215.9 343.8 219.5 361.8 223.0 375.1 226.6 379.9 230.1 389.5 233.7 409.4 237.2 418.6 240.8 433.4 244.3 62.0 247.9 73.0 251.5 91.3 255.0 96.5 258.6 113.1 262.1 122.7 265.7 133.3 269.2 145.6 272.8 154.4 276.3 170.9 279.9 175.7 283.4 178.5 287.0 195.5 290.5 207.9 294.1 214.4 297.7 230.5 301.2 250.5 304.8 268.0 308.3 276.7 311.9 285.0 315.4 292.7 319.0 302.7 322.5 314.8 326.1 323.4 329.6 334.2 333.2 344.2 336.7 358.2 340.3 365.4 343.9 386.1 347.4 402.1 351.0 412.3 354.5 428.6 358.1 59.5 361.6 85.7 365.2 86.5 368.7 99.7 372.3 115.7 375.8 136.5 379.4 145.8 382.9 149.3 386.5 158.9 390.0 167.4 393.6 184.8 397.2 193.9 400.7 204.2 404.3 210.0 407.8 221.6 411.4 231.9 414.9 250.2 418.5 271.7 422.0 281.1 425.6 303.9 429.1 316.8 432.7 318.7 436.2 339.1 439.8 348.6 443.4 370.7 446.9 395.9"/><path d="M95.1 261.5 98.6 279.8 102.2 293.9 105.8 302.6 109.3 317.2 112.9 331.4 116.4 339.9 120.0 356.7 123.5 373.3 127.1 388.4 130.6 398.7 134.2 415.1 137.7 434.1 141.3 54.4 144.8 75.5 148.4 89.2 152.0 104.2 155.5 121.3 159.1 138.1 162.6 147.2 166.2 156.6 169.7 169.2 173.3 179.4 176.8 194.1 180.4 203.1 183.9 218.9 187.5 230.9 191.0 240.6 194.6 249.9 198.1 263.0 201.7 276.9 205.3 283.9 208.8 296.9 212.4 310.5 215.9 326.7 219.5 338.3 223.0 348.6 226.6 366.1 230.1 377.4 233.7 397.4 237.2 410.7 240.8 418.5 244.3 433.0 247.9 60.2 251.5 79.6 255.0 94.1 258.6 111.1 262.1 125.4 265.7 140.3 269.2 152.6 272.8 156.0 276.3 168.5 279.9 170.8 283.4 173.6 287.0 185.5 290.5 193.0 294.1 205.5 297.7 220.9 301.2 239.8 304.8 255.2 308.3 275.9 311.9 292.0 315.4 298.8 319.0 309.3 322.5 329.6 326.1 343.7 329.6 363.0 333.2 375.2 336.7 388.1 340.3 399.6 343.9 416.0 347.4 420.3 351.0 440.1 354.5 62.2 358.1 75.4 361.6 78.2 365.2 82.7 368.7 89.9 372.3 104.6 375.8 127.3 379.4 137.8 382.9 146.5 386.5 158.3 390.0 172.5 393.6 179.0 397.2 188.7 400.7 198.5 404.3 203.3 407.8 212.0 411.4 222.2 414.9 246.2 418.5 257.5 422.0 262.0 425.6 281.8 429.1 289.5 432.7 283.1 436.2 296.8 439.8 308.5 443.4 328.8 446.9 344.9"/><path d="M95.1 261.5 98.6 282.0 102.2 297.9 105.8 310.8 109.3 327.8 112.9 342.9 116.4 353.1 120.0 369.6 123.5 376.8 127.1 383.4 130.6 395.5 134.2 412.5 137.7 422.0 141.3 438.8 144.8 60.6 148.4 84.6 152.0 96.8 155.5 109.1 159.1 126.7 162.6 140.8 166.2 151.5 169.7 165.8 173.3 179.6 176.8 186.9 180.4 200.6 183.9 214.1 187.5 227.3 191.0 234.7 194.6 253.0 198.1 267.2 201.7 280.6 205.3 289.9 208.8 306.1 212.4 313.6 215.9 330.7 219.5 341.8 223.0 358.9 226.6 375.2 230.1 379.1 233.7 400.0 237.2 407.3 240.8 419.7 244.3 430.7 247.9 469.9 251.5 77.6 255.0 95.3 258.6 105.0 262.1 115.2 265.7 130.1 269.2 144.6 272.8 157.8 276.3 170.7 279.9 168.5 283.4 183.0 287.0 202.8 290.5 205.5 294.1 210.2 297.7 228.1 301.2 243.1 304.8 257.9 308.3 275.6 311.9 284.4 315.4 295.4 319.0 312.4 322.5 318.0 326.1 324.0 329.6 339.7 333.2 353.9 336.7 356.6 340.3 362.3 343.9 381.3 347.4 405.4 351.0 403.2 354.5 420.8 358.1 423.6 361.6 458.7 365.2 71.8 368.7 86.8 372.3 99.9 375.8 120.3 379.4 126.3 382.9 127.0 386.5 139.3 390.0 149.5 393.6 159.3 397.2 176.1 400.7 187.3 404.3 194.9 407.8 203.6 411.4 215.7 414.9 233.5 418.5 253.6 422.0 266.4 425.6 280.3 429.1 290.8 432.7 313.5 436.2 321.4 439.8 326.7 443.4 335.0 446.9 352.0"/><path d="M95.1 261.5 98.6 277.9 102.2 292.2 105.8 305.2 109.3 319.2 112.9 335.7 116.4 349.3 120.0 364.1 123.5 377.7 127.1 393.6 130.6 410.8 134.2 419.6 137.7 444.1 141.3 63.9 144.8 74.8 148.4 92.5 152.0 99.5 155.5 113.4 159.1 124.6 162.6 146.6 166.2 156.3 169.7 171.5 173.3 181.1 176.8 189.7 180.4 206.5 183.9 220.6 187.5 226.7 191.0 241.8 194.6 258.6 198.1 277.4 201.7 290.3 205.3 302.5 208.8 310.3 212.4 319.0 215.9 322.2 219.5 331.8 223.0 351.8 226.6 365.2 230.1 380.5 233.7 389.6 237.2 404.9 240.8 424.1 244.3 434.1 247.9 63.7 251.5 80.0 255.0 92.6 258.6 105.1 262.1 118.1 265.7 132.8 269.2 147.4 272.8 153.1 276.3 155.5 279.9 173.5 283.4 187.9 287.0 203.2 290.5 214.7 294.1 236.3 297.7 244.8 301.2 263.2 304.8 275.7 308.3 292.1 311.9 308.0 315.4 314.3 319.0 327.4 322.5 333.6 326.1 342.7 329.6 350.8 333.2 365.1 336.7 370.7 340.3 387.2 343.9 398.5 347.4 407.1 351.0 424.4 354.5 450.6 358.1 71.3 361.6 88.8 365.2 99.9 368.7 108.6 372.3 123.3 375.8 136.0 379.4 157.2 382.9 176.9 386.5 193.0 390.0 196.3 393.6 217.8 397.2 225.9 400.7 239.0 404.3 240.5 407.8 258.6 411.4 277.3 414.9 290.8 418.5 302.2 422.0 308.2 425.6 315.1 429.1 320.7 432.7 330.1 436.2 339.5 439.8 343.5 443.4 352.5 446.9 365.9"/><path d="M95.1 261.5 98.6 278.4 102.2 290.9 105.8 307.8 109.3 321.6 112.9 331.4 116.4 349.4 120.0 367.0 123.5 384.0 127.1 390.2 130.6 401.7 134.2 406.5 137.7 422.9 141.3 448.0 144.8 76.2 148.4 90.3 152.0 101.6 155.5 119.8 159.1 133.7 162.6 144.0 166.2 159.1 169.7 169.8 173.3 180.8 176.8 184.5 180.4 202.7 183.9 216.8 187.5 228.5 191.0 241.4 194.6 254.3 198.1 274.3 201.7 289.6 205.3 301.5 208.8 316.9 212.4 333.5 215.9 355.0 219.5 364.5 223.0 374.7 226.6 386.1 230.1 400.5 233.7 417.5 237.2 426.6 240.8 436.6 244.3 58.6 247.9 84.9 251.5 97.7 255.0 110.8 258.6 122.5 262.1 132.6 265.7 144.4 269.2 154.1 272.8 165.9 276.3 186.4 279.9 189.7 283.4 213.8 287.0 217.1 290.5 227.6 294.1 235.8 297.7 252.8 301.2 260.4 304.8 281.5 308.3 293.3 311.9 301.1 315.4 310.9 319.0 318.5 322.5 331.6 326.1 356.2 329.6 366.8 333.2 387.3 336.7 395.7 340.3 418.5 343.9 430.1 347.4 54.4 351.0 66.1 354.5 82.8 358.1 100.5 361.6 98.4 365.2 104.1 368.7 124.4 372.3 135.0 375.8 152.3 379.4 158.9 382.9 180.7 386.5 186.4 390.0 200.7 393.6 218.5 397.2 232.6 400.7 236.7 404.3 259.2 407.8 265.1 411.4 270.0 414.9 287.1 418.5 290.8 422.0 307.3 425.6 321.7 429.1 343.5 432.7 360.6 436.2 373.3 439.8 390.2 443.4 407.2 446.9 427.7"/><path d="M95.1 261.5 98.6 280.0 102.2 293.3 105.8 310.0 109.3 322.4 112.9 341.0 116.4 349.1 120.0 363.2 123.5 373.2 127.1 384.1 130.6 399.2 134.2 403.9 137.7 422.4 141.3 438.1 144.8 64.1 148.4 81.9 152.0 92.3 155.5 105.9 159.1 120.3 162.6 135.6 166.2 154.8 169.7 159.1 173.3 168.8 176.8 175.6 180.4 189.3 183.9 208.1 187.5 220.9 191.0 235.4 194.6 253.3 198.1 261.4 201.7 276.5 205.3 295.2 208.8 306.7 212.4 326.7 215.9 338.6 219.5 353.1 223.0 369.3 226.6 381.0 230.1 395.6 233.7 416.3 237.2 446.0 240.8 69.0 244.3 85.2 247.9 90.9 251.5 93.9 255.0 107.8 258.6 115.7 262.1 119.3 265.7 131.9 269.2 148.3 272.8 162.2 276.3 179.2 279.9 189.5 283.4 204.1 287.0 204.1 290.5 214.2 294.1 225.0 297.7 249.4 301.2 257.7 304.8 270.1 308.3 283.8 311.9 287.8 315.4 305.1 319.0 323.9 322.5 342.8 326.1 356.0 329.6 371.6 333.2 383.7 336.7 406.1 340.3 420.1 343.9 431.9 347.4 447.4 351.0 78.2 354.5 84.9 358.1 103.5 361.6 121.8 365.2 138.6 368.7 150.5 372.3 164.0 375.8 174.2 379.4 189.5 382.9 213.6 386.5 223.4 390.0 237.3 393.6 248.7 397.2 262.3 400.7 268.7 404.3 276.3 407.8 276.1 411.4 279.9 414.9 290.9 418.5 296.3 422.0 311.1 425.6 329.9 429.1 338.6 432.7 353.0 436.2 367.8 439.8 376.2 443.4 388.6 446.9 402.6"/><path d="M95.1 261.5 98.6 277.7 102.2 290.5 105.8 306.5 109.3 322.0 112.9 337.0 116.4 350.5 120.0 358.8 123.5 379.9 127.1 396.1 130.6 412.8 134.2 431.1 137.7 440.3 141.3 67.2 144.8 80.4 148.4 92.7 152.0 116.2 155.5 126.0 159.1 138.4 162.6 150.2 166.2 162.0 169.7 176.7 173.3 194.1 176.8 205.6 180.4 221.8 183.9 240.0 187.5 257.5 191.0 277.0 194.6 286.3 198.1 297.5 201.7 311.8 205.3 327.1 208.8 330.7 212.4 349.3 215.9 358.4 219.5 374.1 223.0 384.9 226.6 392.9 230.1 403.8 233.7 410.2 237.2 421.5 240.8 433.9 244.3 443.8 247.9 69.8 251.5 81.9 255.0 92.6 258.6 102.2 262.1 113.0 265.7 126.5 269.2 136.0 272.8 154.6 276.3 172.9 279.9 198.7 283.4 215.6 287.0 222.8 290.5 243.1 294.1 262.5 297.7 287.7 301.2 294.7 304.8 302.6 308.3 324.7 311.9 340.3 315.4 348.8 319.0 354.8 322.5 369.2 326.1 384.9 329.6 397.1 333.2 413.7 336.7 424.4 340.3 451.3 343.9 60.2 347.4 81.5 351.0 85.1 354.5 95.2 358.1 111.2 361.6 124.1 365.2 137.3 368.7 148.1 372.3 164.0 375.8 183.6 379.4 194.8 382.9 196.9 386.5 205.2 390.0 220.7 393.6 233.2 397.2 255.5 400.7 268.9 404.3 295.5 407.8 309.7 411.4 329.6 414.9 341.7 418.5 345.2 422.0 365.8 425.6 372.0 429.1 382.8 432.7 398.7 436.2 403.2 439.8 413.3 443.4 418.9 446.9 431.3"/><path d="M95.1 261.5 98.6 277.4 102.2 291.9 105.8 306.5 109.3 321.2 112.9 337.7 116.4 345.7 120.0 365.7 123.5 377.6 127.1 395.6 130.6 408.9 134.2 420.6 137.7 446.6 141.3 68.3 144.8 81.4 148.4 95.7 152.0 112.9 155.5 124.6 159.1 133.5 162.6 145.2 166.2 158.3 169.7 171.7 173.3 183.2 176.8 194.3 180.4 201.7 183.9 211.9 187.5 226.7 191.0 242.2 194.6 247.7 198.1 267.3 201.7 282.1 205.3 292.3 208.8 303.9 212.4 321.1 215.9 338.3 219.5 347.1 223.0 358.3 226.6 376.3 230.1 387.0 233.7 401.5 237.2 419.8 240.8 432.2 244.3 440.7 247.9 65.6 251.5 82.5 255.0 100.5 258.6 108.2 262.1 115.9 265.7 134.4 269.2 142.8 272.8 160.0 276.3 183.3 279.9 188.8 283.4 193.5 287.0 213.1 290.5 221.3 294.1 240.2 297.7 255.9 301.2 260.1 304.8 269.6 308.3 279.6 311.9 284.2 315.4 295.2 319.0 299.4 322.5 323.2 326.1 328.6 329.6 340.6 333.2 349.1 336.7 363.9 340.3 374.4 343.9 385.7 347.4 391.5 351.0 404.0 354.5 420.1 358.1 439.0 361.6 56.2 365.2 85.4 368.7 98.1 372.3 109.6 375.8 125.0 379.4 149.5 382.9 166.6 386.5 180.5 390.0 190.4 393.6 199.1 397.2 213.3 400.7 236.6 404.3 242.3 407.8 254.7 411.4 275.0 414.9 299.1 418.5 314.4 422.0 319.5 425.6 330.7 429.1 343.1 432.7 350.0 436.2 350.3 439.8 362.0 443.4 381.5 446.9 399.4"/><path d="M95.1 261.5 98.6 278.0 102.2 289.5 105.8 301.7 109.3 310.8 112.9 323.5 116.4 331.5 120.0 342.4 123.5 353.2 127.1 365.6 130.6 378.5 134.2 394.0 137.7 411.0 141.3 423.6 144.8 438.8 148.4 62.6 152.0 79.5 155.5 93.4 159.1 114.2 162.6 125.1 166.2 137.9 169.7 153.6 173.3 166.5 176.8 181.6 180.4 201.4 183.9 217.4 187.5 235.3 191.0 244.5 194.6 258.7 198.1 271.5 201.7 279.4 205.3 287.9 208.8 304.0 212.4 312.1 215.9 321.4 219.5 334.3 223.0 346.3 226.6 368.3 230.1 381.4 233.7 390.9 237.2 402.2 240.8 419.3 244.3 427.8 247.9 444.6 251.5 71.2 255.0 87.0 258.6 97.4 262.1 107.1 265.7 124.5 269.2 138.6 272.8 153.4 276.3 161.2 279.9 179.5 283.4 190.4 287.0 194.9 290.5 209.5 294.1 216.1 297.7 218.5 301.2 230.1 304.8 238.7 308.3 251.3 311.9 264.6 315.4 282.7 319.0 295.3 322.5 300.9 326.1 312.1 329.6 337.3 333.2 356.8 336.7 362.5 340.3 378.2 343.9 382.5 347.4 395.9 351.0 403.9 354.5 406.0 358.1 428.9 361.6 444.3 365.2 71.8 368.7 86.7 372.3 98.6 375.8 109.8 379.4 117.8 382.9 133.4 386.5 140.7 390.0 160.7 393.6 162.9 397.2 174.1 400.7 181.6 404.3 192.8 407.8 198.9 411.4 211.4 414.9 237.4 418.5 238.2 422.0 241.0 425.6 258.3 429.1 268.9 432.7 270.6 436.2 274.3 439.8 284.5 443.4 295.3 446.9 297.3"/><path d="M95.1 261.5 98.6 282.7 102.2 297.4 105.8 314.2 109.3 326.6 112.9 339.6 116.4 353.2 120.0 366.0 123.5 381.1 127.1 397.2 130.6 410.5 134.2 421.9 137.7 439.1 141.3 59.4 144.8 80.1 148.4 95.3 152.0 105.9 155.5 117.2 159.1 124.7 162.6 138.0 166.2 148.9 169.7 160.2 173.3 176.5 176.8 181.4 180.4 192.2 183.9 203.7 187.5 214.2 191.0 231.3 194.6 243.2 198.1 264.1 201.7 276.5 205.3 292.1 208.8 305.8 212.4 317.4 215.9 330.1 219.5 330.7 223.0 351.3 226.6 367.7 230.1 378.3 233.7 394.0 237.2 405.2 240.8 413.1 244.3 426.5 247.9 447.7 251.5 74.7 255.0 89.2 258.6 108.8 262.1 121.0 265.7 130.8 269.2 146.7 272.8 161.8 276.3 166.5 279.9 180.7 283.4 195.8 287.0 203.0 290.5 213.9 294.1 220.4 297.7 243.5 301.2 253.5 304.8 257.2 308.3 269.4 311.9 278.8 315.4 293.9 319.0 304.2 322.5 309.8 326.1 328.9 329.6 339.4 333.2 349.3 336.7 367.8 340.3 374.3 343.9 384.6 347.4 392.4 351.0 395.5 354.5 414.3 358.1 426.1 361.6 439.3 365.2 63.2 368.7 69.9 372.3 83.1 375.8 93.2 379.4 116.3 382.9 131.7 386.5 138.9 390.0 147.1 393.6 141.5 397.2 151.7 400.7 156.3 404.3 175.4 407.8 178.7 411.4 183.0 414.9 197.9 418.5 204.6 422.0 220.8 425.6 236.2 429.1 241.6 432.7 249.6 436.2 261.9 439.8 290.6 443.4 302.3 446.9 323.9"/><path d="M95.1 261.5 98.6 277.4 102.2 291.4 105.8 305.2 109.3 322.2 112.9 336.9 116.4 345.7 120.0 359.5 123.5 365.1 127.1 378.6 130.6 388.4 134.2 405.4 137.7 415.6 141.3 426.5 144.8 440.4 148.4 60.1 152.0 76.0 155.5 84.0 159.1 96.1 162.6 111.5 166.2 116.9 169.7 127.1 173.3 143.9 176.8 158.2 180.4 169.9 183.9 180.8 187.5 195.0 191.0 221.6 194.6 233.7 198.1 246.5 201.7 263.6 205.3 284.9 208.8 298.4 212.4 310.5 215.9 326.0 219.5 351.8 223.0 362.9 226.6 376.5 230.1 392.1 233.7 411.5 237.2 426.0 240.8 440.6 244.3 63.3 247.9 76.4 251.5 86.3 255.0 97.6 258.6 110.9 262.1 120.1 265.7 128.8 269.2 142.0 272.8 155.8 276.3 167.4 279.9 177.2 283.4 196.5 287.0 221.6 290.5 227.1 294.1 243.7 297.7 250.7 301.2 265.8 304.8 271.1 308.3 280.9 311.9 286.0 315.4 290.1 319.0 299.5 322.5 306.5 326.1 321.6 329.6 324.3 333.2 330.8 336.7 340.6 340.3 348.9 343.9 357.8 347.4 361.6 351.0 377.4 354.5 383.6 358.1 402.5 361.6 415.2 365.2 426.7 368.7 448.7 372.3 59.5 375.8 85.6 379.4 95.5 382.9 108.2 386.5 121.2 390.0 126.6 393.6 136.8 397.2 150.7 400.7 151.1 404.3 156.7 407.8 188.7 411.4 198.7 414.9 219.2 418.5 227.2 422.0 233.4 425.6 248.2 429.1 262.1 432.7 274.2 436.2 285.9 439.8 297.1 443.4 297.3 446.9 313.1"/><path d="M95.1 261.5 98.6 276.7 102.2 289.8 105.8 305.8 109.3 319.3 112.9 332.7 116.4 347.3 120.0 360.8 123.5 369.4 127.1 383.0 130.6 394.5 134.2 405.1 137.7 414.7 141.3 444.9 144.8 63.7 148.4 79.1 152.0 92.0 155.5 97.0 159.1 106.8 162.6 118.3 166.2 131.1 169.7 145.9 173.3 160.3 176.8 177.6 180.4 198.3 183.9 211.3 187.5 224.2 191.0 227.0 194.6 238.5 198.1 256.2 201.7 274.0 205.3 286.9 208.8 301.1 212.4 319.6 215.9 337.3 219.5 354.3 223.0 366.9 226.6 377.8 230.1 386.3 233.7 398.8 237.2 411.1 240.8 423.8 244.3 446.1 247.9 62.9 251.5 79.6 255.0 93.2 258.6 103.7 262.1 115.6 265.7 127.6 269.2 137.1 272.8 152.7 276.3 162.7 279.9 184.2 283.4 203.5 287.0 213.3 290.5 224.2 294.1 243.0 297.7 253.8 301.2 273.9 304.8 289.3 308.3 300.1 311.9 319.3 315.4 331.1 319.0 339.7 322.5 354.9 326.1 378.3 329.6 388.2 333.2 409.1 336.7 424.3 340.3 60.8 343.9 86.1 347.4 108.6 351.0 124.7 354.5 145.3 358.1 146.5 361.6 161.0 365.2 170.6 368.7 166.2 372.3 173.8 375.8 182.9 379.4 201.8 382.9 208.2 386.5 213.6 390.0 224.5 393.6 238.6 397.2 244.6 400.7 250.7 404.3 258.6 407.8 282.1 411.4 285.6 414.9 296.4 418.5 306.8 422.0 317.1 425.6 320.4 429.1 330.4 432.7 337.0 436.2 357.3 439.8 367.7 443.4 381.0 446.9 387.3"/><path d="M95.1 261.5 98.6 277.4 102.2 290.8 105.8 304.0 109.3 315.3 112.9 325.8 116.4 334.9 120.0 345.8 123.5 365.3 127.1 376.5 130.6 398.7 134.2 404.8 137.7 419.1 141.3 441.9 144.8 72.3 148.4 85.8 152.0 97.8 155.5 111.7 159.1 129.5 162.6 137.0 166.2 152.8 169.7 168.7 173.3 176.9 176.8 190.6 180.4 200.8 183.9 204.9 187.5 214.1 191.0 225.2 194.6 239.7 198.1 254.1 201.7 269.6 205.3 284.0 208.8 290.9 212.4 304.5 215.9 316.2 219.5 330.9 223.0 346.3 226.6 358.5 230.1 368.1 233.7 380.9 237.2 392.4 240.8 403.0 244.3 415.6 247.9 430.1 251.5 57.2 255.0 72.3 258.6 84.5 262.1 102.6 265.7 120.1 269.2 138.5 272.8 153.9 276.3 161.7 279.9 186.3 283.4 193.3 287.0 213.7 290.5 224.7 294.1 244.6 297.7 266.9 301.2 280.6 304.8 293.9 308.3 303.4 311.9 309.7 315.4 329.3 319.0 337.0 322.5 352.7 326.1 362.1 329.6 373.0 333.2 385.0 336.7 403.5 340.3 411.7 343.9 426.4 347.4 444.1 351.0 58.5 354.5 78.9 358.1 85.4 361.6 93.5 365.2 98.9 368.7 112.5 372.3 129.4 375.8 149.3 379.4 176.0 382.9 189.4 386.5 196.8 390.0 202.2 393.6 208.0 397.2 212.1 400.7 220.5 404.3 234.9 407.8 239.9 411.4 252.5 414.9 270.1 418.5 273.1 422.0 285.6 425.6 300.8 429.1 308.8 432.7 322.3 436.2 335.0 439.8 338.8 443.4 345.0 446.9 353.1"/><path d="M95.1 261.5 98.6 278.9 102.2 293.9 105.8 307.3 109.3 321.0 112.9 339.7 116.4 353.1 120.0 359.1 123.5 377.1 127.1 392.4 130.6 406.2 134.2 420.4 137.7 448.6 141.3 67.2 144.8 80.5 148.4 88.0 152.0 102.6 155.5 116.7 159.1 134.4 162.6 143.0 166.2 148.9 169.7 159.1 173.3 183.9 176.8 197.0 180.4 214.3 183.9 225.7 187.5 240.5 191.0 256.1 194.6 269.4 198.1 283.0 201.7 292.4 205.3 301.7 208.8 321.0 212.4 333.7 215.9 354.0 219.5 366.0 223.0 375.9 226.6 378.9 230.1 388.5 233.7 399.2 237.2 415.0 240.8 428.7 244.3 60.4 247.9 73.8 251.5 87.3 255.0 99.1 258.6 112.6 262.1 125.6 265.7 140.3 269.2 154.5 272.8 160.9 276.3 168.0 279.9 179.0 283.4 180.4 287.0 185.1 290.5 186.8 294.1 195.9 297.7 206.1 301.2 214.1 304.8 226.3 308.3 248.6 311.9 260.2 315.4 277.6 319.0 295.6 322.5 307.5 326.1 319.2 329.6 327.2 333.2 334.9 336.7 342.8 340.3 359.2 343.9 371.6 347.4 375.1 351.0 379.0 354.5 398.2 358.1 412.0 361.6 425.0 365.2 435.6 368.7 59.8 372.3 66.6 375.8 72.7 379.4 88.9 382.9 115.2 386.5 131.9 390.0 139.5 393.6 155.0 397.2 152.7 400.7 159.2 404.3 168.0 407.8 187.3 411.4 188.5 414.9 202.2 418.5 219.8 422.0 236.7 425.6 250.3 429.1 264.7 432.7 284.9 436.2 292.3 439.8 316.2 443.4 337.1 446.9 343.5"/><path d="M95.1 261.5 98.6 279.9 102.2 295.1 105.8 309.1 109.3 322.7 112.9 338.2 116.4 353.4 120.0 365.4 123.5 379.9 127.1 398.8 130.6 410.6 134.2 443.0 137.7 65.3 141.3 81.3 144.8 90.8 148.4 101.3 152.0 115.6 155.5 134.5 159.1 157.6 162.6 167.4 166.2 181.2 169.7 193.9 173.3 205.5 176.8 219.7 180.4 236.5 183.9 248.8 187.5 256.1 191.0 276.6 194.6 294.1 198.1 306.5 201.7 312.6 205.3 324.0 208.8 336.6 212.4 347.4 215.9 363.7 219.5 373.9 223.0 384.1 226.6 393.0 230.1 399.5 233.7 415.9 237.2 443.8 240.8 67.0 244.3 75.8 247.9 84.9 251.5 92.4 255.0 104.7 258.6 116.6 262.1 139.4 265.7 153.6 269.2 163.1 272.8 173.8 276.3 183.3 279.9 189.3 283.4 206.8 287.0 226.8 290.5 240.5 294.1 246.6 297.7 255.9 301.2 271.2 304.8 272.5 308.3 283.3 311.9 296.5 315.4 311.2 319.0 325.4 322.5 338.3 326.1 336.6 329.6 347.0 333.2 368.0 336.7 383.0 340.3 397.3 343.9 410.7 347.4 428.5 351.0 55.0 354.5 72.6 358.1 74.6 361.6 93.1 365.2 105.8 368.7 114.4 372.3 118.6 375.8 130.6 379.4 139.3 382.9 141.5 386.5 161.0 390.0 177.1 393.6 181.4 397.2 191.4 400.7 200.1 404.3 210.6 407.8 222.6 411.4 227.4 414.9 245.4 418.5 251.0 422.0 263.6 425.6 271.1 429.1 274.2 432.7 287.2 436.2 294.9 439.8 309.4 443.4 321.7 446.9 327.7"/><path d="M95.1 261.5 98.6 280.0 102.2 292.2 105.8 305.7 109.3 319.9 112.9 332.7 116.4 345.5 120.0 355.4 123.5 369.2 127.1 381.0 130.6 398.9 134.2 417.4 137.7 424.1 141.3 439.2 144.8 60.9 148.4 80.1 152.0 89.7 155.5 104.9 159.1 124.9 162.6 135.9 166.2 152.5 169.7 167.6 173.3 173.4 176.8 195.1 180.4 214.7 183.9 229.4 187.5 250.2 191.0 259.1 194.6 272.1 198.1 286.7 201.7 301.0 205.3 315.3 208.8 332.5 212.4 342.9 215.9 353.4 219.5 369.5 223.0 376.4 226.6 388.1 230.1 401.5 233.7 412.1 237.2 423.8 240.8 445.2 244.3 64.7 247.9 82.5 251.5 97.9 255.0 106.9 258.6 124.5 262.1 139.4 265.7 158.1 269.2 161.8 272.8 171.9 276.3 196.3 279.9 201.8 283.4 211.5 287.0 225.0 290.5 245.4 294.1 259.7 297.7 267.9 301.2 275.8 304.8 289.0 308.3 289.6 311.9 296.2 315.4 308.0 319.0 327.2 322.5 334.2 326.1 348.3 329.6 361.4 333.2 368.4 336.7 370.7 340.3 387.4 343.9 394.9 347.4 412.1 351.0 432.4 354.5 60.7 358.1 76.7 361.6 73.0 365.2 77.7 368.7 78.9 372.3 89.7 375.8 100.6 379.4 114.8 382.9 130.3 386.5 133.5 390.0 146.8 393.6 161.8 397.2 162.6 400.7 168.5 404.3 180.0 407.8 196.8 411.4 215.8 414.9 227.3 418.5 238.5 422.0 253.7 425.6 275.8 429.1 279.9 432.7 297.5 436.2 308.1 439.8 327.3 443.4 317.9 446.9 326.5"/><path d="M95.1 261.5 98.6 278.1 102.2 291.5 105.8 306.1 109.3 313.7 112.9 328.3 116.4 335.7 120.0 351.7 123.5 369.2 127.1 381.5 130.6 403.8 134.2 416.2 137.7 437.4 141.3 58.6 144.8 74.0 148.4 89.8 152.0 100.6 155.5 116.4 159.1 135.5 162.6 151.7 166.2 161.4 169.7 173.1 173.3 190.4 176.8 206.4 180.4 224.5 183.9 233.3 187.5 252.2 191.0 269.5 194.6 279.5 198.1 288.0 201.7 302.0 205.3 317.4 208.8 327.2 212.4 334.7 215.9 342.6 219.5 352.4 223.0 367.6 226.6 380.7 230.1 393.9 233.7 409.0 237.2 426.0 240.8 444.3 244.3 68.8 247.9 80.4 251.5 89.2 255.0 103.5 258.6 110.9 262.1 125.8 265.7 149.0 269.2 157.7 272.8 173.9 276.3 199.4 279.9 202.6 283.4 220.3 287.0 240.9 290.5 244.3 294.1 250.9 297.7 256.8 301.2 270.7 304.8 293.2 308.3 312.4 311.9 318.5 315.4 327.9 319.0 336.6 322.5 347.7 326.1 356.6 329.6 367.1 333.2 379.8 336.7 389.1 340.3 406.5 343.9 428.1 347.4 441.1 351.0 64.7 354.5 72.7 358.1 90.2 361.6 89.9 365.2 101.7 368.7 120.9 372.3 130.2 375.8 142.5 379.4 148.3 382.9 161.9 386.5 172.4 390.0 184.4 393.6 199.2 397.2 215.9 400.7 234.3 404.3 234.8 407.8 252.8 411.4 271.6 414.9 277.5 418.5 271.7 422.0 285.4 425.6 307.5 429.1 308.1 432.7 323.5 436.2 345.8 439.8 357.5 443.4 367.8 446.9 379.2"/><path d="M95.1 261.5 98.6 283.4 102.2 296.9 105.8 309.6 109.3 320.1 112.9 336.4 116.4 347.2 120.0 357.5 123.5 377.4 127.1 386.9 130.6 397.2 134.2 403.6 137.7 411.4 141.3 424.6 144.8 444.3 148.4 66.3 152.0 85.3 155.5 96.8 159.1 104.0 162.6 113.4 166.2 121.7 169.7 131.3 173.3 145.8 176.8 159.3 180.4 170.2 183.9 184.8 187.5 197.7 191.0 212.9 194.6 226.4 198.1 239.9 201.7 260.6 205.3 267.8 208.8 282.2 212.4 295.6 215.9 313.3 219.5 329.8 223.0 341.2 226.6 357.9 230.1 375.0 233.7 391.0 237.2 405.7 240.8 422.5 244.3 460.6 247.9 70.0 251.5 86.1 255.0 100.2 258.6 120.4 262.1 129.5 265.7 142.5 269.2 159.9 272.8 172.1 276.3 183.2 279.9 203.8 283.4 218.1 287.0 241.1 290.5 256.0 294.1 263.3 297.7 267.4 301.2 274.2 304.8 291.9 308.3 300.9 311.9 308.6 315.4 321.9 319.0 334.0 322.5 345.2 326.1 367.6 329.6 385.5 333.2 393.7 336.7 408.0 340.3 411.8 343.9 429.6 347.4 449.9 351.0 58.2 354.5 75.9 358.1 83.3 361.6 84.7 365.2 102.4 368.7 104.1 372.3 123.7 375.8 135.8 379.4 134.2 382.9 148.2 386.5 148.3 390.0 166.1 393.6 175.0 397.2 194.6 400.7 204.6 404.3 198.2 407.8 208.8 411.4 221.1 414.9 232.9 418.5 236.6 422.0 244.7 425.6 253.9 429.1 257.4 432.7 264.4 436.2 285.6 439.8 298.2 443.4 301.3 446.9 318.2"/><path d="M95.1 261.5 98.6 278.3 102.2 291.6 105.8 307.3 109.3 319.9 112.9 338.7 116.4 350.0 120.0 369.7 123.5 382.7 127.1 396.6 130.6 415.6 134.2 429.1 137.7 60.5 141.3 81.0 144.8 94.2 148.4 109.0 152.0 116.0 155.5 129.9 159.1 138.8 162.6 155.0 166.2 168.3 169.7 187.9 173.3 198.8 176.8 209.9 180.4 216.7 183.9 228.1 187.5 239.7 191.0 250.7 194.6 262.5 198.1 271.4 201.7 289.9 205.3 298.5 208.8 314.0 212.4 332.7 215.9 345.6 219.5 353.7 223.0 367.4 226.6 374.5 230.1 392.3 233.7 403.3 237.2 413.9 240.8 425.7 244.3 451.6 247.9 68.4 251.5 94.1 255.0 108.0 258.6 126.4 262.1 135.6 265.7 151.5 269.2 156.9 272.8 170.8 276.3 185.2 279.9 200.3 283.4 214.5 287.0 226.6 290.5 249.2 294.1 262.7 297.7 268.5 301.2 280.5 304.8 300.3 308.3 310.1 311.9 327.8 315.4 346.3 319.0 356.8 322.5 361.2 326.1 377.0 329.6 391.4 333.2 406.6 336.7 429.4 340.3 453.5 343.9 59.1 347.4 72.4 351.0 74.6 354.5 99.3 358.1 116.6 361.6 128.0 365.2 138.4 368.7 149.9 372.3 164.9 375.8 178.0 379.4 200.9 382.9 228.1 386.5 242.4 390.0 246.8 393.6 254.4 397.2 272.2 400.7 280.0 404.3 286.6 407.8 302.1 411.4 319.1 414.9 323.8 418.5 339.2 422.0 349.6 425.6 359.5 429.1 365.7 432.7 377.4 436.2 403.4 439.8 407.3 443.4 416.7 446.9 427.6"/><path d="M95.1 261.5 98.6 285.3 102.2 299.6 105.8 313.5 109.3 326.4 112.9 340.6 116.4 350.4 120.0 365.8 123.5 375.3 127.1 385.2 130.6 396.9 134.2 414.9 137.7 428.6 141.3 446.8 144.8 65.6 148.4 81.3 152.0 102.8 155.5 120.8 159.1 132.1 162.6 145.7 166.2 157.1 169.7 164.1 173.3 177.6 176.8 191.3 180.4 213.4 183.9 227.7 187.5 238.9 191.0 255.7 194.6 274.3 198.1 281.3 201.7 302.0 205.3 313.1 208.8 329.2 212.4 338.2 215.9 354.1 219.5 371.1 223.0 385.0 226.6 393.5 230.1 399.9 233.7 414.2 237.2 429.3 240.8 441.3 244.3 58.9 247.9 80.2 251.5 87.3 255.0 105.5 258.6 116.1 262.1 136.8 265.7 154.3 269.2 164.7 272.8 179.5 276.3 197.4 279.9 226.8 283.4 236.7 287.0 249.4 290.5 265.2 294.1 281.0 297.7 290.8 301.2 309.2 304.8 317.7 308.3 326.1 311.9 332.1 315.4 340.0 319.0 356.0 322.5 372.5 326.1 380.3 329.6 401.6 333.2 423.1 336.7 438.0 340.3 63.0 343.9 80.7 347.4 91.0 351.0 101.6 354.5 108.9 358.1 129.7 361.6 137.3 365.2 144.8 368.7 157.3 372.3 164.4 375.8 172.0 379.4 185.2 382.9 200.4 386.5 209.6 390.0 221.4 393.6 234.4 397.2 239.5 400.7 251.4 404.3 258.0 407.8 270.1 411.4 277.5 414.9 300.7 418.5 311.1 422.0 319.7 425.6 329.9 429.1 346.0 432.7 355.5 436.2 355.1 439.8 365.6 443.4 372.5 446.9 375.7"/><path d="M95.1 261.5 98.6 285.0 102.2 297.7 105.8 311.2 109.3 327.7 112.9 346.0 116.4 357.7 120.0 376.6 123.5 387.2 127.1 398.3 130.6 414.9 134.2 423.7 137.7 447.9 141.3 80.5 144.8 99.7 148.4 110.3 152.0 116.8 155.5 131.9 159.1 139.6 162.6 152.7 166.2 170.4 169.7 180.4 173.3 198.8 176.8 214.8 180.4 227.1 183.9 231.6 187.5 248.2 191.0 261.6 194.6 274.3 198.1 278.9 201.7 291.9 205.3 306.9 208.8 320.2 212.4 329.2 215.9 347.0 219.5 356.8 223.0 370.2 226.6 383.1 230.1 394.2 233.7 407.1 237.2 426.5 240.8 442.4 244.3 70.3 247.9 89.8 251.5 99.0 255.0 114.3 258.6 126.9 262.1 141.6 265.7 156.9 269.2 167.2 272.8 180.4 276.3 183.4 279.9 189.5 283.4 200.4 287.0 212.0 290.5 227.0 294.1 231.8 297.7 249.9 301.2 263.7 304.8 275.3 308.3 282.3 311.9 291.6 315.4 298.5 319.0 305.3 322.5 318.4 326.1 332.8 329.6 351.0 333.2 364.9 336.7 372.3 340.3 381.8 343.9 399.7 347.4 400.5 351.0 414.4 354.5 461.0 358.1 71.9 361.6 79.4 365.2 95.1 368.7 103.7 372.3 112.4 375.8 119.4 379.4 115.6 382.9 126.9 386.5 147.0 390.0 163.6 393.6 178.2 397.2 196.7 400.7 200.7 404.3 206.7 407.8 222.2 411.4 227.2 414.9 242.0 418.5 258.6 422.0 270.3 425.6 277.0 429.1 301.8 432.7 317.9 436.2 338.4 439.8 331.5 443.4 349.1 446.9 357.3"/><path d="M95.1 261.5 98.6 284.0 102.2 298.0 105.8 310.7 109.3 329.1 112.9 342.6 116.4 346.8 120.0 362.2 123.5 372.3 127.1 386.6 130.6 405.6 134.2 422.0 137.7 459.7 141.3 67.6 144.8 83.3 148.4 102.2 152.0 112.7 155.5 127.7 159.1 138.9 162.6 155.6 166.2 169.6 169.7 186.4 173.3 200.8 176.8 217.7 180.4 227.0 183.9 242.0 187.5 255.5 191.0 266.4 194.6 280.3 198.1 300.9 201.7 309.4 205.3 320.3 208.8 329.6 212.4 336.9 215.9 343.5 219.5 353.5 223.0 368.5 226.6 382.9 230.1 395.1 233.7 407.9 237.2 417.2 240.8 437.8 244.3 66.9 247.9 70.4 251.5 89.8 255.0 109.6 258.6 122.4 262.1 139.1 265.7 157.3 269.2 173.4 272.8 186.0 276.3 201.1 279.9 220.0 283.4 237.8 287.0 247.9 290.5 259.3 294.1 273.2 297.7 280.6 301.2 302.5 304.8 326.1 308.3 335.3 311.9 344.4 315.4 353.4 319.0 375.5 322.5 387.8 326.1 408.1 329.6 421.5 333.2 427.2 336.7 61.5 340.3 69.1 343.9 75.7 347.4 87.2 351.0 98.5 354.5 111.2 358.1 116.2 361.6 129.7 365.2 134.6 368.7 154.2 372.3 162.3 375.8 163.3 379.4 180.1 382.9 191.5 386.5 211.3 390.0 232.7 393.6 249.7 397.2 249.2 400.7 254.1 404.3 261.0 407.8 272.2 411.4 286.6 414.9 298.7 418.5 314.8 422.0 329.6 425.6 332.0 429.1 345.5 432.7 351.2 436.2 369.2 439.8 384.1 443.4 408.4 446.9 423.1"/><path d="M95.1 261.5 98.6 284.7 102.2 297.8 105.8 313.3 109.3 326.6 112.9 342.5 116.4 354.1 120.0 368.9 123.5 388.6 127.1 402.2 130.6 414.4 134.2 425.4 137.7 441.0 141.3 75.0 144.8 93.1 148.4 101.2 152.0 117.5 155.5 127.1 159.1 143.6 162.6 153.8 166.2 168.9 169.7 185.8 173.3 197.7 176.8 215.6 180.4 223.1 183.9 231.8 187.5 249.4 191.0 261.6 194.6 278.6 198.1 293.9 201.7 312.0 205.3 316.9 208.8 332.2 212.4 346.9 215.9 363.1 219.5 372.1 223.0 379.0 226.6 400.8 230.1 416.2 233.7 429.3 237.2 57.3 240.8 79.3 244.3 83.6 247.9 98.0 251.5 108.8 255.0 115.3 258.6 127.3 262.1 142.1 265.7 150.1 269.2 169.6 272.8 177.4 276.3 193.1 279.9 200.3 283.4 217.9 287.0 233.0 290.5 242.8 294.1 251.0 297.7 264.2 301.2 281.5 304.8 288.7 308.3 306.4 311.9 319.3 315.4 323.3 319.0 331.4 322.5 345.8 326.1 367.7 329.6 381.4 333.2 405.2 336.7 416.9 340.3 426.5 343.9 442.1 347.4 71.6 351.0 92.4 354.5 93.8 358.1 99.4 361.6 105.1 365.2 119.3 368.7 139.6 372.3 144.8 375.8 145.5 379.4 149.7 382.9 159.2 386.5 172.7 390.0 186.7 393.6 197.6 397.2 210.0 400.7 225.8 404.3 240.0 407.8 245.4 411.4 256.6 414.9 271.5 418.5 298.6 422.0 304.9 425.6 322.8 429.1 339.5 432.7 351.8 436.2 372.6 439.8 378.7 443.4 395.1 446.9 401.1"/><path d="M95.1 261.5 98.6 288.2 102.2 305.7 105.8 322.8 109.3 340.9 112.9 352.8 116.4 371.0 120.0 381.6 123.5 396.4 127.1 412.2 130.6 413.5 134.2 430.9 137.7 62.0 141.3 77.4 144.8 97.1 148.4 108.0 152.0 121.7 155.5 131.0 159.1 147.3 162.6 162.1 166.2 174.5 169.7 189.7 173.3 204.2 176.8 217.2 180.4 236.0 183.9 243.3 187.5 254.0 191.0 265.4 194.6 280.5 198.1 294.5 201.7 310.8 205.3 328.2 208.8 337.7 212.4 351.3 215.9 369.4 219.5 387.1 223.0 391.6 226.6 406.4 230.1 418.4 233.7 445.9 237.2 58.8 240.8 70.2 244.3 83.1 247.9 98.0 251.5 105.3 255.0 128.2 258.6 138.6 262.1 144.7 265.7 151.6 269.2 166.8 272.8 187.9 276.3 197.2 279.9 193.8 283.4 210.7 287.0 212.5 290.5 235.0 294.1 247.1 297.7 259.5 301.2 278.3 304.8 286.4 308.3 299.0 311.9 322.3 315.4 337.8 319.0 360.1 322.5 369.0 326.1 374.8 329.6 393.2 333.2 393.2 336.7 405.1 340.3 412.7 343.9 417.6 347.4 446.2 351.0 61.1 354.5 74.9 358.1 93.8 361.6 96.5 365.2 108.4 368.7 121.6 372.3 133.2 375.8 149.0 379.4 164.0 382.9 170.8 386.5 188.9 390.0 197.3 393.6 212.3 397.2 222.3 400.7 233.7 404.3 250.4 407.8 267.3 411.4 277.5 414.9 287.4 418.5 292.5 422.0 309.1 425.6 323.0 429.1 328.8 432.7 327.8 436.2 337.7 439.8 351.5 443.4 365.8 446.9 381.3"/><path d="M95.1 261.5 98.6 291.3 102.2 306.9 105.8 321.2 109.3 337.3 112.9 352.5 116.4 367.0 120.0 378.8 123.5 388.1 127.1 401.8 130.6 418.4 134.2 466.2 137.7 64.0 141.3 86.5 144.8 97.5 148.4 114.5 152.0 127.6 155.5 143.4 159.1 153.5 162.6 169.6 166.2 185.6 169.7 203.4 173.3 216.2 176.8 225.8 180.4 242.9 183.9 261.9 187.5 276.6 191.0 287.4 194.6 303.1 198.1 325.6 201.7 335.4 205.3 350.4 208.8 363.2 212.4 377.2 215.9 384.3 219.5 398.9 223.0 410.9 226.6 420.8 230.1 429.8 233.7 448.9 237.2 71.3 240.8 90.2 244.3 103.6 247.9 120.6 251.5 136.7 255.0 146.4 258.6 157.7 262.1 164.2 265.7 171.8 269.2 180.8 272.8 192.6 276.3 201.4 279.9 213.6 283.4 228.8 287.0 228.2 290.5 238.7 294.1 256.2 297.7 263.7 301.2 274.0 304.8 296.8 308.3 310.9 311.9 323.5 315.4 325.6 319.0 324.5 322.5 328.0 326.1 342.4 329.6 348.1 333.2 357.5 336.7 370.7 340.3 384.5 343.9 393.6 347.4 410.3 351.0 409.0 354.5 417.4 358.1 430.9 361.6 441.0 365.2 75.3 368.7 85.5 372.3 90.0 375.8 89.8 379.4 106.6 382.9 132.3 386.5 140.8 390.0 154.6 393.6 164.9 397.2 179.3 400.7 188.6 404.3 208.3 407.8 216.4 411.4 224.7 414.9 252.0 418.5 262.9 422.0 270.1 425.6 289.6 429.1 298.1 432.7 309.5 436.2 327.3 439.8 334.3 443.4 337.3 446.9 350.6"/><path d="M95.1 261.5 98.6 289.7 102.2 303.0 105.8 320.7 109.3 336.8 112.9 349.0 116.4 358.4 120.0 370.9 123.5 387.1 127.1 404.3 130.6 414.6 134.2 432.6 137.7 61.8 141.3 80.9 144.8 96.0 148.4 110.6 152.0 126.5 155.5 144.2 159.1 153.6 162.6 168.8 166.2 178.5 169.7 185.1 173.3 208.1 176.8 215.1 180.4 224.6 183.9 241.3 187.5 262.0 191.0 272.3 194.6 289.4 198.1 302.7 201.7 324.2 205.3 342.7 208.8 357.7 212.4 370.8 215.9 381.8 219.5 398.2 223.0 410.6 226.6 422.7 230.1 441.0 233.7 60.3 237.2 74.7 240.8 83.8 244.3 99.2 247.9 107.9 251.5 123.3 255.0 138.8 258.6 147.3 262.1 156.6 265.7 165.9 269.2 178.9 272.8 196.6 276.3 202.6 279.9 215.9 283.4 232.3 287.0 238.7 290.5 240.3 294.1 248.4 297.7 260.6 301.2 274.9 304.8 290.2 308.3 303.3 311.9 331.4 315.4 343.6 319.0 359.5 322.5 365.7 326.1 379.6 329.6 396.2 333.2 406.1 336.7 437.4 340.3 60.7 343.9 74.5 347.4 76.6 351.0 91.0 354.5 95.8 358.1 123.4 361.6 141.7 365.2 155.0 368.7 163.3 372.3 169.7 375.8 182.9 379.4 200.4 382.9 213.3 386.5 229.1 390.0 234.9 393.6 253.2 397.2 260.3 400.7 277.9 404.3 291.7 407.8 295.8 411.4 318.2 414.9 340.9 418.5 353.9 422.0 368.4 425.6 383.7 429.1 394.1 432.7 413.9 436.2 437.2 439.8 75.3 443.4 88.2 446.9 96.3"/><path d="M95.1 261.5 98.6 283.2 102.2 297.6 105.8 313.6 109.3 327.2 112.9 349.8 116.4 369.3 120.0 387.1 123.5 403.5 127.1 416.7 130.6 420.1 134.2 438.8 137.7 63.0 141.3 83.6 144.8 93.5 148.4 105.7 152.0 116.8 155.5 121.8 159.1 139.1 162.6 157.6 166.2 170.1 169.7 186.6 173.3 199.8 176.8 209.9 180.4 223.7 183.9 238.2 187.5 253.4 191.0 267.0 194.6 283.4 198.1 287.7 201.7 293.5 205.3 301.6 208.8 321.6 212.4 333.0 215.9 347.0 219.5 365.5 223.0 383.5 226.6 391.4 230.1 402.4 233.7 416.1 237.2 470.2 240.8 64.4 244.3 80.1 247.9 97.0 251.5 108.8 255.0 120.4 258.6 129.7 262.1 142.6 265.7 159.9 269.2 180.4 272.8 196.1 276.3 220.6 279.9 236.5 283.4 248.3 287.0 267.7 290.5 292.5 294.1 311.6 297.7 325.0 301.2 329.8 304.8 340.8 308.3 356.2 311.9 363.5 315.4 371.3 319.0 379.1 322.5 383.7 326.1 390.1 329.6 402.8 333.2 423.5 336.7 455.9 340.3 80.5 343.9 97.5 347.4 104.2 351.0 115.6 354.5 115.6 358.1 121.1 361.6 144.1 365.2 156.9 368.7 165.9 372.3 178.1 375.8 184.1 379.4 192.7 382.9 205.5 386.5 222.9 390.0 224.0 393.6 231.4 397.2 241.1 400.7 255.8 404.3 276.4 407.8 300.3 411.4 313.0 414.9 337.2 418.5 340.3 422.0 355.5 425.6 362.6 429.1 382.1 432.7 399.8 436.2 409.8 439.8 424.1 443.4 438.0 446.9 72.5"/><path d="M95.1 261.5 98.6 284.1 102.2 298.1 105.8 312.9 109.3 326.0 112.9 336.8 116.4 341.8 120.0 356.4 123.5 369.1 127.1 385.4 130.6 396.3 134.2 406.3 137.7 419.5 141.3 431.5 144.8 452.2 148.4 64.9 152.0 79.2 155.5 96.5 159.1 110.1 162.6 128.5 166.2 147.9 169.7 168.4 173.3 182.3 176.8 199.6 180.4 214.9 183.9 229.6 187.5 241.4 191.0 252.2 194.6 270.8 198.1 276.9 201.7 290.0 205.3 304.8 208.8 316.5 212.4 335.3 215.9 353.9 219.5 369.1 223.0 378.3 226.6 395.2 230.1 408.5 233.7 421.2 237.2 466.5 240.8 67.2 244.3 84.3 247.9 96.4 251.5 114.8 255.0 127.7 258.6 142.8 262.1 152.0 265.7 170.8 269.2 179.8 272.8 194.0 276.3 204.7 279.9 215.3 283.4 232.6 287.0 244.8 290.5 260.5 294.1 279.8 297.7 283.2 301.2 300.6 304.8 302.4 308.3 315.9 311.9 318.8 315.4 325.3 319.0 341.9 322.5 354.1 326.1 363.7 329.6 373.9 333.2 380.8 336.7 385.9 340.3 397.3 343.9 405.3 347.4 415.8 351.0 444.2 354.5 58.1 358.1 72.3 361.6 81.3 365.2 103.5 368.7 106.8 372.3 119.4 375.8 137.1 379.4 131.9 382.9 137.9 386.5 152.0 390.0 171.5 393.6 183.5 397.2 188.0 400.7 205.2 404.3 216.1 407.8 230.4 411.4 244.4 414.9 258.4 418.5 267.8 422.0 284.5 425.6 283.6 429.1 299.2 432.7 306.9 436.2 328.9 439.8 344.0 443.4 365.2 446.9 378.7"/><path d="M95.1 261.5 98.6 286.2 102.2 299.8 105.8 314.5 109.3 328.4 112.9 339.5 116.4 353.9 120.0 372.3 123.5 389.1 127.1 404.7 130.6 421.6 134.2 448.5 137.7 60.6 141.3 80.3 144.8 94.0 148.4 109.5 152.0 120.9 155.5 132.6 159.1 143.5 162.6 159.1 166.2 180.5 169.7 193.7 173.3 199.7 176.8 215.8 180.4 226.8 183.9 239.1 187.5 254.2 191.0 271.9 194.6 277.6 198.1 292.4 201.7 300.9 205.3 315.3 208.8 327.5 212.4 342.0 215.9 353.6 219.5 368.2 223.0 389.0 226.6 408.2 230.1 418.2 233.7 426.1 237.2 443.6 240.8 68.0 244.3 83.9 247.9 94.2 251.5 110.2 255.0 126.4 258.6 138.5 262.1 154.1 265.7 164.8 269.2 182.0 272.8 187.7 276.3 193.4 279.9 210.7 283.4 218.8 287.0 224.7 290.5 236.2 294.1 245.3 297.7 249.0 301.2 257.6 304.8 278.2 308.3 296.7 311.9 311.1 315.4 325.5 319.0 332.6 322.5 345.0 326.1 358.1 329.6 367.0 333.2 380.6 336.7 385.9 340.3 406.1 343.9 421.1 347.4 427.1 351.0 434.5 354.5 439.6 358.1 63.3 361.6 81.7 365.2 92.1 368.7 113.3 372.3 130.7 375.8 143.0 379.4 147.6 382.9 143.6 386.5 148.4 390.0 155.4 393.6 169.7 397.2 179.2 400.7 195.6 404.3 210.8 407.8 214.1 411.4 228.2 414.9 236.4 418.5 247.6 422.0 258.4 425.6 266.6 429.1 275.3 432.7 286.4 436.2 292.1 439.8 290.3 443.4 310.4 446.9 313.3"/><path d="M95.1 261.5 98.6 292.7 102.2 306.3 105.8 320.3 109.3 333.7 112.9 344.7 116.4 355.9 120.0 372.2 123.5 380.6 127.1 400.5 130.6 421.3 134.2 436.5 137.7 65.7 141.3 88.6 144.8 104.5 148.4 115.2 152.0 129.6 155.5 144.0 159.1 156.2 162.6 168.2 166.2 181.8 169.7 196.4 173.3 207.5 176.8 228.6 180.4 243.7 183.9 262.6 187.5 278.6 191.0 288.3 194.6 307.0 198.1 320.3 201.7 330.1 205.3 349.8 208.8 360.9 212.4 372.5 215.9 379.4 219.5 392.1 223.0 403.6 226.6 421.6 230.1 427.2 233.7 453.3 237.2 77.3 240.8 92.1 244.3 105.2 247.9 110.6 251.5 123.4 255.0 134.8 258.6 147.3 262.1 157.3 265.7 172.9 269.2 188.6 272.8 195.1 276.3 207.8 279.9 217.0 283.4 227.1 287.0 239.5 290.5 256.9 294.1 277.9 297.7 300.1 301.2 312.6 304.8 318.4 308.3 327.3 311.9 341.5 315.4 346.5 319.0 364.3 322.5 373.1 326.1 366.3 329.6 382.3 333.2 391.5 336.7 392.5 340.3 397.3 343.9 408.6 347.4 413.8 351.0 419.5 354.5 439.6 358.1 69.1 361.6 82.8 365.2 92.7 368.7 123.9 372.3 141.7 375.8 143.7 379.4 162.2 382.9 176.6 386.5 193.1 390.0 202.7 393.6 208.4 397.2 220.6 400.7 234.3 404.3 247.6 407.8 255.3 411.4 266.5 414.9 276.2 418.5 289.7 422.0 299.6 425.6 302.9 429.1 314.6 432.7 315.0 436.2 323.6 439.8 340.9 443.4 354.5 446.9 371.5"/><path d="M95.1 261.5 98.6 282.8 102.2 299.0 105.8 310.5 109.3 327.7 112.9 346.1 116.4 359.7 120.0 377.4 123.5 394.6 127.1 401.8 130.6 413.5 134.2 427.1 137.7 441.6 141.3 77.2 144.8 95.8 148.4 111.9 152.0 127.6 155.5 147.8 159.1 163.3 162.6 177.9 166.2 190.2 169.7 211.5 173.3 226.1 176.8 235.7 180.4 258.2 183.9 269.6 187.5 284.3 191.0 299.0 194.6 308.5 198.1 320.5 201.7 335.4 205.3 354.0 208.8 373.3 212.4 387.9 215.9 400.1 219.5 418.2 223.0 433.3 226.6 57.2 230.1 73.3 233.7 77.6 237.2 82.2 240.8 91.0 244.3 102.1 247.9 111.1 251.5 116.1 255.0 131.5 258.6 143.1 262.1 159.2 265.7 173.5 269.2 184.8 272.8 193.8 276.3 208.3 279.9 226.5 283.4 236.9 287.0 254.7 290.5 265.6 294.1 272.9 297.7 291.6 301.2 293.8 304.8 310.5 308.3 327.5 311.9 349.6 315.4 364.4 319.0 365.6 322.5 363.5 326.1 374.3 329.6 382.4 333.2 394.6 336.7 397.9 340.3 411.8 343.9 428.3 347.4 430.8 351.0 451.9 354.5 68.1 358.1 94.2 361.6 100.9 365.2 114.0 368.7 123.8 372.3 136.4 375.8 147.9 379.4 171.6 382.9 181.9 386.5 182.3 390.0 192.6 393.6 211.0 397.2 235.5 400.7 243.5 404.3 265.8 407.8 270.6 411.4 283.2 414.9 291.6 418.5 295.5 422.0 306.8 425.6 322.5 429.1 332.4 432.7 337.2 436.2 353.3 439.8 368.9 443.4 378.3 446.9 386.2"/><path d="M95.1 261.5 98.6 289.8 102.2 303.1 105.8 316.5 109.3 333.3 112.9 345.1 116.4 352.4 120.0 367.3 123.5 378.7 127.1 392.9 130.6 397.5 134.2 411.0 137.7 422.0 141.3 433.8 144.8 58.5 148.4 79.5 152.0 89.4 155.5 102.3 159.1 113.9 162.6 133.2 166.2 147.5 169.7 167.1 173.3 184.1 176.8 200.3 180.4 209.7 183.9 221.0 187.5 233.9 191.0 243.2 194.6 258.6 198.1 270.9 201.7 285.9 205.3 299.2 208.8 312.9 212.4 323.1 215.9 336.3 219.5 349.7 223.0 362.8 226.6 383.3 230.1 391.0 233.7 409.9 237.2 426.4 240.8 464.1 244.3 71.6 247.9 88.4 251.5 105.0 255.0 118.0 258.6 135.4 262.1 148.4 265.7 164.5 269.2 177.9 272.8 188.4 276.3 196.8 279.9 205.5 283.4 220.6 287.0 238.3 290.5 248.6 294.1 265.7 297.7 268.1 301.2 286.1 304.8 304.4 308.3 317.0 311.9 340.5 315.4 346.3 319.0 358.5 322.5 374.6 326.1 392.4 329.6 408.4 333.2 426.9 336.7 436.3 340.3 445.2 343.9 64.6 347.4 91.0 351.0 105.7 354.5 103.4 358.1 109.5 361.6 129.0 365.2 144.5 368.7 154.0 372.3 166.6 375.8 180.2 379.4 188.3 382.9 193.5 386.5 203.0 390.0 217.4 393.6 228.9 397.2 241.7 400.7 258.3 404.3 261.0 407.8 277.1 411.4 292.2 414.9 315.2 418.5 333.5 422.0 347.4 425.6 360.0 429.1 369.1 432.7 388.0 436.2 407.0 439.8 410.6 443.4 423.4 446.9 438.5"/><path d="M95.1 261.5 98.6 289.6 102.2 307.0 105.8 325.9 109.3 338.6 112.9 353.9 116.4 374.0 120.0 389.1 123.5 408.4 127.1 421.0 130.6 434.2 134.2 72.9 137.7 89.4 141.3 112.5 144.8 125.6 148.4 137.8 152.0 149.5 155.5 166.2 159.1 176.7 162.6 190.5 166.2 201.2 169.7 215.7 173.3 232.1 176.8 246.2 180.4 261.4 183.9 272.0 187.5 285.0 191.0 295.0 194.6 311.1 198.1 328.8 201.7 343.8 205.3 350.9 208.8 371.2 212.4 382.6 215.9 398.0 219.5 409.1 223.0 413.8 226.6 421.4 230.1 430.9 233.7 66.2 237.2 83.6 240.8 91.4 244.3 100.8 247.9 115.1 251.5 126.8 255.0 140.5 258.6 151.4 262.1 160.7 265.7 164.4 269.2 181.4 272.8 191.6 276.3 196.3 279.9 208.1 283.4 223.8 287.0 245.3 290.5 256.2 294.1 268.6 297.7 270.4 301.2 278.7 304.8 299.5 308.3 303.5 311.9 315.3 315.4 321.4 319.0 330.0 322.5 342.8 326.1 357.4 329.6 388.9 333.2 403.6 336.7 412.8 340.3 414.0 343.9 421.0 347.4 440.6 351.0 61.7 354.5 77.7 358.1 97.7 361.6 109.5 365.2 121.6 368.7 131.3 372.3 154.6 375.8 169.8 379.4 177.4 382.9 196.6 386.5 208.7 390.0 227.3 393.6 232.5 397.2 235.2 400.7 238.9 404.3 249.1 407.8 261.9 411.4 286.0 414.9 306.8 418.5 317.2 422.0 336.9 425.6 358.3 429.1 362.2 432.7 375.0 436.2 388.3 439.8 401.8 443.4 408.6 446.9 422.4"/><path d="M95.1 261.5 98.6 289.1 102.2 304.4 105.8 319.3 109.3 332.9 112.9 350.8 116.4 365.3 120.0 376.9 123.5 386.9 127.1 397.0 130.6 411.2 134.2 419.3 137.7 445.3 141.3 67.4 144.8 90.0 148.4 102.9 152.0 109.3 155.5 124.9 159.1 137.3 162.6 142.0 166.2 149.5 169.7 161.2 173.3 177.6 176.8 195.2 180.4 219.0 183.9 231.1 187.5 246.0 191.0 259.4 194.6 271.3 198.1 291.5 201.7 303.1 205.3 319.1 208.8 334.2 212.4 346.1 215.9 357.0 219.5 370.5 223.0 380.3 226.6 394.5 230.1 410.0 233.7 419.2 237.2 438.0 240.8 60.9 244.3 64.9 247.9 75.6 251.5 93.8 255.0 101.0 258.6 124.0 262.1 140.4 265.7 156.5 269.2 178.2 272.8 187.5 276.3 194.7 279.9 198.9 283.4 208.1 287.0 228.1 290.5 238.9 294.1 243.5 297.7 251.9 301.2 263.6 304.8 275.6 308.3 290.4 311.9 306.0 315.4 323.0 319.0 328.3 322.5 340.2 326.1 345.2 329.6 363.9 333.2 389.7 336.7 406.0 340.3 411.9 343.9 416.1 347.4 420.6 351.0 470.2 354.5 61.8 358.1 76.2 361.6 82.4 365.2 95.1 368.7 101.1 372.3 109.9 375.8 127.1 379.4 140.7 382.9 159.1 386.5 170.8 390.0 175.4 393.6 191.1 397.2 197.2 400.7 212.7 404.3 222.1 407.8 244.9 411.4 256.1 414.9 258.6 418.5 265.7 422.0 279.9 425.6 289.6 429.1 298.2 432.7 307.6 436.2 317.5 439.8 333.9 443.4 349.3 446.9 358.0"/><path d="M95.1 261.5 98.6 289.2 102.2 302.9 105.8 317.8 109.3 332.9 112.9 342.5 116.4 351.8 120.0 366.9 123.5 383.5 127.1 397.7 130.6 418.0 134.2 436.7 137.7 59.7 141.3 79.6 144.8 94.1 148.4 106.6 152.0 125.4 155.5 140.9 159.1 154.2 162.6 168.5 166.2 180.5 169.7 193.0 173.3 217.3 176.8 229.3 180.4 243.3 183.9 252.7 187.5 266.5 191.0 286.0 194.6 298.9 198.1 320.1 201.7 336.5 205.3 346.3 208.8 363.2 212.4 375.5 215.9 391.8 219.5 404.9 223.0 423.2 226.6 437.8 230.1 60.4 233.7 72.7 237.2 83.3 240.8 91.8 244.3 103.8 247.9 122.6 251.5 132.1 255.0 146.6 258.6 156.4 262.1 167.8 265.7 179.0 269.2 186.0 272.8 195.0 276.3 212.7 279.9 236.9 283.4 250.8 287.0 260.9 290.5 266.9 294.1 282.3 297.7 299.8 301.2 312.8 304.8 319.3 308.3 334.9 311.9 350.1 315.4 364.3 319.0 374.2 322.5 383.6 326.1 399.9 329.6 411.6 333.2 429.9 336.7 447.6 340.3 76.1 343.9 79.7 347.4 83.9 351.0 94.9 354.5 113.5 358.1 127.5 361.6 131.7 365.2 135.9 368.7 155.8 372.3 171.0 375.8 185.0 379.4 196.4 382.9 198.7 386.5 211.7 390.0 227.3 393.6 235.6 397.2 248.3 400.7 261.4 404.3 271.1 407.8 292.6 411.4 308.6 414.9 317.7 418.5 326.6 422.0 335.3 425.6 355.6 429.1 376.2 432.7 392.8 436.2 409.9 439.8 421.6 443.4 434.9 446.9 62.4"/><path d="M95.1 261.5 98.6 281.9 102.2 295.9 105.8 308.9 109.3 319.6 112.9 334.9 116.4 352.4 120.0 364.2 123.5 377.5 127.1 390.4 130.6 399.4 134.2 414.0 137.7 422.3 141.3 433.0 144.8 67.4 148.4 92.2 152.0 109.8 155.5 116.2 159.1 135.7 162.6 145.8 166.2 156.1 169.7 174.1 173.3 200.7 176.8 217.8 180.4 227.0 183.9 237.2 187.5 246.8 191.0 260.1 194.6 281.0 198.1 291.3 201.7 304.4 205.3 317.6 208.8 333.1 212.4 357.1 215.9 370.9 219.5 383.7 223.0 398.0 226.6 402.3 230.1 422.4 233.7 434.4 237.2 61.2 240.8 78.3 244.3 87.3 247.9 105.1 251.5 124.5 255.0 132.9 258.6 147.6 262.1 160.0 265.7 165.2 269.2 180.9 272.8 194.2 276.3 200.4 279.9 207.0 283.4 214.0 287.0 228.5 290.5 241.3 294.1 252.8 297.7 267.1 301.2 277.6 304.8 277.5 308.3 289.0 311.9 295.1 315.4 313.5 319.0 334.1 322.5 350.3 326.1 357.9 329.6 375.5 333.2 398.4 336.7 417.5 340.3 435.0 343.9 60.6 347.4 81.2 351.0 90.1 354.5 115.6 358.1 131.7 361.6 142.0 365.2 159.4 368.7 169.4 372.3 184.7 375.8 200.3 379.4 227.4 382.9 238.5 386.5 248.0 390.0 257.1 393.6 273.3 397.2 297.5 400.7 305.4 404.3 308.6 407.8 317.7 411.4 330.2 414.9 342.4 418.5 359.2 422.0 359.3 425.6 374.6 429.1 388.1 432.7 404.7 436.2 401.4 439.8 420.1 443.4 430.8 446.9 436.7"/><path d="M95.1 261.5 98.6 287.4 102.2 300.5 105.8 319.8 109.3 333.5 112.9 344.1 116.4 357.7 120.0 369.9 123.5 383.7 127.1 399.8 130.6 413.4 134.2 427.1 137.7 442.8 141.3 63.5 144.8 82.3 148.4 97.0 152.0 115.1 155.5 129.9 159.1 141.4 162.6 158.8 166.2 168.4 169.7 183.3 173.3 205.7 176.8 221.9 180.4 231.1 183.9 246.2 187.5 258.4 191.0 269.5 194.6 281.1 198.1 294.4 201.7 306.6 205.3 326.1 208.8 336.6 212.4 349.6 215.9 361.0 219.5 377.2 223.0 386.5 226.6 398.6 230.1 410.6 233.7 420.9 237.2 436.7 240.8 61.9 244.3 82.5 247.9 94.4 251.5 102.3 255.0 118.3 258.6 131.6 262.1 148.7 265.7 157.4 269.2 175.9 272.8 195.0 276.3 204.7 279.9 221.8 283.4 227.2 287.0 242.4 290.5 265.7 294.1 274.7 297.7 279.6 301.2 298.8 304.8 317.6 308.3 336.9 311.9 351.8 315.4 365.7 319.0 379.7 322.5 393.7 326.1 414.9 329.6 419.3 333.2 427.6 336.7 67.7 340.3 87.1 343.9 86.4 347.4 107.5 351.0 122.3 354.5 126.4 358.1 131.7 361.6 144.2 365.2 156.8 368.7 179.8 372.3 180.5 375.8 192.0 379.4 212.5 382.9 236.4 386.5 253.1 390.0 259.3 393.6 274.2 397.2 300.2 400.7 314.9 404.3 322.1 407.8 329.2 411.4 339.2 414.9 353.3 418.5 371.8 422.0 383.8 425.6 406.7 429.1 424.7 432.7 59.7 436.2 71.4 439.8 90.0 443.4 106.9 446.9 117.2"/><path d="M95.1 261.5 98.6 282.3 102.2 297.6 105.8 311.8 109.3 332.1 112.9 345.9 116.4 362.3 120.0 380.2 123.5 398.8 127.1 416.8 130.6 440.6 134.2 60.6 137.7 67.4 141.3 78.4 144.8 95.1 148.4 106.4 152.0 118.8 155.5 132.9 159.1 144.6 162.6 158.2 166.2 168.3 169.7 185.6 173.3 203.6 176.8 214.4 180.4 229.2 183.9 229.9 187.5 245.8 191.0 255.7 194.6 268.4 198.1 281.1 201.7 300.4 205.3 312.9 208.8 331.9 212.4 342.8 215.9 349.3 219.5 363.5 223.0 379.0 226.6 397.8 230.1 415.4 233.7 434.9 237.2 442.8 240.8 66.8 244.3 87.1 247.9 99.4 251.5 111.6 255.0 120.5 258.6 131.6 262.1 148.4 265.7 162.9 269.2 180.3 272.8 194.6 276.3 219.2 279.9 221.1 283.4 232.2 287.0 248.2 290.5 252.6 294.1 264.1 297.7 281.2 301.2 300.5 304.8 308.0 308.3 321.9 311.9 340.9 315.4 349.7 319.0 360.8 322.5 371.6 326.1 378.5 329.6 387.3 333.2 404.2 336.7 417.9 340.3 419.8 343.9 470.2 347.4 70.0 351.0 71.3 354.5 85.7 358.1 97.2 361.6 106.7 365.2 125.8 368.7 134.6 372.3 144.1 375.8 140.8 379.4 154.8 382.9 159.6 386.5 175.7 390.0 188.0 393.6 197.8 397.2 206.3 400.7 220.1 404.3 232.1 407.8 256.9 411.4 268.5 414.9 281.8 418.5 291.0 422.0 301.6 425.6 309.0 429.1 327.2 432.7 344.0 436.2 359.6 439.8 373.3 443.4 380.0 446.9 396.7"/><path d="M95.1 261.5 98.6 287.1 102.2 302.7 105.8 317.0 109.3 330.6 112.9 349.5 116.4 367.2 120.0 386.7 123.5 406.0 127.1 420.9 130.6 430.1 134.2 450.9 137.7 69.2 141.3 80.6 144.8 95.1 148.4 101.7 152.0 112.0 155.5 126.0 159.1 145.2 162.6 156.4 166.2 173.7 169.7 176.2 173.3 193.7 176.8 201.6 180.4 214.4 183.9 227.4 187.5 245.6 191.0 250.6 194.6 262.3 198.1 278.4 201.7 291.6 205.3 300.7 208.8 310.3 212.4 320.0 215.9 344.6 219.5 359.5 223.0 375.6 226.6 392.0 230.1 409.3 233.7 428.9 237.2 60.0 240.8 69.1 244.3 74.2 247.9 85.8 251.5 104.2 255.0 121.5 258.6 129.5 262.1 149.0 265.7 169.7 269.2 180.9 272.8 189.7 276.3 192.6 279.9 194.3 283.4 206.0 287.0 220.1 290.5 221.3 294.1 226.3 297.7 249.6 301.2 252.3 304.8 267.8 308.3 278.6 311.9 286.9 315.4 293.8 319.0 309.4 322.5 336.1 326.1 357.7 329.6 377.5 333.2 389.6 336.7 409.6 340.3 422.2 343.9 446.4 347.4 61.8 351.0 75.9 354.5 93.5 358.1 105.4 361.6 120.6 365.2 136.0 368.7 151.2 372.3 166.6 375.8 175.6 379.4 189.9 382.9 201.6 386.5 206.5 390.0 223.8 393.6 235.1 397.2 239.6 400.7 262.3 404.3 265.6 407.8 286.7 411.4 299.2 414.9 319.2 418.5 330.4 422.0 339.8 425.6 356.3 429.1 368.5 432.7 378.8 436.2 400.7 439.8 407.6 443.4 413.4 446.9 430.9"/><path d="M95.1 261.5 98.6 294.1 102.2 309.4 105.8 324.3 109.3 339.0 112.9 346.9 116.4 356.7 120.0 373.1 123.5 385.8 127.1 395.0 130.6 402.9 134.2 426.7 137.7 450.6 141.3 68.5 144.8 83.8 148.4 107.2 152.0 126.8 155.5 141.0 159.1 156.1 162.6 169.3 166.2 177.4 169.7 195.5 173.3 215.1 176.8 237.2 180.4 238.9 183.9 251.7 187.5 269.5 191.0 282.0 194.6 296.7 198.1 304.4 201.7 328.7 205.3 341.8 208.8 356.3 212.4 368.9 215.9 378.6 219.5 395.4 223.0 401.8 226.6 412.2 230.1 443.5 233.7 59.7 237.2 69.7 240.8 86.8 244.3 95.4 247.9 112.6 251.5 125.5 255.0 130.9 258.6 140.2 262.1 158.7 265.7 171.6 269.2 187.3 272.8 194.9 276.3 201.9 279.9 215.5 283.4 232.6 287.0 252.1 290.5 263.5 294.1 273.1 297.7 288.4 301.2 296.9 304.8 300.7 308.3 312.8 311.9 329.6 315.4 342.2 319.0 355.4 322.5 366.0 326.1 378.6 329.6 384.1 333.2 391.4 336.7 411.5 340.3 419.2 343.9 433.5 347.4 437.5 351.0 443.9 354.5 60.0 358.1 67.6 361.6 82.4 365.2 96.5 368.7 101.5 372.3 112.5 375.8 119.6 379.4 133.4 382.9 145.5 386.5 160.4 390.0 179.2 393.6 197.2 397.2 212.9 400.7 234.2 404.3 232.9 407.8 241.4 411.4 258.0 414.9 267.9 418.5 289.4 422.0 302.7 425.6 316.2 429.1 323.3 432.7 343.3 436.2 359.3 439.8 371.3 443.4 386.3 446.9 399.5"/><path d="M95.1 261.5 98.6 285.7 102.2 300.4 105.8 314.6 109.3 333.3 112.9 346.7 116.4 364.5 120.0 378.6 123.5 396.1 127.1 407.7 130.6 427.4 134.2 453.0 137.7 66.1 141.3 82.8 144.8 92.4 148.4 105.4 152.0 117.6 155.5 136.5 159.1 153.8 162.6 167.2 166.2 176.3 169.7 189.7 173.3 200.8 176.8 212.3 180.4 226.6 183.9 245.4 187.5 263.9 191.0 279.9 194.6 293.9 198.1 304.8 201.7 319.9 205.3 337.3 208.8 347.8 212.4 361.6 215.9 365.3 219.5 377.7 223.0 387.4 226.6 400.0 230.1 413.2 233.7 424.3 237.2 433.4 240.8 61.4 244.3 80.8 247.9 96.9 251.5 103.5 255.0 111.7 258.6 126.6 262.1 141.4 265.7 159.0 269.2 180.2 272.8 189.5 276.3 196.4 279.9 209.2 283.4 228.5 287.0 225.7 290.5 253.3 294.1 269.7 297.7 274.6 301.2 288.3 304.8 291.5 308.3 302.1 311.9 316.9 315.4 317.9 319.0 327.0 322.5 339.6 326.1 348.1 329.6 355.1 333.2 365.8 336.7 378.2 340.3 387.2 343.9 409.3 347.4 436.8 351.0 61.3 354.5 62.2 358.1 74.4 361.6 81.0 365.2 92.0 368.7 103.1 372.3 120.8 375.8 123.5 379.4 136.9 382.9 144.6 386.5 160.2 390.0 178.9 393.6 180.4 397.2 185.9 400.7 199.1 404.3 213.9 407.8 233.5 411.4 233.6 414.9 246.5 418.5 256.9 422.0 268.1 425.6 295.3 429.1 302.3 432.7 314.4 436.2 321.2 439.8 332.3 443.4 335.8 446.9 347.9"/><path d="M95.1 261.5 98.6 284.8 102.2 298.6 105.8 313.9 109.3 328.6 112.9 333.8 116.4 347.7 120.0 367.4 123.5 388.0 127.1 398.7 130.6 418.7 134.2 449.4 137.7 70.3 141.3 88.6 144.8 103.2 148.4 116.3 152.0 132.0 155.5 139.0 159.1 147.6 162.6 154.3 166.2 167.1 169.7 184.9 173.3 194.6 176.8 211.6 180.4 225.0 183.9 235.4 187.5 250.7 191.0 262.9 194.6 283.8 198.1 298.1 201.7 304.9 205.3 319.7 208.8 340.3 212.4 346.8 215.9 360.1 219.5 376.9 223.0 393.2 226.6 403.5 230.1 410.2 233.7 418.0 237.2 422.4 240.8 434.8 244.3 61.5 247.9 84.5 251.5 92.1 255.0 110.4 258.6 118.9 262.1 136.2 265.7 153.4 269.2 167.2 272.8 188.4 276.3 208.1 279.9 215.4 283.4 231.2 287.0 247.3 290.5 262.8 294.1 269.7 297.7 290.4 301.2 312.5 304.8 322.2 308.3 331.9 311.9 343.1 315.4 356.3 319.0 368.5 322.5 377.8 326.1 381.0 329.6 387.7 333.2 400.5 336.7 412.1 340.3 434.9 343.9 57.7 347.4 69.8 351.0 82.4 354.5 103.5 358.1 119.7 361.6 132.1 365.2 136.7 368.7 139.6 372.3 153.6 375.8 163.0 379.4 164.6 382.9 170.9 386.5 178.2 390.0 194.4 393.6 207.0 397.2 213.1 400.7 227.5 404.3 230.8 407.8 243.9 411.4 250.9 414.9 255.7 418.5 271.5 422.0 279.9 425.6 294.4 429.1 311.2 432.7 328.7 436.2 344.5 439.8 359.6 443.4 368.6 446.9 378.8"/><path d="M95.1 261.5 98.6 290.4 102.2 303.3 105.8 320.8 109.3 338.7 112.9 352.9 116.4 365.9 120.0 376.2 123.5 390.8 127.1 401.9 130.6 408.9 134.2 417.2 137.7 458.0 141.3 69.8 144.8 80.3 148.4 92.4 152.0 104.4 155.5 119.9 159.1 130.6 162.6 144.5 166.2 165.2 169.7 180.7 173.3 191.9 176.8 198.3 180.4 218.0 183.9 237.7 187.5 242.2 191.0 263.1 194.6 282.9 198.1 302.1 201.7 317.5 205.3 329.4 208.8 341.6 212.4 359.4 215.9 370.4 219.5 389.9 223.0 402.9 226.6 421.0 230.1 453.0 233.7 66.8 237.2 86.2 240.8 96.1 244.3 105.4 247.9 116.4 251.5 124.0 255.0 133.7 258.6 141.6 262.1 156.0 265.7 168.7 269.2 182.0 272.8 190.9 276.3 209.8 279.9 222.1 283.4 233.2 287.0 259.0 290.5 266.4 294.1 288.1 297.7 296.9 301.2 313.3 304.8 332.2 308.3 350.2 311.9 359.8 315.4 368.1 319.0 386.4 322.5 395.9 326.1 403.5 329.6 411.8 333.2 432.5 336.7 56.9 340.3 74.4 343.9 88.0 347.4 100.0 351.0 106.9 354.5 120.7 358.1 130.2 361.6 139.1 365.2 147.0 368.7 152.7 372.3 172.6 375.8 187.2 379.4 195.5 382.9 205.7 386.5 212.6 390.0 228.4 393.6 230.4 397.2 239.6 400.7 250.2 404.3 264.5 407.8 284.8 411.4 302.1 414.9 319.1 418.5 327.3 422.0 343.1 425.6 360.3 429.1 378.1 432.7 398.4 436.2 402.9 439.8 412.0 443.4 420.9 446.9 431.2"/><path d="M95.1 261.5 98.6 289.0 102.2 301.8 105.8 321.0 109.3 332.0 112.9 350.2 116.4 362.2 120.0 383.6 123.5 394.3 127.1 409.5 130.6 426.2 134.2 452.6 137.7 65.9 141.3 77.4 144.8 92.9 148.4 103.4 152.0 115.2 155.5 137.8 159.1 145.4 162.6 164.5 166.2 183.6 169.7 200.0 173.3 210.1 176.8 230.4 180.4 240.2 183.9 246.7 187.5 255.5 191.0 268.1 194.6 285.0 198.1 295.2 201.7 302.4 205.3 311.0 208.8 323.6 212.4 340.9 215.9 358.0 219.5 377.7 223.0 385.6 226.6 398.8 230.1 415.1 233.7 450.7 237.2 62.4 240.8 78.8 244.3 94.9 247.9 103.9 251.5 113.4 255.0 122.5 258.6 132.8 262.1 144.7 265.7 158.4 269.2 172.5 272.8 192.0 276.3 197.9 279.9 200.2 283.4 210.5 287.0 228.8 290.5 235.6 294.1 257.4 297.7 260.7 301.2 276.2 304.8 285.1 308.3 293.3 311.9 310.4 315.4 326.9 319.0 334.3 322.5 345.2 326.1 346.4 329.6 362.2 333.2 386.8 336.7 396.9 340.3 414.0 343.9 449.1 347.4 68.1 351.0 73.1 354.5 83.8 358.1 89.5 361.6 109.0 365.2 120.3 368.7 120.9 372.3 127.7 375.8 136.5 379.4 144.1 382.9 157.8 386.5 166.0 390.0 179.2 393.6 186.9 397.2 204.1 400.7 217.3 404.3 224.1 407.8 221.1 411.4 228.9 414.9 238.3 418.5 250.7 422.0 261.6 425.6 267.5 429.1 279.1 432.7 293.8 436.2 299.1 439.8 299.5 443.4 314.3 446.9 308.6"/><path d="M95.1 261.5 98.6 287.5 102.2 300.7 105.8 314.4 109.3 332.4 112.9 342.4 116.4 360.6 120.0 373.6 123.5 382.4 127.1 391.3 130.6 409.3 134.2 422.7 137.7 442.5 141.3 65.4 144.8 82.4 148.4 97.5 152.0 112.3 155.5 132.9 159.1 150.4 162.6 164.1 166.2 180.2 169.7 193.4 173.3 207.2 176.8 219.4 180.4 231.1 183.9 248.9 187.5 262.9 191.0 280.5 194.6 292.1 198.1 308.4 201.7 321.9 205.3 336.3 208.8 358.4 212.4 369.3 215.9 381.7 219.5 389.1 223.0 403.7 226.6 418.1 230.1 439.6 233.7 58.3 237.2 67.3 240.8 80.3 244.3 93.1 247.9 107.2 251.5 121.7 255.0 136.0 258.6 144.8 262.1 154.7 265.7 169.5 269.2 177.6 272.8 189.9 276.3 213.5 279.9 220.3 283.4 226.9 287.0 239.7 290.5 252.6 294.1 262.8 297.7 278.4 301.2 292.4 304.8 307.0 308.3 311.2 311.9 320.1 315.4 332.3 319.0 345.4 322.5 358.8 326.1 378.5 329.6 383.0 333.2 393.4 336.7 406.1 340.3 423.9 343.9 440.2 347.4 61.2 351.0 70.3 354.5 83.1 358.1 89.8 361.6 98.8 365.2 107.6 368.7 120.2 372.3 130.6 375.8 147.6 379.4 161.1 382.9 165.6 386.5 171.7 390.0 186.2 393.6 203.3 397.2 230.1 400.7 239.0 404.3 244.6 407.8 254.8 411.4 262.7 414.9 273.5 418.5 285.5 422.0 304.0 425.6 311.8 429.1 335.2 432.7 348.2 436.2 367.9 439.8 379.1 443.4 398.8 446.9 416.2"/><path d="M95.1 261.5 98.6 287.3 102.2 302.7 105.8 317.1 109.3 336.2 112.9 349.1 116.4 356.8 120.0 365.9 123.5 380.4 127.1 391.7 130.6 410.4 134.2 418.1 137.7 446.5 141.3 63.8 144.8 85.2 148.4 98.9 152.0 111.9 155.5 130.5 159.1 142.9 162.6 156.1 166.2 169.9 169.7 185.0 173.3 199.7 176.8 217.3 180.4 227.1 183.9 244.2 187.5 256.4 191.0 269.5 194.6 284.0 198.1 302.0 201.7 319.5 205.3 336.4 208.8 350.4 212.4 362.5 215.9 374.2 219.5 393.1 223.0 403.5 226.6 415.6 230.1 428.7 233.7 445.5 237.2 66.5 240.8 81.6 244.3 92.1 247.9 107.2 251.5 119.2 255.0 135.5 258.6 150.2 262.1 159.4 265.7 169.9 269.2 182.1 272.8 193.1 276.3 204.4 279.9 221.9 283.4 242.5 287.0 251.7 290.5 271.2 294.1 290.3 297.7 315.7 301.2 322.7 304.8 330.1 308.3 344.3 311.9 360.3 315.4 374.0 319.0 385.2 322.5 403.2 326.1 416.4 329.6 443.1 333.2 64.5 336.7 65.2 340.3 73.0 343.9 85.5 347.4 96.2 351.0 99.9 354.5 110.1 358.1 125.1 361.6 136.2 365.2 147.1 368.7 155.6 372.3 172.8 375.8 193.0 379.4 203.4 382.9 220.2 386.5 214.9 390.0 228.8 393.6 237.2 397.2 247.1 400.7 261.2 404.3 276.2 407.8 302.2 411.4 317.7 414.9 318.7 418.5 332.2 422.0 343.0 425.6 347.9 429.1 361.2 432.7 376.3 436.2 377.6 439.8 390.1 443.4 404.7 446.9 408.2"/><path d="M95.1 261.5 98.6 284.6 102.2 297.6 105.8 312.0 109.3 324.1 112.9 343.4 116.4 360.6 120.0 373.0 123.5 388.2 127.1 405.1 130.6 421.7 134.2 445.6 137.7 54.9 141.3 77.5 144.8 91.3 148.4 102.1 152.0 116.8 155.5 127.3 159.1 143.5 162.6 153.3 166.2 168.2 169.7 180.7 173.3 197.0 176.8 217.9 180.4 228.7 183.9 248.3 187.5 257.8 191.0 273.5 194.6 286.2 198.1 298.0 201.7 312.8 205.3 319.2 208.8 329.6 212.4 340.2 215.9 350.6 219.5 359.0 223.0 374.8 226.6 384.5 230.1 395.3 233.7 406.0 237.2 419.4 240.8 444.8 244.3 58.5 247.9 82.4 251.5 96.5 255.0 106.8 258.6 124.9 262.1 142.8 265.7 159.1 269.2 171.8 272.8 193.0 276.3 210.1 279.9 221.0 283.4 235.3 287.0 252.8 290.5 267.0 294.1 283.6 297.7 292.4 301.2 296.6 304.8 298.1 308.3 295.2 311.9 297.7 315.4 305.8 319.0 312.0 322.5 329.0 326.1 333.9 329.6 352.1 333.2 373.2 336.7 390.4 340.3 403.7 343.9 420.1 347.4 430.5 351.0 432.9 354.5 449.5 358.1 61.4 361.6 82.0 365.2 103.6 368.7 123.8 372.3 141.0 375.8 155.7 379.4 171.2 382.9 170.7 386.5 195.0 390.0 209.7 393.6 223.1 397.2 250.1 400.7 269.3 404.3 282.9 407.8 298.8 411.4 297.3 414.9 310.7 418.5 323.7 422.0 328.8 425.6 340.7 429.1 349.6 432.7 365.2 436.2 388.1 439.8 389.7 443.4 398.3 446.9 423.6"/><path d="M95.1 261.5 98.6 289.1 102.2 303.8 105.8 317.7 109.3 329.1 112.9 343.7 116.4 359.7 120.0 373.7 123.5 393.1 127.1 402.4 130.6 406.0 134.2 425.1 137.7 444.0 141.3 64.8 144.8 84.3 148.4 105.5 152.0 118.5 155.5 125.5 159.1 140.5 162.6 149.0 166.2 157.6 169.7 172.2 173.3 187.9 176.8 206.9 180.4 218.9 183.9 233.0 187.5 251.0 191.0 267.6 194.6 283.1 198.1 301.7 201.7 309.3 205.3 324.6 208.8 340.8 212.4 352.1 215.9 360.7 219.5 378.2 223.0 387.9 226.6 406.4 230.1 414.3 233.7 439.1 237.2 56.1 240.8 67.4 244.3 77.6 247.9 93.3 251.5 108.6 255.0 122.3 258.6 139.5 262.1 146.4 265.7 158.0 269.2 170.8 272.8 189.4 276.3 195.7 279.9 207.9 283.4 213.4 287.0 220.6 290.5 229.0 294.1 234.7 297.7 252.4 301.2 271.3 304.8 274.6 308.3 299.2 311.9 320.9 315.4 329.0 319.0 338.9 322.5 344.8 326.1 353.8 329.6 360.2 333.2 373.5 336.7 380.7 340.3 399.8 343.9 404.5 347.4 409.4 351.0 417.5 354.5 427.8 358.1 430.3 361.6 446.0 365.2 63.7 368.7 71.6 372.3 90.6 375.8 110.7 379.4 123.8 382.9 134.7 386.5 158.9 390.0 173.9 393.6 190.3 397.2 202.6 400.7 216.4 404.3 222.4 407.8 231.5 411.4 247.4 414.9 260.9 418.5 270.3 422.0 284.0 425.6 302.5 429.1 319.8 432.7 337.9 436.2 351.5 439.8 365.2 443.4 367.6 446.9 384.8"/><path d="M95.1 261.5 98.6 291.4 102.2 302.0 105.8 316.4 109.3 325.1 112.9 338.9 116.4 352.0 120.0 366.3 123.5 382.1 127.1 401.8 130.6 419.7 134.2 443.7 137.7 61.0 141.3 77.0 144.8 92.8 148.4 108.7 152.0 118.1 155.5 126.7 159.1 142.4 162.6 161.8 166.2 176.3 169.7 188.8 173.3 207.2 176.8 224.3 180.4 238.5 183.9 247.0 187.5 264.1 191.0 282.8 194.6 297.2 198.1 304.3 201.7 311.9 205.3 325.9 208.8 338.1 212.4 354.0 215.9 367.9 219.5 377.6 223.0 394.0 226.6 407.7 230.1 419.4 233.7 433.7 237.2 61.3 240.8 75.6 244.3 96.3 247.9 104.4 251.5 118.4 255.0 133.2 258.6 140.2 262.1 151.4 265.7 160.6 269.2 170.0 272.8 193.2 276.3 205.9 279.9 219.5 283.4 231.3 287.0 241.6 290.5 252.7 294.1 269.1 297.7 279.1 301.2 289.3 304.8 306.4 308.3 317.1 311.9 332.9 315.4 346.3 319.0 361.1 322.5 361.7 326.1 380.8 329.6 392.1 333.2 407.2 336.7 415.8 340.3 421.7 343.9 442.0 347.4 76.5 351.0 96.3 354.5 120.0 358.1 130.7 361.6 142.5 365.2 146.2 368.7 162.7 372.3 164.9 375.8 169.9 379.4 185.3 382.9 213.1 386.5 216.2 390.0 236.4 393.6 254.2 397.2 265.5 400.7 276.3 404.3 298.2 407.8 305.2 411.4 306.3 414.9 310.7 418.5 327.8 422.0 345.2 425.6 345.6 429.1 364.4 432.7 387.0 436.2 398.8 439.8 414.2 443.4 430.8 446.9 433.2"/><path d="M95.1 261.5 98.6 292.0 102.2 306.0 105.8 319.4 109.3 330.2 112.9 344.8 116.4 360.7 120.0 375.7 123.5 383.2 127.1 394.3 130.6 410.7 134.2 425.4 137.7 450.2 141.3 75.0 144.8 100.4 148.4 113.0 152.0 125.3 155.5 138.9 159.1 151.1 162.6 168.3 166.2 178.7 169.7 195.8 173.3 203.9 176.8 215.2 180.4 226.7 183.9 239.8 187.5 254.2 191.0 275.2 194.6 291.2 198.1 307.1 201.7 327.3 205.3 342.7 208.8 350.5 212.4 369.0 215.9 391.4 219.5 404.4 223.0 412.6 226.6 421.6 230.1 440.7 233.7 63.7 237.2 77.3 240.8 86.9 244.3 95.4 247.9 107.3 251.5 114.5 255.0 123.3 258.6 134.0 262.1 151.8 265.7 167.9 269.2 177.9 272.8 190.6 276.3 205.4 279.9 213.3 283.4 225.6 287.0 240.8 290.5 255.0 294.1 271.5 297.7 292.0 301.2 298.3 304.8 309.4 308.3 321.1 311.9 329.8 315.4 343.4 319.0 361.1 322.5 380.4 326.1 393.4 329.6 406.2 333.2 421.8 336.7 445.3 340.3 66.3 343.9 74.7 347.4 89.9 351.0 94.7 354.5 109.7 358.1 126.4 361.6 145.1 365.2 157.8 368.7 157.7 372.3 165.4 375.8 177.8 379.4 206.5 382.9 222.1 386.5 227.9 390.0 262.9 393.6 270.7 397.2 288.0 400.7 300.8 404.3 308.4 407.8 330.0 411.4 339.2 414.9 350.0 418.5 361.4 422.0 358.8 425.6 369.5 429.1 386.7 432.7 398.3 436.2 408.6 439.8 419.2 443.4 436.3 446.9 66.2"/><path d="M95.1 261.5 98.6 288.3 102.2 308.0 105.8 323.4 109.3 333.6 112.9 344.0 116.4 351.4 120.0 363.4 123.5 373.5 127.1 391.7 130.6 407.2 134.2 419.5 137.7 433.0 141.3 57.5 144.8 73.4 148.4 90.7 152.0 104.1 155.5 124.5 159.1 136.7 162.6 146.1 166.2 161.4 169.7 175.7 173.3 187.7 176.8 198.7 180.4 216.0 183.9 233.8 187.5 249.2 191.0 261.2 194.6 276.0 198.1 289.6 201.7 302.5 205.3 317.2 208.8 333.4 212.4 345.1 215.9 356.2 219.5 369.5 223.0 381.5 226.6 399.4 230.1 410.4 233.7 421.5 237.2 435.0 240.8 60.3 244.3 73.1 247.9 96.0 251.5 108.3 255.0 126.2 258.6 136.7 262.1 157.9 265.7 168.5 269.2 180.4 272.8 194.3 276.3 203.2 279.9 219.9 283.4 240.0 287.0 264.0 290.5 275.6 294.1 288.8 297.7 303.8 301.2 316.4 304.8 324.6 308.3 342.0 311.9 353.4 315.4 361.5 319.0 367.9 322.5 384.7 326.1 392.9 329.6 408.4 333.2 425.6 336.7 457.0 340.3 67.7 343.9 96.7 347.4 103.3 351.0 112.0 354.5 123.2 358.1 137.4 361.6 150.3 365.2 167.4 368.7 184.6 372.3 196.1 375.8 210.1 379.4 216.6 382.9 229.9 386.5 234.1 390.0 245.1 393.6 264.4 397.2 269.3 400.7 287.5 404.3 285.4 407.8 298.9 411.4 305.0 414.9 313.1 418.5 311.2 422.0 309.9 425.6 314.9 429.1 325.3 432.7 335.9 436.2 346.3 439.8 360.3 443.4 365.9 446.9 372.0"/><path d="M95.1 261.5 98.6 290.9 102.2 303.9 105.8 320.3 109.3 331.7 112.9 343.8 116.4 361.3 120.0 372.5 123.5 388.7 127.1 403.1 130.6 409.6 134.2 432.2 137.7 58.6 141.3 73.0 144.8 81.7 148.4 105.3 152.0 120.5 155.5 134.7 159.1 149.5 162.6 156.8 166.2 168.5 169.7 185.9 173.3 199.6 176.8 211.5 180.4 226.2 183.9 240.2 187.5 254.3 191.0 267.4 194.6 283.1 198.1 297.8 201.7 308.9 205.3 316.8 208.8 333.6 212.4 343.2 215.9 347.2 219.5 366.1 223.0 383.5 226.6 392.1 230.1 400.0 233.7 415.0 237.2 434.1 240.8 54.4 244.3 75.5 247.9 97.8 251.5 107.6 255.0 116.8 258.6 133.6 262.1 147.9 265.7 155.6 269.2 171.8 272.8 189.9 276.3 197.7 279.9 213.3 283.4 217.2 287.0 225.5 290.5 228.9 294.1 244.2 297.7 261.0 301.2 273.9 304.8 274.2 308.3 289.1 311.9 298.6 315.4 314.1 319.0 316.9 322.5 322.6 326.1 334.8 329.6 334.3 333.2 345.3 336.7 359.6 340.3 373.5 343.9 379.6 347.4 394.3 351.0 405.2 354.5 429.1 358.1 443.1 361.6 69.2 365.2 83.2 368.7 96.9 372.3 112.5 375.8 116.2 379.4 125.7 382.9 133.5 386.5 137.9 390.0 150.1 393.6 167.6 397.2 186.4 400.7 194.3 404.3 212.3 407.8 230.3 411.4 245.6 414.9 258.0 418.5 268.9 422.0 279.1 425.6 281.3 429.1 306.3 432.7 325.2 436.2 325.5 439.8 340.1 443.4 365.7 446.9 380.3"/><path d="M95.1 261.5 98.6 283.6 102.2 298.3 105.8 314.9 109.3 331.5 112.9 350.0 116.4 367.9 120.0 380.0 123.5 393.6 127.1 400.2 130.6 411.7 134.2 426.2 137.7 449.0 141.3 76.4 144.8 98.2 148.4 116.1 152.0 132.9 155.5 151.2 159.1 167.3 162.6 183.8 166.2 193.2 169.7 211.0 173.3 223.3 176.8 235.2 180.4 251.4 183.9 265.2 187.5 277.6 191.0 285.6 194.6 295.7 198.1 305.9 201.7 321.8 205.3 331.8 208.8 345.7 212.4 355.8 215.9 360.6 219.5 375.2 223.0 390.2 226.6 402.2 230.1 419.0 233.7 438.4 237.2 60.3 240.8 76.9 244.3 91.4 247.9 100.9 251.5 112.2 255.0 123.1 258.6 133.9 262.1 147.1 265.7 162.0 269.2 181.3 272.8 195.0 276.3 204.0 279.9 210.5 283.4 227.0 287.0 240.4 290.5 257.0 294.1 277.7 297.7 290.2 301.2 304.6 304.8 315.6 308.3 329.8 311.9 347.0 315.4 359.8 319.0 378.8 322.5 400.9 326.1 414.8 329.6 423.8 333.2 439.6 336.7 63.1 340.3 76.5 343.9 91.7 347.4 101.8 351.0 109.3 354.5 113.8 358.1 134.9 361.6 159.9 365.2 170.6 368.7 183.6 372.3 197.8 375.8 209.7 379.4 226.2 382.9 240.3 386.5 243.4 390.0 250.9 393.6 258.7 397.2 271.2 400.7 278.5 404.3 293.3 407.8 307.8 411.4 314.5 414.9 325.0 418.5 329.6 422.0 346.1 425.6 368.7 429.1 372.5 432.7 370.7 436.2 384.7 439.8 408.5 443.4 420.1 446.9 428.8"/><path d="M95.1 261.5 98.6 286.4 102.2 303.0 105.8 314.5 109.3 328.7 112.9 343.9 116.4 358.3 120.0 370.1 123.5 386.8 127.1 405.8 130.6 421.9 134.2 439.4 137.7 61.5 141.3 72.8 144.8 88.8 148.4 99.5 152.0 115.7 155.5 127.1 159.1 142.9 162.6 156.7 166.2 176.3 169.7 190.2 173.3 206.4 176.8 223.1 180.4 241.9 183.9 249.2 187.5 259.9 191.0 278.7 194.6 292.3 198.1 304.8 201.7 316.8 205.3 328.3 208.8 346.8 212.4 364.0 215.9 376.8 219.5 392.0 223.0 405.5 226.6 416.4 230.1 442.9 233.7 59.8 237.2 73.7 240.8 86.3 244.3 104.0 247.9 119.7 251.5 135.0 255.0 144.2 258.6 148.3 262.1 158.9 265.7 170.5 269.2 185.4 272.8 200.7 276.3 217.0 279.9 220.4 283.4 245.6 287.0 261.2 290.5 277.3 294.1 279.0 297.7 292.7 301.2 316.4 304.8 320.9 308.3 333.9 311.9 344.2 315.4 354.8 319.0 369.3 322.5 378.0 326.1 390.3 329.6 407.0 333.2 425.5 336.7 445.9 340.3 73.3 343.9 97.7 347.4 117.9 351.0 126.2 354.5 138.1 358.1 147.0 361.6 152.7 365.2 165.5 368.7 177.0 372.3 200.1 375.8 208.5 379.4 230.2 382.9 231.2 386.5 253.1 390.0 263.6 393.6 270.8 397.2 287.3 400.7 298.6 404.3 312.7 407.8 334.4 411.4 347.2 414.9 355.6 418.5 360.0 422.0 371.8 425.6 392.0 429.1 397.4 432.7 409.3 436.2 410.4 439.8 437.0 443.4 67.1 446.9 83.6"/><path d="M95.1 261.5 98.6 290.3 102.2 305.2 105.8 317.2 109.3 331.6 112.9 349.7 116.4 367.7 120.0 383.6 123.5 393.8 127.1 413.9 130.6 420.8 134.2 443.0 137.7 58.8 141.3 74.9 144.8 95.2 148.4 98.7 152.0 115.1 155.5 122.3 159.1 143.1 162.6 152.3 166.2 169.2 169.7 186.1 173.3 199.9 176.8 212.5 180.4 229.6 183.9 246.0 187.5 257.0 191.0 269.5 194.6 284.5 198.1 300.4 201.7 311.9 205.3 325.3 208.8 336.3 212.4 353.3 215.9 371.5 219.5 385.8 223.0 405.4 226.6 414.8 230.1 424.8 233.7 445.2 237.2 70.1 240.8 80.9 244.3 94.4 247.9 101.3 251.5 122.8 255.0 137.0 258.6 155.5 262.1 166.3 265.7 180.0 269.2 192.2 272.8 202.0 276.3 212.6 279.9 233.3 283.4 245.6 287.0 250.8 290.5 265.5 294.1 284.7 297.7 293.2 301.2 297.0 304.8 315.5 308.3 332.1 311.9 339.0 315.4 342.7 319.0 359.7 322.5 354.1 326.1 370.5 329.6 390.3 333.2 402.6 336.7 418.1 340.3 440.8 343.9 62.2 347.4 79.4 351.0 97.9 354.5 115.5 358.1 129.6 361.6 146.2 365.2 170.7 368.7 182.6 372.3 193.3 375.8 200.1 379.4 211.8 382.9 221.5 386.5 227.3 390.0 235.0 393.6 241.4 397.2 252.1 400.7 277.9 404.3 281.3 407.8 300.2 411.4 317.8 414.9 330.8 418.5 341.2 422.0 349.6 425.6 362.1 429.1 377.7 432.7 392.9 436.2 404.5 439.8 403.6 443.4 427.3 446.9 60.3"/><path d="M95.1 261.5 98.6 290.3 102.2 304.4 105.8 318.9 109.3 334.7 112.9 352.8 116.4 366.0 120.0 376.1 123.5 392.5 127.1 408.3 130.6 422.8 134.2 449.5 137.7 60.9 141.3 95.7 144.8 110.5 148.4 120.3 152.0 136.7 155.5 142.6 159.1 157.7 162.6 162.6 166.2 175.6 169.7 181.4 173.3 191.6 176.8 213.8 180.4 231.5 183.9 240.3 187.5 258.3 191.0 276.4 194.6 290.3 198.1 308.9 201.7 323.5 205.3 342.3 208.8 353.7 212.4 367.5 215.9 380.8 219.5 395.9 223.0 409.2 226.6 417.4 230.1 437.4 233.7 63.9 237.2 71.8 240.8 86.6 244.3 90.8 247.9 108.5 251.5 121.9 255.0 134.3 258.6 143.4 262.1 156.2 265.7 174.5 269.2 192.2 272.8 203.1 276.3 221.7 279.9 235.3 283.4 241.9 287.0 254.1 290.5 270.1 294.1 282.4 297.7 300.7 301.2 322.8 304.8 340.5 308.3 357.0 311.9 365.9 315.4 371.0 319.0 391.8 322.5 402.3 326.1 418.2 329.6 427.6 333.2 438.3 336.7 67.1 340.3 77.2 343.9 80.9 347.4 91.6 351.0 102.2 354.5 107.6 358.1 108.5 361.6 124.1 365.2 136.9 368.7 143.6 372.3 153.4 375.8 171.0 379.4 177.9 382.9 200.8 386.5 215.6 390.0 221.4 393.6 234.5 397.2 255.8 400.7 266.5 404.3 269.3 407.8 286.1 411.4 300.9 414.9 307.4 418.5 318.4 422.0 329.2 425.6 339.7 429.1 348.3 432.7 367.4 436.2 388.6 439.8 403.9 443.4 421.4 446.9 432.7"/><path d="M95.1 261.5 98.6 283.3 102.2 299.2 105.8 318.0 109.3 330.8 112.9 344.0 116.4 355.1 120.0 374.8 123.5 394.1 127.1 398.2 130.6 413.3 134.2 429.7 137.7 61.2 141.3 66.1 144.8 83.0 148.4 98.6 152.0 107.7 155.5 120.3 159.1 140.0 162.6 150.6 166.2 167.1 169.7 185.1 173.3 208.6 176.8 218.0 180.4 230.8 183.9 243.6 187.5 266.2 191.0 275.8 194.6 287.6 198.1 293.0 201.7 311.7 205.3 330.7 208.8 346.6 212.4 365.8 215.9 379.6 219.5 396.9 223.0 409.1 226.6 419.0 230.1 439.0 233.7 74.4 237.2 90.6 240.8 102.4 244.3 110.1 247.9 122.7 251.5 131.0 255.0 143.2 258.6 149.9 262.1 170.4 265.7 177.7 269.2 186.1 272.8 201.7 276.3 224.1 279.9 240.3 283.4 248.6 287.0 262.0 290.5 261.9 294.1 279.2 297.7 286.1 301.2 303.2 304.8 320.6 308.3 326.2 311.9 331.5 315.4 345.1 319.0 367.8 322.5 384.5 326.1 393.6 329.6 406.3 333.2 415.3 336.7 429.6 340.3 444.2 343.9 76.8 347.4 101.0 351.0 127.7 354.5 139.0 358.1 144.4 361.6 154.1 365.2 167.9 368.7 182.4 372.3 190.0 375.8 200.2 379.4 214.1 382.9 224.8 386.5 226.0 390.0 246.8 393.6 273.2 397.2 292.7 400.7 311.9 404.3 319.9 407.8 334.2 411.4 348.4 414.9 350.6 418.5 374.5 422.0 378.8 425.6 389.2 429.1 396.5 432.7 404.5 436.2 414.3 439.8 460.2 443.4 57.6 446.9 79.2"/><path d="M95.1 261.5 98.6 284.9 102.2 300.4 105.8 316.1 109.3 328.6 112.9 340.0 116.4 348.6 120.0 357.7 123.5 369.0 127.1 378.1 130.6 398.3 134.2 410.3 137.7 419.5 141.3 441.8 144.8 72.7 148.4 91.5 152.0 102.5 155.5 115.0 159.1 130.1 162.6 143.0 166.2 152.5 169.7 169.6 173.3 186.4 176.8 206.2 180.4 217.7 183.9 232.3 187.5 248.0 191.0 269.3 194.6 289.6 198.1 309.7 201.7 320.1 205.3 337.1 208.8 347.7 212.4 370.5 215.9 383.1 219.5 395.9 223.0 406.8 226.6 422.8 230.1 432.7 233.7 440.7 237.2 76.9 240.8 86.9 244.3 99.2 247.9 110.4 251.5 129.8 255.0 140.1 258.6 156.3 262.1 160.5 265.7 171.1 269.2 185.8 272.8 199.3 276.3 220.6 279.9 222.4 283.4 237.7 287.0 249.5 290.5 253.3 294.1 261.0 297.7 281.3 301.2 298.0 304.8 307.8 308.3 315.4 311.9 318.5 315.4 333.1 319.0 349.4 322.5 363.8 326.1 372.3 329.6 382.0 333.2 393.2 336.7 411.8 340.3 425.6 343.9 442.1 347.4 72.0 351.0 80.3 354.5 94.9 358.1 105.8 361.6 120.4 365.2 127.5 368.7 146.3 372.3 161.6 375.8 180.6 379.4 185.9 382.9 198.0 386.5 214.2 390.0 230.2 393.6 248.8 397.2 262.5 400.7 287.5 404.3 308.9 407.8 329.7 411.4 334.3 414.9 337.4 418.5 346.5 422.0 351.6 425.6 358.5 429.1 366.9 432.7 380.0 436.2 396.2 439.8 404.1 443.4 410.4 446.9 420.5"/><path d="M95.1 261.5 98.6 295.8 102.2 310.2 105.8 329.0 109.3 344.0 112.9 355.6 116.4 376.1 120.0 387.5 123.5 405.5 127.1 417.9 130.6 442.1 134.2 66.2 137.7 86.7 141.3 96.7 144.8 108.8 148.4 129.5 152.0 147.4 155.5 156.5 159.1 167.3 162.6 171.7 166.2 183.1 169.7 201.5 173.3 222.6 176.8 236.0 180.4 250.0 183.9 270.3 187.5 287.5 191.0 299.2 194.6 304.6 198.1 318.3 201.7 331.8 205.3 347.2 208.8 361.0 212.4 375.0 215.9 387.2 219.5 396.9 223.0 422.7 226.6 433.0 230.1 65.2 233.7 73.8 237.2 83.8 240.8 99.4 244.3 103.7 247.9 117.8 251.5 128.1 255.0 134.9 258.6 144.0 262.1 157.3 265.7 170.8 269.2 189.6 272.8 205.8 276.3 220.5 279.9 235.6 283.4 248.7 287.0 265.6 290.5 284.4 294.1 290.0 297.7 297.7 301.2 304.4 304.8 304.7 308.3 296.4 311.9 308.7 315.4 316.5 319.0 323.3 322.5 330.6 326.1 344.1 329.6 341.6 333.2 357.0 336.7 374.0 340.3 380.6 343.9 390.3 347.4 404.1 351.0 425.1 354.5 428.0 358.1 435.6 361.6 67.3 365.2 75.8 368.7 87.0 372.3 103.4 375.8 116.3 379.4 128.0 382.9 136.2 386.5 134.1 390.0 139.8 393.6 149.2 397.2 172.0 400.7 180.8 404.3 191.1 407.8 210.4 411.4 210.8 414.9 221.3 418.5 239.0 422.0 270.9 425.6 283.0 429.1 291.5 432.7 302.1 436.2 305.6 439.8 327.6 443.4 340.2 446.9 346.4"/><path d="M95.1 261.5 98.6 288.7 102.2 304.4 105.8 320.8 109.3 332.2 112.9 345.3 116.4 351.8 120.0 364.7 123.5 378.5 127.1 405.7 130.6 424.9 134.2 449.6 137.7 57.9 141.3 72.9 144.8 86.2 148.4 108.3 152.0 122.0 155.5 134.5 159.1 147.7 162.6 163.7 166.2 178.3 169.7 191.8 173.3 201.0 176.8 216.2 180.4 230.2 183.9 245.7 187.5 261.7 191.0 281.3 194.6 295.6 198.1 315.0 201.7 330.5 205.3 354.6 208.8 373.7 212.4 380.3 215.9 393.7 219.5 414.2 223.0 428.8 226.6 436.7 230.1 60.9 233.7 73.1 237.2 78.7 240.8 98.8 244.3 111.8 247.9 128.4 251.5 131.9 255.0 141.0 258.6 157.5 262.1 165.8 265.7 175.2 269.2 189.6 272.8 214.0 276.3 221.9 279.9 228.3 283.4 248.3 287.0 251.6 290.5 263.5 294.1 270.8 297.7 284.4 301.2 292.2 304.8 301.7 308.3 319.5 311.9 342.7 315.4 346.8 319.0 363.0 322.5 374.5 326.1 373.8 329.6 376.6 333.2 393.6 336.7 407.4 340.3 426.7 343.9 436.6 347.4 447.6 351.0 67.8 354.5 87.4 358.1 102.1 361.6 119.8 365.2 128.2 368.7 142.5 372.3 161.0 375.8 165.7 379.4 177.2 382.9 194.0 386.5 209.3 390.0 223.1 393.6 242.7 397.2 244.6 400.7 247.4 404.3 257.0 407.8 262.6 411.4 264.5 414.9 290.6 418.5 308.8 422.0 311.8 425.6 319.9 429.1 334.0 432.7 337.1 436.2 345.6 439.8 356.2 443.4 360.3 446.9 376.8"/><path d="M95.1 261.5 98.6 287.9 102.2 304.3 105.8 318.3 109.3 332.3 112.9 342.3 116.4 357.7 120.0 372.0 123.5 386.8 127.1 399.8 130.6 408.2 134.2 425.5 137.7 463.2 141.3 68.0 144.8 79.3 148.4 91.2 152.0 106.8 155.5 118.7 159.1 140.1 162.6 155.0 166.2 171.1 169.7 189.6 173.3 198.4 176.8 206.7 180.4 223.6 183.9 233.6 187.5 251.2 191.0 266.9 194.6 281.7 198.1 298.5 201.7 319.7 205.3 340.5 208.8 357.9 212.4 366.2 215.9 377.7 219.5 390.3 223.0 398.5 226.6 416.2 230.1 435.7 233.7 59.7 237.2 76.1 240.8 98.7 244.3 112.4 247.9 119.3 251.5 130.7 255.0 141.7 258.6 151.7 262.1 165.5 265.7 175.8 269.2 190.3 272.8 209.0 276.3 221.1 279.9 236.8 283.4 243.0 287.0 248.3 290.5 263.4 294.1 277.5 297.7 296.2 301.2 309.2 304.8 322.6 308.3 334.3 311.9 349.8 315.4 374.8 319.0 383.5 322.5 395.4 326.1 401.4 329.6 414.9 333.2 423.9 336.7 437.4 340.3 453.8 343.9 75.6 347.4 93.5 351.0 105.3 354.5 108.0 358.1 122.3 361.6 140.3 365.2 154.8 368.7 167.9 372.3 181.4 375.8 185.6 379.4 191.0 382.9 198.4 386.5 224.6 390.0 234.4 393.6 238.0 397.2 242.1 400.7 247.1 404.3 261.4 407.8 275.7 411.4 283.1 414.9 293.4 418.5 310.0 422.0 323.7 425.6 339.9 429.1 358.6 432.7 365.7 436.2 374.3 439.8 390.5 443.4 406.4 446.9 427.8"/><path d="M95.1 261.5 98.6 284.8 102.2 298.3 105.8 314.9 109.3 322.9 112.9 335.6 116.4 350.2 120.0 364.0 123.5 373.5 127.1 383.1 130.6 403.3 134.2 419.6 137.7 433.7 141.3 442.7 144.8 83.8 148.4 109.1 152.0 127.1 155.5 140.3 159.1 154.5 162.6 174.5 166.2 191.3 169.7 207.4 173.3 222.7 176.8 240.3 180.4 252.0 183.9 259.8 187.5 281.7 191.0 289.3 194.6 300.5 198.1 307.4 201.7 327.5 205.3 342.1 208.8 349.6 212.4 369.6 215.9 381.9 219.5 389.7 223.0 400.7 226.6 419.6 230.1 444.5 233.7 61.4 237.2 82.3 240.8 94.9 244.3 105.5 247.9 127.2 251.5 139.7 255.0 149.9 258.6 165.0 262.1 181.2 265.7 193.9 269.2 203.6 272.8 211.0 276.3 214.0 279.9 236.5 283.4 253.2 287.0 277.2 290.5 291.6 294.1 309.8 297.7 314.3 301.2 331.0 304.8 345.6 308.3 370.6 311.9 381.5 315.4 397.7 319.0 420.9 322.5 437.2 326.1 60.3 329.6 80.4 333.2 90.5 336.7 96.4 340.3 114.7 343.9 117.3 347.4 127.8 351.0 143.7 354.5 153.5 358.1 158.2 361.6 177.5 365.2 188.8 368.7 215.9 372.3 228.6 375.8 245.9 379.4 251.8 382.9 258.5 386.5 267.4 390.0 273.5 393.6 281.6 397.2 288.4 400.7 293.6 404.3 308.4 407.8 324.0 411.4 331.3 414.9 342.5 418.5 357.6 422.0 366.6 425.6 380.4 429.1 392.7 432.7 400.9 436.2 408.7 439.8 418.4 443.4 427.1 446.9 57.9"/><path d="M95.1 261.5 98.6 287.8 102.2 302.5 105.8 312.8 109.3 328.2 112.9 342.5 116.4 356.3 120.0 374.8 123.5 395.9 127.1 416.3 130.6 437.5 134.2 58.7 137.7 65.9 141.3 78.4 144.8 92.5 148.4 102.8 152.0 122.3 155.5 134.2 159.1 144.2 162.6 156.4 166.2 180.5 169.7 198.1 173.3 223.2 176.8 235.4 180.4 250.0 183.9 266.6 187.5 282.4 191.0 307.9 194.6 321.7 198.1 328.5 201.7 336.8 205.3 352.3 208.8 365.5 212.4 381.7 215.9 387.4 219.5 400.7 223.0 412.8 226.6 423.1 230.1 441.1 233.7 73.2 237.2 83.5 240.8 95.5 244.3 112.1 247.9 122.6 251.5 133.1 255.0 147.0 258.6 162.5 262.1 178.9 265.7 194.0 269.2 204.3 272.8 218.0 276.3 225.3 279.9 244.1 283.4 255.8 287.0 275.0 290.5 292.8 294.1 316.9 297.7 320.0 301.2 321.9 304.8 330.0 308.3 336.8 311.9 349.9 315.4 365.0 319.0 374.8 322.5 396.0 326.1 408.3 329.6 425.1 333.2 452.3 336.7 67.8 340.3 84.6 343.9 98.8 347.4 98.2 351.0 112.9 354.5 129.1 358.1 128.2 361.6 158.7 365.2 167.1 368.7 176.2 372.3 181.3 375.8 200.3 379.4 200.2 382.9 206.9 386.5 217.0 390.0 224.7 393.6 236.8 397.2 241.4 400.7 249.9 404.3 253.4 407.8 269.1 411.4 288.2 414.9 304.8 418.5 310.9 422.0 324.4 425.6 331.5 429.1 349.5 432.7 356.0 436.2 361.1 439.8 362.2 443.4 377.5 446.9 388.5"/><path d="M95.1 261.5 98.6 284.7 102.2 301.2 105.8 312.9 109.3 330.0 112.9 348.6 116.4 362.9 120.0 375.5 123.5 388.6 127.1 404.9 130.6 418.4 134.2 440.9 137.7 64.2 141.3 86.1 144.8 94.6 148.4 107.9 152.0 122.9 155.5 130.9 159.1 148.7 162.6 159.4 166.2 176.5 169.7 195.5 173.3 208.7 176.8 220.8 180.4 237.1 183.9 255.6 187.5 271.1 191.0 285.0 194.6 290.3 198.1 300.5 201.7 312.8 205.3 329.7 208.8 332.6 212.4 343.6 215.9 354.2 219.5 372.3 223.0 391.8 226.6 408.9 230.1 421.7 233.7 429.0 237.2 440.7 240.8 74.4 244.3 89.3 247.9 100.2 251.5 121.6 255.0 140.6 258.6 159.1 262.1 181.9 265.7 191.8 269.2 205.1 272.8 221.0 276.3 231.2 279.9 244.4 283.4 253.6 287.0 266.3 290.5 289.3 294.1 310.4 297.7 313.1 301.2 329.2 304.8 338.9 308.3 342.6 311.9 355.4 315.4 375.0 319.0 385.0 322.5 390.3 326.1 387.4 329.6 405.9 333.2 424.5 336.7 459.8 340.3 64.6 343.9 75.7 347.4 83.6 351.0 89.7 354.5 111.3 358.1 122.5 361.6 143.5 365.2 146.5 368.7 146.5 372.3 160.7 375.8 176.9 379.4 183.1 382.9 206.1 386.5 209.0 390.0 223.1 393.6 230.9 397.2 248.2 400.7 263.7 404.3 285.9 407.8 307.1 411.4 324.2 414.9 346.3 418.5 359.8 422.0 366.1 425.6 383.8 429.1 393.0 432.7 396.2 436.2 411.2 439.8 423.2 443.4 426.3 446.9 439.8"/><path d="M95.1 261.5 98.6 287.6 102.2 301.0 105.8 311.7 109.3 322.2 112.9 334.6 116.4 353.7 120.0 361.5 123.5 374.6 127.1 385.9 130.6 392.7 134.2 404.2 137.7 428.1 141.3 59.7 144.8 77.2 148.4 94.5 152.0 104.0 155.5 114.1 159.1 126.7 162.6 142.9 166.2 150.7 169.7 165.5 173.3 171.2 176.8 186.3 180.4 196.5 183.9 205.2 187.5 222.1 191.0 233.6 194.6 255.5 198.1 271.0 201.7 290.1 205.3 312.5 208.8 331.5 212.4 349.2 215.9 362.4 219.5 377.8 223.0 395.5 226.6 405.2 230.1 419.8 233.7 434.6 237.2 451.1 240.8 72.1 244.3 95.3 247.9 109.9 251.5 119.6 255.0 133.5 258.6 151.6 262.1 170.1 265.7 188.0 269.2 207.9 272.8 223.0 276.3 227.9 279.9 234.0 283.4 237.7 287.0 252.2 290.5 265.8 294.1 270.5 297.7 282.8 301.2 299.3 304.8 313.2 308.3 312.8 311.9 323.1 315.4 326.6 319.0 344.3 322.5 367.2 326.1 381.7 329.6 391.5 333.2 408.8 336.7 415.0 340.3 426.5 343.9 442.8 347.4 71.5 351.0 78.5 354.5 79.8 358.1 84.6 361.6 89.0 365.2 111.6 368.7 122.0 372.3 130.3 375.8 134.2 379.4 151.2 382.9 158.6 386.5 172.6 390.0 184.1 393.6 185.4 397.2 196.4 400.7 214.7 404.3 218.4 407.8 231.5 411.4 243.4 414.9 251.6 418.5 264.2 422.0 275.5 425.6 282.5 429.1 290.6 432.7 310.8 436.2 320.8 439.8 329.5 443.4 343.7 446.9 369.6"/><path d="M95.1 261.5 98.6 289.0 102.2 301.6 105.8 311.5 109.3 329.0 112.9 345.1 116.4 361.9 120.0 377.3 123.5 389.5 127.1 404.1 130.6 413.7 134.2 433.2 137.7 54.4 141.3 65.7 144.8 79.2 148.4 90.9 152.0 109.5 155.5 124.7 159.1 137.9 162.6 152.6 166.2 158.4 169.7 170.3 173.3 178.4 176.8 190.9 180.4 204.8 183.9 219.3 187.5 236.5 191.0 253.6 194.6 274.1 198.1 292.5 201.7 302.5 205.3 321.9 208.8 333.7 212.4 349.7 215.9 361.0 219.5 372.3 223.0 389.5 226.6 402.5 230.1 416.5 233.7 436.0 237.2 65.8 240.8 84.4 244.3 103.9 247.9 120.9 251.5 143.9 255.0 161.5 258.6 178.8 262.1 187.2 265.7 202.6 269.2 212.7 272.8 225.7 276.3 238.8 279.9 237.6 283.4 257.6 287.0 280.7 290.5 285.0 294.1 280.6 297.7 293.9 301.2 307.2 304.8 331.8 308.3 335.5 311.9 334.5 315.4 352.5 319.0 370.2 322.5 382.9 326.1 405.8 329.6 414.0 333.2 422.5 336.7 439.1 340.3 65.1 343.9 85.3 347.4 99.9 351.0 108.0 354.5 126.1 358.1 141.0 361.6 158.2 365.2 178.1 368.7 188.4 372.3 204.3 375.8 222.3 379.4 228.9 382.9 238.0 386.5 242.9 390.0 254.4 393.6 283.0 397.2 297.1 400.7 304.9 404.3 320.0 407.8 328.0 411.4 335.9 414.9 340.8 418.5 365.9 422.0 376.1 425.6 381.1 429.1 386.9 432.7 407.6 436.2 415.1 439.8 455.3 443.4 56.2 446.9 78.9"/><path d="M95.1 261.5 98.6 282.2 102.2 294.8 105.8 307.0 109.3 320.0 112.9 330.1 116.4 348.0 120.0 361.8 123.5 378.8 127.1 390.7 130.6 402.5 134.2 411.1 137.7 421.7 141.3 438.5 144.8 64.2 148.4 83.7 152.0 92.6 155.5 101.1 159.1 120.8 162.6 138.0 166.2 148.8 169.7 169.7 173.3 190.1 176.8 201.5 180.4 220.3 183.9 232.5 187.5 248.4 191.0 263.3 194.6 278.3 198.1 288.3 201.7 301.1 205.3 311.7 208.8 329.1 212.4 347.2 215.9 358.3 219.5 380.8 223.0 399.3 226.6 410.9 230.1 441.4 233.7 63.1 237.2 76.8 240.8 95.0 244.3 109.9 247.9 128.8 251.5 150.1 255.0 167.0 258.6 176.0 262.1 192.6 265.7 207.4 269.2 218.0 272.8 235.5 276.3 248.7 279.9 265.0 283.4 284.3 287.0 308.4 290.5 328.0 294.1 341.7 297.7 350.5 301.2 363.7 304.8 365.6 308.3 376.4 311.9 381.0 315.4 385.2 319.0 400.0 322.5 408.7 326.1 418.1 329.6 428.9 333.2 441.1 336.7 72.8 340.3 76.3 343.9 87.3 347.4 99.1 351.0 114.1 354.5 125.0 358.1 140.9 361.6 139.0 365.2 157.4 368.7 166.6 372.3 181.9 375.8 197.5 379.4 203.6 382.9 214.0 386.5 229.8 390.0 241.2 393.6 251.5 397.2 266.8 400.7 279.9 404.3 282.3 407.8 289.1 411.4 303.2 414.9 323.7 418.5 342.2 422.0 348.8 425.6 364.4 429.1 390.2 432.7 402.1 436.2 404.4 439.8 420.6 443.4 437.2 446.9 66.1"/><path d="M95.1 261.5 98.6 287.3 102.2 300.1 105.8 308.6 109.3 327.7 112.9 343.9 116.4 356.8 120.0 370.2 123.5 381.9 127.1 390.0 130.6 406.2 134.2 419.1 137.7 428.1 141.3 438.4 144.8 62.0 148.4 87.5 152.0 106.2 155.5 121.7 159.1 126.7 162.6 139.6 166.2 155.3 169.7 170.2 173.3 187.2 176.8 204.8 180.4 221.6 183.9 236.3 187.5 242.8 191.0 261.3 194.6 275.2 198.1 287.4 201.7 298.6 205.3 316.8 208.8 332.5 212.4 348.6 215.9 364.5 219.5 386.7 223.0 402.6 226.6 427.3 230.1 55.4 233.7 79.7 237.2 89.8 240.8 103.2 244.3 118.4 247.9 133.9 251.5 148.8 255.0 167.5 258.6 178.6 262.1 194.6 265.7 207.7 269.2 226.2 272.8 241.0 276.3 249.6 279.9 253.4 283.4 277.3 287.0 293.2 290.5 309.2 294.1 322.0 297.7 325.9 301.2 326.1 304.8 336.2 308.3 350.2 311.9 375.3 315.4 386.0 319.0 408.5 322.5 435.1 326.1 73.8 329.6 82.2 333.2 92.3 336.7 114.6 340.3 131.5 343.9 148.5 347.4 163.7 351.0 159.0 354.5 163.8 358.1 185.9 361.6 209.8 365.2 223.7 368.7 242.8 372.3 265.5 375.8 276.0 379.4 283.3 382.9 294.0 386.5 322.3 390.0 334.6 393.6 344.5 397.2 341.5 400.7 360.6 404.3 369.9 407.8 380.4 411.4 390.6 414.9 405.7 418.5 424.5 422.0 467.0 425.6 76.7 429.1 88.0 432.7 94.0 436.2 97.9 439.8 116.1 443.4 125.7 446.9 132.4"/><path d="M95.1 261.5 98.6 294.9 102.2 305.9 105.8 318.7 109.3 330.6 112.9 344.6 116.4 357.5 120.0 373.7 123.5 394.0 127.1 410.1 130.6 428.6 134.2 450.1 137.7 68.7 141.3 82.3 144.8 93.8 148.4 106.2 152.0 117.6 155.5 136.1 159.1 148.5 162.6 155.9 166.2 166.4 169.7 182.3 173.3 193.4 176.8 213.5 180.4 224.2 183.9 237.6 187.5 249.5 191.0 266.9 194.6 283.0 198.1 295.8 201.7 315.4 205.3 332.4 208.8 348.4 212.4 370.7 215.9 388.9 219.5 403.6 223.0 416.4 226.6 431.9 230.1 58.3 233.7 81.0 237.2 99.5 240.8 117.8 244.3 136.4 247.9 156.4 251.5 166.6 255.0 175.7 258.6 188.1 262.1 201.0 265.7 218.5 269.2 232.2 272.8 246.0 276.3 258.4 279.9 273.4 283.4 273.3 287.0 284.4 290.5 289.7 294.1 310.8 297.7 328.1 301.2 336.0 304.8 353.4 308.3 358.6 311.9 361.5 315.4 375.8 319.0 376.6 322.5 382.0 326.1 402.1 329.6 401.9 333.2 413.1 336.7 426.6 340.3 70.1 343.9 75.9 347.4 87.1 351.0 99.0 354.5 111.4 358.1 117.4 361.6 123.4 365.2 134.8 368.7 159.3 372.3 163.6 375.8 182.3 379.4 197.1 382.9 219.7 386.5 220.4 390.0 232.2 393.6 238.4 397.2 255.7 400.7 268.1 404.3 283.8 407.8 291.3 411.4 292.0 414.9 302.3 418.5 324.0 422.0 328.0 425.6 339.2 429.1 345.3 432.7 353.8 436.2 368.2 439.8 377.6 443.4 387.0 446.9 393.1"/><path d="M95.1 261.5 98.6 284.2 102.2 295.7 105.8 308.9 109.3 319.9 112.9 334.0 116.4 347.1 120.0 363.3 123.5 371.5 127.1 382.0 130.6 389.7 134.2 403.4 137.7 420.0 141.3 436.1 144.8 60.3 148.4 69.1 152.0 86.1 155.5 96.9 159.1 111.8 162.6 123.3 166.2 134.1 169.7 154.5 173.3 167.9 176.8 185.7 180.4 199.3 183.9 218.9 187.5 228.5 191.0 243.1 194.6 258.3 198.1 275.4 201.7 299.3 205.3 321.7 208.8 336.7 212.4 355.6 215.9 366.5 219.5 385.8 223.0 396.6 226.6 412.6 230.1 421.3 233.7 436.1 237.2 72.3 240.8 87.3 244.3 102.7 247.9 117.8 251.5 131.9 255.0 146.7 258.6 158.4 262.1 170.7 265.7 189.4 269.2 210.7 272.8 230.0 276.3 243.7 279.9 257.3 283.4 273.4 287.0 282.9 290.5 294.5 294.1 310.7 297.7 330.1 301.2 343.4 304.8 360.8 308.3 366.1 311.9 384.0 315.4 397.3 319.0 404.4 322.5 412.1 326.1 445.7 329.6 71.3 333.2 83.1 336.7 92.1 340.3 104.8 343.9 120.9 347.4 125.6 351.0 137.5 354.5 144.4 358.1 165.6 361.6 179.2 365.2 193.6 368.7 204.0 372.3 215.0 375.8 227.9 379.4 244.2 382.9 270.9 386.5 278.7 390.0 301.0 393.6 316.8 397.2 319.8 400.7 332.9 404.3 339.3 407.8 356.5 411.4 365.0 414.9 377.7 418.5 391.6 422.0 405.5 425.6 420.7 429.1 438.6 432.7 58.9 436.2 76.8 439.8 89.7 443.4 92.3 446.9 107.6"/><path d="M95.1 261.5 98.6 296.4 102.2 306.4 105.8 320.5 109.3 337.6 112.9 354.2 116.4 368.8 120.0 381.0 123.5 394.7 127.1 412.0 130.6 426.7 134.2 439.5 137.7 62.6 141.3 74.7 144.8 90.9 148.4 96.6 152.0 107.4 155.5 125.4 159.1 138.4 162.6 154.6 166.2 176.4 169.7 191.8 173.3 211.1 176.8 224.6 180.4 239.0 183.9 250.7 187.5 264.8 191.0 277.2 194.6 290.3 198.1 302.2 201.7 308.7 205.3 321.7 208.8 335.7 212.4 352.4 215.9 364.8 219.5 384.3 223.0 401.4 226.6 417.3 230.1 432.1 233.7 63.3 237.2 84.1 240.8 97.2 244.3 112.2 247.9 127.1 251.5 140.0 255.0 153.4 258.6 179.2 262.1 194.5 265.7 212.7 269.2 228.3 272.8 248.6 276.3 258.3 279.9 264.8 283.4 279.7 287.0 292.3 290.5 298.4 294.1 304.0 297.7 313.6 301.2 321.2 304.8 333.9 308.3 338.8 311.9 346.3 315.4 359.6 319.0 362.4 322.5 373.2 326.1 394.0 329.6 406.9 333.2 431.3 336.7 428.1 340.3 435.6 343.9 57.4 347.4 64.2 351.0 81.4 354.5 87.2 358.1 95.2 361.6 116.7 365.2 132.8 368.7 136.3 372.3 153.6 375.8 158.3 379.4 173.1 382.9 185.0 386.5 203.3 390.0 206.1 393.6 222.6 397.2 244.3 400.7 252.3 404.3 259.2 407.8 270.3 411.4 277.6 414.9 288.6 418.5 309.8 422.0 324.3 425.6 337.2 429.1 353.5 432.7 378.7 436.2 392.3 439.8 409.1 443.4 421.8 446.9 439.8"/><path d="M95.1 261.5 98.6 286.3 102.2 297.3 105.8 311.9 109.3 327.6 112.9 341.3 116.4 350.6 120.0 363.1 123.5 371.8 127.1 387.6 130.6 397.2 134.2 406.7 137.7 423.9 141.3 442.0 144.8 59.7 148.4 74.1 152.0 95.4 155.5 109.8 159.1 122.1 162.6 132.3 166.2 136.9 169.7 153.6 173.3 173.8 176.8 187.6 180.4 202.7 183.9 223.9 187.5 232.2 191.0 247.8 194.6 273.0 198.1 285.9 201.7 294.7 205.3 304.4 208.8 320.8 212.4 335.4 215.9 359.9 219.5 374.8 223.0 397.9 226.6 417.5 230.1 448.3 233.7 60.1 237.2 85.9 240.8 100.6 244.3 116.3 247.9 133.8 251.5 151.0 255.0 170.0 258.6 179.1 262.1 202.4 265.7 215.7 269.2 230.1 272.8 254.7 276.3 272.1 279.9 286.5 283.4 297.6 287.0 297.5 290.5 318.1 294.1 333.0 297.7 342.6 301.2 359.3 304.8 369.0 308.3 396.2 311.9 405.3 315.4 421.5 319.0 441.0 322.5 74.9 326.1 92.5 329.6 104.3 333.2 115.8 336.7 122.7 340.3 129.3 343.9 151.9 347.4 170.6 351.0 185.3 354.5 208.8 358.1 217.8 361.6 233.0 365.2 244.7 368.7 255.5 372.3 269.8 375.8 282.3 379.4 290.5 382.9 295.9 386.5 320.1 390.0 337.2 393.6 343.2 397.2 353.1 400.7 369.9 404.3 386.3 407.8 406.6 411.4 426.4 414.9 431.1 418.5 444.8 422.0 73.4 425.6 91.6 429.1 106.4 432.7 121.5 436.2 127.9 439.8 138.1 443.4 153.5 446.9 169.7"/><path d="M95.1 261.5 98.6 297.3 102.2 310.8 105.8 329.6 109.3 337.3 112.9 351.3 116.4 357.5 120.0 370.6 123.5 387.0 127.1 401.8 130.6 413.9 134.2 428.5 137.7 440.1 141.3 62.5 144.8 87.6 148.4 104.0 152.0 121.1 155.5 132.1 159.1 147.3 162.6 161.1 166.2 176.3 169.7 187.1 173.3 200.0 176.8 210.6 180.4 223.3 183.9 235.9 187.5 253.2 191.0 267.2 194.6 285.8 198.1 293.8 201.7 311.2 205.3 326.9 208.8 345.6 212.4 357.9 215.9 373.0 219.5 387.5 223.0 402.5 226.6 422.9 230.1 441.7 233.7 64.4 237.2 82.6 240.8 100.7 244.3 122.3 247.9 139.0 251.5 166.6 255.0 183.2 258.6 198.3 262.1 213.2 265.7 227.5 269.2 246.4 272.8 260.8 276.3 277.8 279.9 300.3 283.4 315.3 287.0 334.3 290.5 335.4 294.1 342.0 297.7 352.0 301.2 368.2 304.8 382.0 308.3 410.9 311.9 420.5 315.4 444.7 319.0 66.3 322.5 73.3 326.1 84.4 329.6 94.2 333.2 106.7 336.7 113.6 340.3 129.0 343.9 145.0 347.4 151.6 351.0 162.6 354.5 170.9 358.1 180.5 361.6 191.9 365.2 197.2 368.7 210.1 372.3 213.4 375.8 224.8 379.4 231.4 382.9 248.5 386.5 256.7 390.0 266.3 393.6 278.1 397.2 276.8 400.7 288.3 404.3 303.5 407.8 326.3 411.4 342.6 414.9 351.2 418.5 362.9 422.0 366.3 425.6 374.7 429.1 378.7 432.7 384.5 436.2 392.6 439.8 404.3 443.4 419.0 446.9 439.3"/><path d="M95.1 261.5 98.6 292.3 102.2 305.8 105.8 317.5 109.3 331.7 112.9 347.6 116.4 364.1 120.0 370.3 123.5 388.2 127.1 395.6 130.6 408.7 134.2 419.4 137.7 434.4 141.3 439.3 144.8 66.7 148.4 89.0 152.0 105.2 155.5 122.0 159.1 136.6 162.6 149.6 166.2 165.4 169.7 185.3 173.3 188.4 176.8 200.9 180.4 223.5 183.9 234.8 187.5 255.3 191.0 271.1 194.6 288.7 198.1 307.5 201.7 322.7 205.3 340.1 208.8 353.0 212.4 380.0 215.9 398.3 219.5 415.0 223.0 452.6 226.6 60.9 230.1 79.8 233.7 97.0 237.2 113.1 240.8 131.9 244.3 148.7 247.9 163.7 251.5 177.9 255.0 188.9 258.6 208.1 262.1 226.9 265.7 244.0 269.2 260.7 272.8 270.4 276.3 284.6 279.9 296.7 283.4 306.1 287.0 313.2 290.5 331.1 294.1 340.6 297.7 345.7 301.2 351.4 304.8 363.2 308.3 369.8 311.9 380.0 315.4 395.3 319.0 411.1 322.5 426.5 326.1 430.2 329.6 57.2 333.2 71.1 336.7 73.3 340.3 87.5 343.9 100.5 347.4 121.3 351.0 144.6 354.5 160.9 358.1 175.2 361.6 191.6 365.2 195.1 368.7 214.4 372.3 234.1 375.8 234.4 379.4 234.3 382.9 232.5 386.5 239.8 390.0 246.1 393.6 270.9 397.2 274.5 400.7 281.4 404.3 291.1 407.8 301.5 411.4 318.1 414.9 320.5 418.5 327.9 422.0 332.9 425.6 342.3 429.1 352.5 432.7 366.8 436.2 379.7 439.8 389.9 443.4 396.1 446.9 411.0"/><path d="M95.1 261.5 98.6 287.9 102.2 299.9 105.8 313.8 109.3 325.4 112.9 336.7 116.4 351.2 120.0 368.5 123.5 374.8 127.1 385.8 130.6 404.7 134.2 420.7 137.7 440.5 141.3 62.0 144.8 72.7 148.4 89.2 152.0 110.3 155.5 123.7 159.1 140.6 162.6 151.5 166.2 164.3 169.7 177.0 173.3 198.5 176.8 214.7 180.4 230.4 183.9 241.4 187.5 253.7 191.0 270.7 194.6 282.1 198.1 299.0 201.7 311.5 205.3 316.9 208.8 333.8 212.4 345.5 215.9 354.3 219.5 370.9 223.0 387.8 226.6 404.9 230.1 425.7 233.7 59.1 237.2 80.9 240.8 95.4 244.3 114.3 247.9 131.6 251.5 149.7 255.0 166.3 258.6 180.5 262.1 196.7 265.7 214.2 269.2 228.2 272.8 251.0 276.3 270.8 279.9 289.2 283.4 294.9 287.0 296.8 290.5 317.9 294.1 330.1 297.7 354.7 301.2 364.9 304.8 377.8 308.3 384.6 311.9 404.2 315.4 410.5 319.0 417.2 322.5 433.3 326.1 64.8 329.6 76.8 333.2 80.5 336.7 87.6 340.3 94.8 343.9 112.7 347.4 124.8 351.0 132.2 354.5 144.0 358.1 156.9 361.6 171.3 365.2 183.4 368.7 204.7 372.3 202.0 375.8 218.3 379.4 228.0 382.9 241.4 386.5 256.8 390.0 273.1 393.6 291.3 397.2 302.9 400.7 319.1 404.3 333.4 407.8 341.3 411.4 357.3 414.9 364.1 418.5 375.4 422.0 376.6 425.6 383.7 429.1 389.7 432.7 405.6 436.2 410.7 439.8 410.7 443.4 417.4 446.9 428.4"/><path d="M95.1 261.5 98.6 293.0 102.2 305.5 105.8 316.5 109.3 331.1 112.9 343.1 116.4 349.6 120.0 364.3 123.5 389.0 127.1 397.2 130.6 414.1 134.2 432.7 137.7 58.4 141.3 77.6 144.8 92.3 148.4 105.5 152.0 122.6 155.5 138.5 159.1 153.6 162.6 169.6 166.2 180.9 169.7 194.0 173.3 199.0 176.8 218.2 180.4 232.5 183.9 251.0 187.5 267.5 191.0 283.5 194.6 295.0 198.1 308.2 201.7 329.6 205.3 341.2 208.8 359.0 212.4 374.1 215.9 384.8 219.5 401.7 223.0 408.3 226.6 418.7 230.1 450.5 233.7 61.4 237.2 80.0 240.8 98.4 244.3 113.1 247.9 126.8 251.5 138.0 255.0 149.1 258.6 168.0 262.1 185.7 265.7 213.1 269.2 236.2 272.8 257.0 276.3 281.3 279.9 280.9 283.4 286.0 287.0 309.0 290.5 331.8 294.1 345.8 297.7 359.9 301.2 362.9 304.8 371.3 308.3 387.5 311.9 399.3 315.4 411.9 319.0 432.4 322.5 442.3 326.1 68.3 329.6 84.7 333.2 96.5 336.7 99.4 340.3 104.5 343.9 121.8 347.4 135.0 351.0 143.4 354.5 164.3 358.1 175.9 361.6 181.5 365.2 193.4 368.7 201.9 372.3 204.2 375.8 226.2 379.4 231.1 382.9 234.9 386.5 237.8 390.0 245.8 393.6 264.3 397.2 281.9 400.7 297.8 404.3 303.7 407.8 312.6 411.4 326.5 414.9 337.6 418.5 350.2 422.0 351.8 425.6 363.7 429.1 367.9 432.7 372.3 436.2 379.5 439.8 388.3 443.4 386.8 446.9 406.0"/><path d="M95.1 261.5 98.6 294.7 102.2 307.3 105.8 319.7 109.3 334.0 112.9 350.2 116.4 370.1 120.0 380.2 123.5 395.5 127.1 410.6 130.6 432.3 134.2 441.6 137.7 71.0 141.3 92.1 144.8 104.5 148.4 116.9 152.0 132.2 155.5 147.5 159.1 164.0 162.6 177.4 166.2 186.4 169.7 204.8 173.3 217.1 176.8 227.2 180.4 244.2 183.9 259.9 187.5 280.3 191.0 288.9 194.6 297.8 198.1 321.5 201.7 346.9 205.3 365.5 208.8 377.4 212.4 389.3 215.9 401.3 219.5 418.6 223.0 434.2 226.6 58.5 230.1 69.2 233.7 86.6 237.2 100.6 240.8 114.8 244.3 136.7 247.9 152.0 251.5 161.9 255.0 175.3 258.6 198.9 262.1 217.2 265.7 234.0 269.2 252.4 272.8 265.0 276.3 276.0 279.9 293.9 283.4 295.0 287.0 308.2 290.5 315.0 294.1 330.4 297.7 333.1 301.2 347.0 304.8 379.5 308.3 389.8 311.9 398.8 315.4 403.1 319.0 437.0 322.5 60.4 326.1 74.8 329.6 89.1 333.2 106.6 336.7 121.2 340.3 122.8 343.9 123.2 347.4 128.9 351.0 136.9 354.5 153.5 358.1 174.4 361.6 183.7 365.2 194.2 368.7 208.5 372.3 213.3 375.8 225.9 379.4 251.3 382.9 261.5 386.5 277.7 390.0 292.8 393.6 308.2 397.2 325.7 400.7 338.1 404.3 343.3 407.8 350.9 411.4 374.4 414.9 380.7 418.5 394.7 422.0 407.7 425.6 405.0 429.1 433.2 432.7 60.3 436.2 81.1 439.8 96.8 443.4 119.2 446.9 132.4"/><path d="M95.1 261.5 98.6 296.1 102.2 308.9 105.8 322.0 109.3 338.3 112.9 348.6 116.4 365.5 120.0 373.6 123.5 385.7 127.1 398.1 130.6 414.0 134.2 419.5 137.7 437.9 141.3 67.9 144.8 81.5 148.4 97.3 152.0 108.0 155.5 114.4 159.1 130.3 162.6 139.9 166.2 151.1 169.7 161.4 173.3 175.3 176.8 193.4 180.4 214.2 183.9 232.3 187.5 253.7 191.0 268.1 194.6 279.2 198.1 291.0 201.7 316.1 205.3 335.2 208.8 348.8 212.4 367.3 215.9 382.9 219.5 400.5 223.0 411.2 226.6 429.7 230.1 58.0 233.7 87.4 237.2 103.7 240.8 123.2 244.3 142.8 247.9 159.2 251.5 185.2 255.0 199.9 258.6 215.4 262.1 230.9 265.7 257.9 269.2 278.0 272.8 296.5 276.3 299.9 279.9 303.9 283.4 311.0 287.0 322.1 290.5 329.7 294.1 347.2 297.7 374.4 301.2 386.2 304.8 396.5 308.3 406.7 311.9 424.6 315.4 462.4 319.0 57.8 322.5 69.2 326.1 89.1 329.6 104.2 333.2 118.8 336.7 130.1 340.3 129.6 343.9 155.9 347.4 175.2 351.0 194.7 354.5 209.5 358.1 219.6 361.6 233.4 365.2 249.0 368.7 261.1 372.3 261.7 375.8 275.9 379.4 278.9 382.9 285.1 386.5 290.6 390.0 299.0 393.6 303.3 397.2 308.6 400.7 321.7 404.3 346.5 407.8 368.2 411.4 389.7 414.9 401.5 418.5 413.9 422.0 431.9 425.6 440.9 429.1 64.6 432.7 87.2 436.2 109.3 439.8 126.9 443.4 147.2 446.9 161.1"/><path d="M95.1 261.5 98.6 303.6 102.2 317.0 105.8 330.8 109.3 343.6 112.9 358.4 116.4 368.7 120.0 374.2 123.5 391.6 127.1 404.6 130.6 421.6 134.2 437.1 137.7 65.7 141.3 85.3 144.8 104.7 148.4 124.8 152.0 134.4 155.5 145.3 159.1 165.1 162.6 186.5 166.2 202.7 169.7 213.2 173.3 228.0 176.8 241.7 180.4 262.6 183.9 281.2 187.5 300.2 191.0 319.9 194.6 338.0 198.1 352.4 201.7 368.3 205.3 380.5 208.8 388.8 212.4 409.1 215.9 424.9 219.5 436.9 223.0 67.4 226.6 81.5 230.1 100.5 233.7 118.6 237.2 129.1 240.8 147.9 244.3 169.1 247.9 189.4 251.5 211.5 255.0 229.7 258.6 249.6 262.1 266.9 265.7 287.6 269.2 302.6 272.8 314.5 276.3 321.9 279.9 336.2 283.4 345.1 287.0 361.2 290.5 362.7 294.1 372.8 297.7 380.1 301.2 393.0 304.8 407.4 308.3 425.3 311.9 431.4 315.4 445.0 319.0 67.2 322.5 82.6 326.1 107.9 329.6 120.7 333.2 143.9 336.7 158.5 340.3 162.9 343.9 172.7 347.4 187.5 351.0 207.2 354.5 209.7 358.1 222.0 361.6 242.4 365.2 253.6 368.7 261.8 372.3 271.2 375.8 282.0 379.4 300.5 382.9 312.9 386.5 315.0 390.0 317.6 393.6 333.2 397.2 347.3 400.7 364.1 404.3 369.6 407.8 378.8 411.4 380.0 414.9 400.4 418.5 400.4 422.0 399.9 425.6 417.4 429.1 431.1 432.7 454.6 436.2 80.9 439.8 96.6 443.4 104.9 446.9 125.7"/><path d="M95.1 261.5 98.6 278.5 102.2 292.5 105.8 309.6 109.3 328.0 112.9 349.6 116.4 370.6 120.0 388.4 123.5 407.7 127.1 423.7 130.6 444.7 134.2 70.2 137.7 93.8 141.3 117.6 144.8 135.0 148.4 152.7 152.0 171.1 155.5 189.0 159.1 209.5 162.6 234.8 166.2 250.6 169.7 271.0 173.3 292.9 176.8 309.8 180.4 327.8 183.9 347.7 187.5 364.1 191.0 374.2 194.6 381.5 198.1 396.7 201.7 415.9 205.3 433.1 208.8 67.9 212.4 90.8 215.9 112.1 219.5 133.3 223.0 156.2 226.6 183.1 230.1 206.9 233.7 227.6 237.2 242.7 240.8 262.2 244.3 278.3 247.9 294.8 251.5 301.9 255.0 318.8 258.6 340.2 262.1 355.3 265.7 373.6 269.2 386.1 272.8 403.0 276.3 406.3 279.9 418.1 283.4 436.1 287.0 62.2 290.5 74.6 294.1 95.9 297.7 99.7 301.2 115.5 304.8 126.8 308.3 144.6 311.9 167.2 315.4 176.4 319.0 187.4 322.5 193.5 326.1 209.7 329.6 219.6 333.2 239.6 336.7 240.2 340.3 256.9 343.9 267.1 347.4 281.0 351.0 289.7 354.5 305.0 358.1 305.9 361.6 315.5 365.2 332.1 368.7 347.5 372.3 348.3 375.8 357.4 379.4 374.0 382.9 387.3 386.5 388.4 390.0 401.2 393.6 411.0 397.2 429.7 400.7 436.5 404.3 57.9 407.8 64.2 411.4 74.3 414.9 85.6 418.5 102.9 422.0 116.4 425.6 124.1 429.1 133.9 432.7 147.1 436.2 159.6 439.8 163.6 443.4 174.0 446.9 190.3"/><path d="M95.1 261.5 98.6 279.7 102.2 300.0 105.8 319.7 109.3 339.8 112.9 361.8 116.4 371.4 120.0 384.5 123.5 402.2 127.1 437.2 130.6 67.9 134.2 84.2 137.7 105.1 141.3 121.3 144.8 138.7 148.4 152.3 152.0 171.1 155.5 192.4 159.1 207.3 162.6 226.6 166.2 246.6 169.7 265.0 173.3 282.4 176.8 299.8 180.4 328.0 183.9 343.3 187.5 363.5 191.0 381.9 194.6 400.3 198.1 420.4 201.7 463.7 205.3 68.0 208.8 85.8 212.4 101.8 215.9 120.7 219.5 143.3 223.0 160.5 226.6 179.2 230.1 199.7 233.7 224.8 237.2 246.6 240.8 269.7 244.3 291.4 247.9 310.1 251.5 322.6 255.0 344.6 258.6 352.8 262.1 367.0 265.7 390.3 269.2 417.9 272.8 442.2 276.3 68.0 279.9 79.9 283.4 93.4 287.0 96.7 290.5 105.2 294.1 119.8 297.7 133.2 301.2 145.1 304.8 154.0 308.3 167.3 311.9 183.2 315.4 189.3 319.0 204.0 322.5 214.5 326.1 218.7 329.6 238.5 333.2 243.4 336.7 255.5 340.3 261.2 343.9 281.3 347.4 296.1 351.0 311.5 354.5 328.8 358.1 345.9 361.6 354.9 365.2 368.0 368.7 386.6 372.3 409.1 375.8 417.3 379.4 424.2 382.9 451.4 386.5 73.7 390.0 84.0 393.6 104.0 397.2 133.5 400.7 143.3 404.3 157.9 407.8 177.8 411.4 186.9 414.9 194.4 418.5 202.1 422.0 227.1 425.6 233.1 429.1 250.0 432.7 267.6 436.2 275.6 439.8 291.8 443.4 307.7 446.9 329.3"/><path d="M95.1 261.5 98.6 281.6 102.2 302.1 105.8 323.8 109.3 344.5 112.9 357.8 116.4 380.2 120.0 399.5 123.5 426.0 127.1 63.6 130.6 73.1 134.2 89.2 137.7 109.1 141.3 121.4 144.8 146.5 148.4 163.8 152.0 178.3 155.5 197.4 159.1 212.3 162.6 234.0 166.2 252.5 169.7 272.4 173.3 287.4 176.8 309.3 180.4 322.6 183.9 345.4 187.5 363.3 191.0 378.5 194.6 401.8 198.1 415.4 201.7 440.7 205.3 63.9 208.8 87.6 212.4 100.6 215.9 114.0 219.5 131.8 223.0 155.4 226.6 177.4 230.1 204.4 233.7 223.4 237.2 248.6 240.8 268.1 244.3 281.8 247.9 304.0 251.5 327.5 255.0 345.9 258.6 367.9 262.1 387.3 265.7 405.0 269.2 420.2 272.8 445.6 276.3 69.4 279.9 76.3 283.4 89.5 287.0 98.0 290.5 117.2 294.1 131.9 297.7 134.8 301.2 148.8 304.8 152.9 308.3 161.0 311.9 184.7 315.4 196.5 319.0 202.4 322.5 220.6 326.1 237.0 329.6 247.4 333.2 255.8 336.7 280.8 340.3 298.9 343.9 304.9 347.4 319.3 351.0 341.9 354.5 353.3 358.1 360.8 361.6 366.0 365.2 374.9 368.7 382.0 372.3 400.5 375.8 405.4 379.4 421.5 382.9 450.6 386.5 63.4 390.0 83.2 393.6 105.6 397.2 113.2 400.7 117.6 404.3 129.4 407.8 143.7 411.4 152.7 414.9 165.4 418.5 179.3 422.0 198.2 425.6 199.7 429.1 209.1 432.7 227.7 436.2 238.9 439.8 246.1 443.4 255.0 446.9 269.9"/></g><g fill="#000" fill-opacity="0.5" stroke="#000" stroke-opacity="0.5" stroke-width="1.39"><circle cx="272.6" cy="56.1" r="3.47"/><circle cx="272.6" cy="64.0" r="3.47"/><circle cx="272.6" cy="69.0" r="3.47"/><circle cx="272.6" cy="74.0" r="3.47"/><circle cx="272.6" cy="76.0" r="3.47"/><circle cx="272.6" cy="77.5" r="3.47"/><circle cx="272.6" cy="78.5" r="3.47"/><circle cx="272.6" cy="79.3" r="3.47"/><circle cx="272.6" cy="79.9" r="3.47"/><circle cx="272.6" cy="81.0" r="3.47"/><circle cx="272.6" cy="83.5" r="3.47"/><circle cx="272.6" cy="84.3" r="3.47"/><circle cx="272.6" cy="80.3" r="3.47"/><circle cx="272.6" cy="81.1" r="3.47"/><circle cx="272.6" cy="86.5" r="3.47"/><circle cx="272.6" cy="80.6" r="3.47"/><circle cx="272.6" cy="81.0" r="3.47"/><circle cx="272.6" cy="86.6" r="3.47"/><circle cx="272.6" cy="84.4" r="3.47"/><circle cx="272.6" cy="82.6" r="3.47"/><circle cx="272.6" cy="83.6" r="3.47"/><circle cx="272.6" cy="84.7" r="3.47"/><circle cx="272.6" cy="82.0" r="3.47"/><circle cx="272.6" cy="89.7" r="3.47"/><circle cx="272.6" cy="97.5" r="3.47"/><circle cx="272.6" cy="96.0" r="3.47"/><circle cx="272.6" cy="94.1" r="3.47"/><circle cx="272.6" cy="103.5" r="3.47"/><circle cx="272.6" cy="102.6" r="3.47"/><circle cx="272.6" cy="103.9" r="3.47"/><circle cx="272.6" cy="101.6" r="3.47"/><circle cx="272.6" cy="102.7" r="3.47"/><circle cx="272.6" cy="102.5" r="3.47"/><circle cx="272.6" cy="102.1" r="3.47"/><circle cx="272.6" cy="102.8" r="3.47"/><circle cx="272.6" cy="101.7" r="3.47"/><circle cx="272.6" cy="103.4" r="3.47"/><circle cx="272.6" cy="103.6" r="3.47"/><circle cx="272.6" cy="107.2" r="3.47"/><circle cx="272.6" cy="115.3" r="3.47"/><circle cx="272.6" cy="110.7" r="3.47"/><circle cx="272.6" cy="106.1" r="3.47"/><circle cx="272.6" cy="125.5" r="3.47"/><circle cx="272.6" cy="114.4" r="3.47"/><circle cx="272.6" cy="107.6" r="3.47"/><circle cx="272.6" cy="120.2" r="3.47"/><circle cx="272.6" cy="108.9" r="3.47"/><circle cx="272.6" cy="125.6" r="3.47"/><circle cx="272.6" cy="109.3" r="3.47"/><circle cx="272.6" cy="104.9" r="3.47"/><circle cx="272.6" cy="108.9" r="3.47"/><circle cx="272.6" cy="112.4" r="3.47"/><circle cx="272.6" cy="115.3" r="3.47"/><circle cx="272.6" cy="125.8" r="3.47"/><circle cx="272.6" cy="120.8" r="3.47"/><circle cx="272.6" cy="112.2" r="3.47"/><circle cx="272.6" cy="104.5" r="3.47"/><circle cx="272.6" cy="107.9" r="3.47"/><circle cx="272.6" cy="127.9" r="3.47"/><circle cx="272.6" cy="115.1" r="3.47"/><circle cx="272.6" cy="120.6" r="3.47"/><circle cx="272.6" cy="105.4" r="3.47"/><circle cx="272.6" cy="104.9" r="3.47"/><circle cx="272.6" cy="124.3" r="3.47"/><circle cx="272.6" cy="118.2" r="3.47"/><circle cx="272.6" cy="111.5" r="3.47"/><circle cx="272.6" cy="111.7" r="3.47"/><circle cx="272.6" cy="106.2" r="3.47"/><circle cx="272.6" cy="108.2" r="3.47"/><circle cx="272.6" cy="104.7" r="3.47"/><circle cx="272.6" cy="124.2" r="3.47"/><circle cx="272.6" cy="138.4" r="3.47"/><circle cx="272.6" cy="132.3" r="3.47"/><circle cx="272.6" cy="143.3" r="3.47"/><circle cx="272.6" cy="133.5" r="3.47"/><circle cx="272.6" cy="131.1" r="3.47"/><circle cx="272.6" cy="150.4" r="3.47"/><circle cx="272.6" cy="151.6" r="3.47"/><circle cx="272.6" cy="148.1" r="3.47"/><circle cx="272.6" cy="151.2" r="3.47"/><circle cx="272.6" cy="148.8" r="3.47"/><circle cx="272.6" cy="148.4" r="3.47"/><circle cx="272.6" cy="148.1" r="3.47"/><circle cx="272.6" cy="149.2" r="3.47"/><circle cx="272.6" cy="150.9" r="3.47"/><circle cx="272.6" cy="150.0" r="3.47"/><circle cx="272.6" cy="151.4" r="3.47"/><circle cx="272.6" cy="148.9" r="3.47"/><circle cx="272.6" cy="149.3" r="3.47"/><circle cx="272.6" cy="149.0" r="3.47"/><circle cx="272.6" cy="151.9" r="3.47"/><circle cx="272.6" cy="151.8" r="3.47"/><circle cx="272.6" cy="149.4" r="3.47"/><circle cx="272.6" cy="149.7" r="3.47"/><circle cx="272.6" cy="149.3" r="3.47"/><circle cx="272.6" cy="151.0" r="3.47"/><circle cx="272.6" cy="148.2" r="3.47"/><circle cx="272.6" cy="148.3" r="3.47"/><circle cx="272.6" cy="149.6" r="3.47"/><circle cx="272.6" cy="149.0" r="3.47"/><circle cx="272.6" cy="151.4" r="3.47"/><circle cx="272.6" cy="151.0" r="3.47"/><circle cx="272.6" cy="150.2" r="3.47"/><circle cx="272.6" cy="150.6" r="3.47"/><circle cx="272.6" cy="163.1" r="3.47"/><circle cx="272.6" cy="164.5" r="3.47"/><circle cx="272.6" cy="166.8" r="3.47"/><circle cx="272.6" cy="154.5" r="3.47"/><circle cx="272.6" cy="162.1" r="3.47"/><circle cx="272.6" cy="154.4" r="3.47"/><circle cx="272.6" cy="159.1" r="3.47"/><circle cx="272.6" cy="164.6" r="3.47"/><circle cx="272.6" cy="166.3" r="3.47"/><circle cx="272.6" cy="164.2" r="3.47"/><circle cx="272.6" cy="152.7" r="3.47"/><circle cx="272.6" cy="157.8" r="3.47"/><circle cx="272.6" cy="154.7" r="3.47"/><circle cx="272.6" cy="168.0" r="3.47"/><circle cx="272.6" cy="154.4" r="3.47"/><circle cx="272.6" cy="156.0" r="3.47"/><circle cx="272.6" cy="157.8" r="3.47"/><circle cx="272.6" cy="153.1" r="3.47"/><circle cx="272.6" cy="165.9" r="3.47"/><circle cx="272.6" cy="162.2" r="3.47"/><circle cx="272.6" cy="154.6" r="3.47"/><circle cx="272.6" cy="160.0" r="3.47"/><circle cx="272.6" cy="153.4" r="3.47"/><circle cx="272.6" cy="161.8" r="3.47"/><circle cx="272.6" cy="155.8" r="3.47"/><circle cx="272.6" cy="152.7" r="3.47"/><circle cx="272.6" cy="153.9" r="3.47"/><circle cx="272.6" cy="160.9" r="3.47"/><circle cx="272.6" cy="173.8" r="3.47"/><circle cx="272.6" cy="171.9" r="3.47"/><circle cx="272.6" cy="173.9" r="3.47"/><circle cx="272.6" cy="172.1" r="3.47"/><circle cx="272.6" cy="170.8" r="3.47"/><circle cx="272.6" cy="179.5" r="3.47"/><circle cx="272.6" cy="180.4" r="3.47"/><circle cx="272.6" cy="186.0" r="3.47"/><circle cx="272.6" cy="177.4" r="3.47"/><circle cx="272.6" cy="187.9" r="3.47"/><circle cx="272.6" cy="192.6" r="3.47"/><circle cx="272.6" cy="196.6" r="3.47"/><circle cx="272.6" cy="196.1" r="3.47"/><circle cx="272.6" cy="194.0" r="3.47"/><circle cx="272.6" cy="187.7" r="3.47"/><circle cx="272.6" cy="195.1" r="3.47"/><circle cx="272.6" cy="193.8" r="3.47"/><circle cx="272.6" cy="188.4" r="3.47"/><circle cx="272.6" cy="191.6" r="3.47"/><circle cx="272.6" cy="187.5" r="3.47"/><circle cx="272.6" cy="195.0" r="3.47"/><circle cx="272.6" cy="194.2" r="3.47"/><circle cx="272.6" cy="195.0" r="3.47"/><circle cx="272.6" cy="194.6" r="3.47"/><circle cx="272.6" cy="189.7" r="3.47"/><circle cx="272.6" cy="194.9" r="3.47"/><circle cx="272.6" cy="189.5" r="3.47"/><circle cx="272.6" cy="188.4" r="3.47"/><circle cx="272.6" cy="190.9" r="3.47"/><circle cx="272.6" cy="192.0" r="3.47"/><circle cx="272.6" cy="189.9" r="3.47"/><circle cx="272.6" cy="193.1" r="3.47"/><circle cx="272.6" cy="193.0" r="3.47"/><circle cx="272.6" cy="189.4" r="3.47"/><circle cx="272.6" cy="193.2" r="3.47"/><circle cx="272.6" cy="190.6" r="3.47"/><circle cx="272.6" cy="194.3" r="3.47"/><circle cx="272.6" cy="189.9" r="3.47"/><circle cx="272.6" cy="195.0" r="3.47"/><circle cx="272.6" cy="200.7" r="3.47"/><circle cx="272.6" cy="202.0" r="3.47"/><circle cx="272.6" cy="203.1" r="3.47"/><circle cx="272.6" cy="201.7" r="3.47"/><circle cx="272.6" cy="199.3" r="3.47"/><circle cx="272.6" cy="205.8" r="3.47"/><circle cx="272.6" cy="214.0" r="3.47"/><circle cx="272.6" cy="209.0" r="3.47"/><circle cx="272.6" cy="211.0" r="3.47"/><circle cx="272.6" cy="218.0" r="3.47"/><circle cx="272.6" cy="221.0" r="3.47"/><circle cx="272.6" cy="223.0" r="3.47"/><circle cx="272.6" cy="225.7" r="3.47"/><circle cx="272.6" cy="235.5" r="3.47"/><circle cx="272.6" cy="241.0" r="3.47"/><circle cx="272.6" cy="246.0" r="3.47"/><circle cx="272.6" cy="230.0" r="3.47"/><circle cx="272.6" cy="248.6" r="3.47"/><circle cx="272.6" cy="254.7" r="3.47"/><circle cx="272.6" cy="260.8" r="3.47"/><circle cx="272.6" cy="270.4" r="3.47"/><circle cx="272.6" cy="251.0" r="3.47"/><circle cx="272.6" cy="257.0" r="3.47"/><circle cx="272.6" cy="265.0" r="3.47"/><circle cx="272.6" cy="296.5" r="3.47"/><circle cx="272.6" cy="314.5" r="3.47"/><circle cx="272.6" cy="403.0" r="3.47"/><circle cx="272.6" cy="439.5" r="3.47"/><circle cx="272.6" cy="440.0" r="3.47"/></g><rect x="271.0" y="465" width="2.0" height="6.2" fill="#1f77b4"/><path d="M542.5 56H639V80H542.5ZM542.5 80H857V104H542.5ZM542.5 104H900V128H542.5ZM542.5 128H900V152H542.5ZM542.5 152H900V176H542.5ZM542.5 176H911V200H542.5ZM542.5 200H672V224H542.5ZM542.5 224H596V248H542.5ZM542.5 248H618V272H542.5ZM542.5 296H564V320H542.5ZM542.5 392H553V416H542.5ZM542.5 416H564V440H542.5Z" fill="#1f77b4" fill-opacity="0.5"/><g stroke="#b0b0b0" stroke-opacity="0.42" stroke-width="1.11" fill="none"><path d="M542.5 471.50H929.5"/><path d="M542.5 387.50H929.5"/><path d="M542.5 303.50H929.5"/><path d="M542.5 219.50H929.5"/><path d="M542.5 135.50H929.5"/><path d="M542.5 51.50H929.5"/><path d="M604.50 9.5V471.5"/><path d="M666.50 9.5V471.5"/><path d="M728.50 9.5V471.5"/><path d="M790.50 9.5V471.5"/><path d="M852.50 9.5V471.5"/><path d="M914.50 9.5V471.5"/></g><rect x="77.50" y="9.50" width="387.00" height="462.00" fill="none" stroke="#000" stroke-width="1.11"/><rect x="542.50" y="9.50" width="387.00" height="462.00" fill="none" stroke="#000" stroke-width="1.11"/><path d="M72.64 471.50H77.50M72.64 387.50H77.50M72.64 303.50H77.50M72.64 219.50H77.50M72.64 135.50H77.50M72.64 51.50H77.50M537.64 471.50H542.50M537.64 387.50H542.50M537.64 303.50H542.50M537.64 219.50H542.50M537.64 135.50H542.50M537.64 51.50H542.50M272.45 471.5V476.36M542.50 471.5V476.36M604.50 471.5V476.36M666.50 471.5V476.36M728.50 471.5V476.36M790.50 471.5V476.36M852.50 471.5V476.36M914.50 471.5V476.36" stroke="#000" stroke-width="1.11" fill="none"/><text transform="translate(59.25 477.77) scale(1.082 1)" font-size="14.30">0</text><text transform="translate(49.44 393.77) scale(1.082 1)" font-size="14.30">20</text><text transform="translate(49.44 309.77) scale(1.082 1)" font-size="14.30">40</text><text transform="translate(49.44 225.77) scale(1.082 1)" font-size="14.30">60</text><text transform="translate(49.44 141.77) scale(1.082 1)" font-size="14.30">80</text><text transform="translate(40.84 57.77) scale(1.082 1)" font-size="14.30">100</text><text transform="translate(524.25 477.77) scale(1.082 1)" font-size="14.30">0</text><text transform="translate(514.44 393.77) scale(1.082 1)" font-size="14.30">20</text><text transform="translate(514.44 309.77) scale(1.082 1)" font-size="14.30">40</text><text transform="translate(514.44 225.77) scale(1.082 1)" font-size="14.30">60</text><text transform="translate(514.44 141.77) scale(1.082 1)" font-size="14.30">80</text><text transform="translate(505.84 57.77) scale(1.082 1)" font-size="14.30">100</text><text transform="translate(523.07 492.65) scale(1.082 1)" font-size="14.30">0.000</text><text transform="translate(585.09 492.65) scale(1.082 1)" font-size="14.30">0.005</text><text transform="translate(647.07 492.65) scale(1.082 1)" font-size="14.30">0.010</text><text transform="translate(709.09 492.65) scale(1.082 1)" font-size="14.30">0.015</text><text transform="translate(771.07 492.65) scale(1.082 1)" font-size="14.30">0.020</text><text transform="translate(833.09 492.65) scale(1.082 1)" font-size="14.30">0.025</text><text transform="translate(895.07 492.65) scale(1.082 1)" font-size="14.30">0.030</text><text transform="translate(267.30 492.60) scale(1.050 1)" font-size="14.30" font-style="italic">T</text><text transform="translate(27.35 252.75) rotate(-90) scale(0.904 1)" font-size="23.26" font-style="italic">X</text><text transform="translate(30.75 236.6) rotate(-90) scale(1.09 1)" font-size="17.2" font-style="italic">t</text></svg></body></html>
